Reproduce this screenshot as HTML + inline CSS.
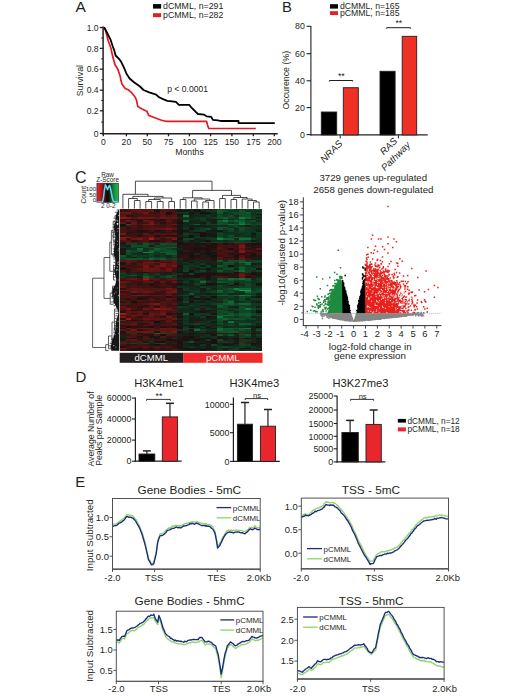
<!DOCTYPE html>
<html><head><meta charset="utf-8"><style>
html,body{margin:0;padding:0;background:#fff;width:520px;height:696px;overflow:hidden}
svg{display:block}
text{font-family:"Liberation Sans",sans-serif}
</style></head><body>
<svg width="520" height="696" viewBox="0 0 520 696">
<rect width="520" height="696" fill="#fff"/>
<text x="75.4" y="12.0" font-size="15.5" text-anchor="start" fill="#231f20">A</text>
<rect x="153.0" y="4.1" width="8.1" height="4.5" fill="#000"/>
<text x="163.0" y="8.9" font-size="8.8" text-anchor="start" fill="#231f20">dCMML, n=291</text>
<rect x="153.0" y="13.2" width="8.1" height="4.0" fill="#e21f26"/>
<text x="163.0" y="17.7" font-size="8.8" text-anchor="start" fill="#231f20">pCMML, n=282</text>
<line x1="103.1" y1="26.6" x2="103.1" y2="134.5" stroke="#231f20" stroke-width="1.5"/>
<line x1="102.3" y1="133.8" x2="277.7" y2="133.8" stroke="#231f20" stroke-width="1.5"/>
<line x1="99.8" y1="27.5" x2="103.1" y2="27.5" stroke="#231f20" stroke-width="1.3"/>
<text x="98.6" y="30.6" font-size="8.6" text-anchor="end" fill="#231f20">1.0</text>
<line x1="101.3" y1="37.95" x2="103.1" y2="37.95" stroke="#231f20" stroke-width="1.1"/>
<line x1="99.8" y1="48.4" x2="103.1" y2="48.4" stroke="#231f20" stroke-width="1.3"/>
<text x="98.6" y="51.5" font-size="8.6" text-anchor="end" fill="#231f20">0.8</text>
<line x1="101.3" y1="58.8" x2="103.1" y2="58.8" stroke="#231f20" stroke-width="1.1"/>
<line x1="99.8" y1="69.2" x2="103.1" y2="69.2" stroke="#231f20" stroke-width="1.3"/>
<text x="98.6" y="72.3" font-size="8.6" text-anchor="end" fill="#231f20">0.6</text>
<line x1="101.3" y1="79.7" x2="103.1" y2="79.7" stroke="#231f20" stroke-width="1.1"/>
<line x1="99.8" y1="90.2" x2="103.1" y2="90.2" stroke="#231f20" stroke-width="1.3"/>
<text x="98.6" y="93.3" font-size="8.6" text-anchor="end" fill="#231f20">0.4</text>
<line x1="101.3" y1="100.5" x2="103.1" y2="100.5" stroke="#231f20" stroke-width="1.1"/>
<line x1="99.8" y1="110.8" x2="103.1" y2="110.8" stroke="#231f20" stroke-width="1.3"/>
<text x="98.6" y="113.89999999999999" font-size="8.6" text-anchor="end" fill="#231f20">0.2</text>
<line x1="101.3" y1="122.15" x2="103.1" y2="122.15" stroke="#231f20" stroke-width="1.1"/>
<line x1="99.8" y1="133.5" x2="103.1" y2="133.5" stroke="#231f20" stroke-width="1.3"/>
<text x="98.6" y="136.6" font-size="8.6" text-anchor="end" fill="#231f20">0</text>
<line x1="103.3" y1="133.8" x2="103.3" y2="136.3" stroke="#231f20" stroke-width="1.3"/>
<text x="103.3" y="144.6" font-size="8.6" text-anchor="middle" fill="#231f20">0</text>
<line x1="126.4" y1="133.8" x2="126.4" y2="136.3" stroke="#231f20" stroke-width="1.3"/>
<text x="126.4" y="144.6" font-size="8.6" text-anchor="middle" fill="#231f20">20</text>
<line x1="147.3" y1="133.8" x2="147.3" y2="136.3" stroke="#231f20" stroke-width="1.3"/>
<text x="147.3" y="144.6" font-size="8.6" text-anchor="middle" fill="#231f20">50</text>
<line x1="168.5" y1="133.8" x2="168.5" y2="136.3" stroke="#231f20" stroke-width="1.3"/>
<text x="168.5" y="144.6" font-size="8.6" text-anchor="middle" fill="#231f20">75</text>
<line x1="189.4" y1="133.8" x2="189.4" y2="136.3" stroke="#231f20" stroke-width="1.3"/>
<text x="189.4" y="144.6" font-size="8.6" text-anchor="middle" fill="#231f20">100</text>
<line x1="210.6" y1="133.8" x2="210.6" y2="136.3" stroke="#231f20" stroke-width="1.3"/>
<text x="210.6" y="144.6" font-size="8.6" text-anchor="middle" fill="#231f20">125</text>
<line x1="231.9" y1="133.8" x2="231.9" y2="136.3" stroke="#231f20" stroke-width="1.3"/>
<text x="231.9" y="144.6" font-size="8.6" text-anchor="middle" fill="#231f20">150</text>
<line x1="253.3" y1="133.8" x2="253.3" y2="136.3" stroke="#231f20" stroke-width="1.3"/>
<text x="253.3" y="144.6" font-size="8.6" text-anchor="middle" fill="#231f20">175</text>
<line x1="274.3" y1="133.8" x2="274.3" y2="136.3" stroke="#231f20" stroke-width="1.3"/>
<text x="274.3" y="144.6" font-size="8.6" text-anchor="middle" fill="#231f20">200</text>
<text x="189.5" y="154.6" font-size="8.7" text-anchor="middle" fill="#231f20">Months</text>
<text x="83.0" y="80.6" font-size="8.8" text-anchor="middle" fill="#231f20" transform="rotate(-90 83.0 80.6)">Survival</text>
<text x="167.2" y="92.2" font-size="8.6" text-anchor="start" fill="#231f20">p &lt; 0.0001</text>
<polyline points="104.0,27.3 105.2,28.9 108.1,40.5 111.0,48.5 112.7,56.6 115.0,64.7 117.9,69.3 120.2,76.2 121.0,80.8 122.1,84.2 125.0,88.3 128.5,90.0 131.3,92.3 135.4,97.5 136.5,100.4 137.7,106.2 140.0,107.9 144.6,110.2 146.9,111.3 148.7,115.4 151.5,116.5 156.2,118.3 160.8,120.0 165.4,121.2 167.0,121.3 206.5,121.3 207.7,125.6 208.8,128.5 255.8,128.5" fill="none" stroke="#e01b22" stroke-width="1.7" stroke-linejoin="round"/>
<polyline points="104.0,27.3 106.9,32.4 110.4,39.3 112.7,46.2 114.4,50.8 115.6,55.5 119.0,58.9 120.8,61.2 124.2,68.2 126.6,74.0 129.6,78.5 134.0,82.3 140.0,86.5 143.5,90.0 149.2,92.3 156.2,94.6 158.5,96.9 163.1,99.2 167.3,100.8 171.9,101.3 176.0,101.9 178.8,104.8 189.2,104.8 191.5,107.7 195.0,111.2 197.9,114.0 204.2,114.6 206.5,116.3 211.2,116.9 212.9,119.8 218.0,120.4 220.4,121.0 238.5,121.0 238.5,123.1 274.8,123.1" fill="none" stroke="#000" stroke-width="1.8" stroke-linejoin="round"/>
<text x="281.9" y="11.9" font-size="14.8" text-anchor="start" fill="#231f20">B</text>
<rect x="330.0" y="4.2" width="8.0" height="4.4" fill="#000"/>
<text x="339.9" y="8.9" font-size="8.7" text-anchor="start" fill="#231f20">dCMML, n=165</text>
<rect x="330.0" y="11.2" width="8.0" height="3.8" fill="#e8201f"/>
<text x="339.9" y="15.7" font-size="8.7" text-anchor="start" fill="#231f20">pCMML, n=185</text>
<line x1="310.9" y1="26.0" x2="310.9" y2="135.4" stroke="#231f20" stroke-width="1.1"/>
<line x1="310.4" y1="134.9" x2="427.7" y2="134.9" stroke="#231f20" stroke-width="1.1"/>
<line x1="306.6" y1="26.3" x2="310.9" y2="26.3" stroke="#231f20" stroke-width="1.1"/>
<text x="304.9" y="29.400000000000002" font-size="8.8" text-anchor="end" fill="#231f20">80</text>
<line x1="306.6" y1="53.7" x2="310.9" y2="53.7" stroke="#231f20" stroke-width="1.1"/>
<text x="304.9" y="56.800000000000004" font-size="8.8" text-anchor="end" fill="#231f20">60</text>
<line x1="306.6" y1="80.8" x2="310.9" y2="80.8" stroke="#231f20" stroke-width="1.1"/>
<text x="304.9" y="83.89999999999999" font-size="8.8" text-anchor="end" fill="#231f20">40</text>
<line x1="306.6" y1="107.6" x2="310.9" y2="107.6" stroke="#231f20" stroke-width="1.1"/>
<text x="304.9" y="110.69999999999999" font-size="8.8" text-anchor="end" fill="#231f20">20</text>
<line x1="306.6" y1="134.6" x2="310.9" y2="134.6" stroke="#231f20" stroke-width="1.1"/>
<text x="304.9" y="137.7" font-size="8.8" text-anchor="end" fill="#231f20">0</text>
<text x="289.4" y="80.2" font-size="8.8" text-anchor="middle" fill="#231f20" transform="rotate(-90 289.4 80.2)">Occurence (%)</text>
<rect x="321.3" y="112.0" width="15.399999999999977" height="22.900000000000006" fill="#000" stroke="#231f20" stroke-width="0.9"/>
<rect x="343.3" y="87.7" width="15.0" height="47.2" fill="#ee3124" stroke="#231f20" stroke-width="0.9"/>
<rect x="380.0" y="71.3" width="15.100000000000023" height="63.60000000000001" fill="#000" stroke="#231f20" stroke-width="0.9"/>
<rect x="402.2" y="36.3" width="14.5" height="98.60000000000001" fill="#ee3124" stroke="#231f20" stroke-width="0.9"/>
<line x1="340.2" y1="134.9" x2="340.2" y2="138.4" stroke="#231f20" stroke-width="1.0"/>
<line x1="398.4" y1="134.9" x2="398.4" y2="138.4" stroke="#231f20" stroke-width="1.0"/>
<path d="M329.4,81.5 L329.4,80.5 L352.7,80.5 L352.7,81.5" fill="none" stroke="#231f20" stroke-width="1.0"/>
<text x="341.34999999999997" y="78.6" font-size="8.8" text-anchor="middle" fill="#231f20">**</text>
<path d="M386.7,28.7 L386.7,27.7 L410.4,27.7 L410.4,28.7" fill="none" stroke="#231f20" stroke-width="1.0"/>
<text x="398.84999999999997" y="25.8" font-size="8.8" text-anchor="middle" fill="#231f20">**</text>
<text x="343.0" y="144.3" font-size="9.6" text-anchor="end" fill="#231f20" transform="rotate(-45 343.0 144.3)" font-style="italic">NRAS</text>
<text x="397.8" y="141.6" font-size="9.6" text-anchor="end" fill="#231f20" transform="rotate(-45 397.8 141.6)" font-style="italic">RAS</text>
<text x="411.0" y="145.6" font-size="9.6" text-anchor="end" fill="#231f20" transform="rotate(-45 411.0 145.6)" font-style="italic">Pathway</text>
<text x="74.9" y="182.6" font-size="16" text-anchor="start" fill="#231f20">C</text>
<defs><linearGradient id="kg" x1="0" x2="1" y1="0" y2="0"><stop offset="0" stop-color="#e8222a"/><stop offset="0.18" stop-color="#b01c1f"/><stop offset="0.5" stop-color="#080808"/><stop offset="0.8" stop-color="#149040"/><stop offset="1" stop-color="#28b64c"/></linearGradient></defs>
<rect x="96.9" y="183.2" width="21.599999999999994" height="19.100000000000023" fill="url(#kg)" stroke="#231f20" stroke-width="0.6"/>
<polyline points="97.3,201.9 102.5,201.8 103.4,198.5 104.4,190.0 105.4,184.8 106.4,186.8 107.5,189.8 108.5,187.2 109.5,185.5 110.5,188.5 111.5,193.5 112.4,198.5 113.5,201.6 118.2,201.9" fill="none" stroke="#66d4ee" stroke-width="1.5" stroke-linejoin="round"/>
<text x="107.6" y="177.0" font-size="6.4" text-anchor="middle" fill="#231f20">Raw</text>
<text x="107.7" y="181.6" font-size="6.4" text-anchor="middle" fill="#231f20">Z-Score</text>
<text x="86.3" y="194.6" font-size="6.6" text-anchor="middle" fill="#231f20" transform="rotate(-90 86.3 194.6)">Count</text>
<text x="96.2" y="190.8" font-size="6.2" text-anchor="end" fill="#231f20">100</text>
<text x="96.2" y="196.6" font-size="6.2" text-anchor="end" fill="#231f20">50</text>
<text x="96.2" y="202.4" font-size="6.2" text-anchor="end" fill="#231f20">0</text>
<text x="108.2" y="207.8" font-size="6.4" text-anchor="middle" fill="#231f20">2 0-2</text>
<g shape-rendering="crispEdges"><rect x="120.00" y="208.60" width="6.04" height="1.96" fill="#511313"/><rect x="125.74" y="208.60" width="6.04" height="1.96" fill="#501313"/><rect x="131.48" y="208.60" width="6.04" height="1.96" fill="#571413"/><rect x="137.22" y="208.60" width="6.04" height="1.96" fill="#3b1212"/><rect x="142.96" y="208.60" width="6.04" height="1.96" fill="#5e1413"/><rect x="148.70" y="208.60" width="6.04" height="1.96" fill="#461312"/><rect x="154.44" y="208.60" width="6.04" height="1.96" fill="#3a1211"/><rect x="160.18" y="208.60" width="6.04" height="1.96" fill="#631514"/><rect x="165.92" y="208.60" width="6.04" height="1.96" fill="#661514"/><rect x="171.66" y="208.60" width="6.04" height="1.96" fill="#471312"/><rect x="177.40" y="208.60" width="5.94" height="1.96" fill="#131e16"/><rect x="183.04" y="208.60" width="5.94" height="1.96" fill="#12351f"/><rect x="188.68" y="208.60" width="5.94" height="1.96" fill="#132117"/><rect x="194.32" y="208.60" width="5.94" height="1.96" fill="#131e16"/><rect x="199.96" y="208.60" width="5.94" height="1.96" fill="#12331e"/><rect x="205.60" y="208.60" width="5.94" height="1.96" fill="#131c15"/><rect x="211.24" y="208.60" width="5.94" height="1.96" fill="#122a1b"/><rect x="216.88" y="208.60" width="5.94" height="1.96" fill="#104a28"/><rect x="222.52" y="208.60" width="5.94" height="1.96" fill="#113f23"/><rect x="228.16" y="208.60" width="5.94" height="1.96" fill="#10522b"/><rect x="233.80" y="208.60" width="5.94" height="1.96" fill="#113820"/><rect x="239.44" y="208.60" width="5.94" height="1.96" fill="#123720"/><rect x="245.08" y="208.60" width="5.94" height="1.96" fill="#104b28"/><rect x="250.72" y="208.60" width="5.94" height="1.96" fill="#113d22"/><rect x="256.36" y="208.60" width="5.94" height="1.96" fill="#0f6031"/><rect x="120.00" y="210.26" width="6.04" height="1.96" fill="#351211"/><rect x="125.74" y="210.26" width="6.04" height="1.96" fill="#3c1212"/><rect x="131.48" y="210.26" width="6.04" height="1.96" fill="#571413"/><rect x="137.22" y="210.26" width="6.04" height="1.96" fill="#5d1413"/><rect x="142.96" y="210.26" width="6.04" height="1.96" fill="#4f1313"/><rect x="148.70" y="210.26" width="6.04" height="1.96" fill="#631514"/><rect x="154.44" y="210.26" width="6.04" height="1.96" fill="#231010"/><rect x="160.18" y="210.26" width="6.04" height="1.96" fill="#4b1312"/><rect x="165.92" y="210.26" width="6.04" height="1.96" fill="#4a1312"/><rect x="171.66" y="210.26" width="6.04" height="1.96" fill="#451312"/><rect x="177.40" y="210.26" width="5.94" height="1.96" fill="#131914"/><rect x="183.04" y="210.26" width="5.94" height="1.96" fill="#131b15"/><rect x="188.68" y="210.26" width="5.94" height="1.96" fill="#132519"/><rect x="194.32" y="210.26" width="5.94" height="1.96" fill="#181010"/><rect x="199.96" y="210.26" width="5.94" height="1.96" fill="#132419"/><rect x="205.60" y="210.26" width="5.94" height="1.96" fill="#113921"/><rect x="211.24" y="210.26" width="5.94" height="1.96" fill="#12351f"/><rect x="216.88" y="210.26" width="5.94" height="1.96" fill="#0f5c2f"/><rect x="222.52" y="210.26" width="5.94" height="1.96" fill="#104d29"/><rect x="228.16" y="210.26" width="5.94" height="1.96" fill="#113820"/><rect x="233.80" y="210.26" width="5.94" height="1.96" fill="#12341f"/><rect x="239.44" y="210.26" width="5.94" height="1.96" fill="#10532b"/><rect x="245.08" y="210.26" width="5.94" height="1.96" fill="#12331f"/><rect x="250.72" y="210.26" width="5.94" height="1.96" fill="#113820"/><rect x="256.36" y="210.26" width="5.94" height="1.96" fill="#12341f"/><rect x="120.00" y="211.91" width="6.04" height="1.96" fill="#661514"/><rect x="125.74" y="211.91" width="6.04" height="1.96" fill="#711514"/><rect x="131.48" y="211.91" width="6.04" height="1.96" fill="#451312"/><rect x="137.22" y="211.91" width="6.04" height="1.96" fill="#511313"/><rect x="142.96" y="211.91" width="6.04" height="1.96" fill="#6c1514"/><rect x="148.70" y="211.91" width="6.04" height="1.96" fill="#351211"/><rect x="154.44" y="211.91" width="6.04" height="1.96" fill="#3c1212"/><rect x="160.18" y="211.91" width="6.04" height="1.96" fill="#5a1413"/><rect x="165.92" y="211.91" width="6.04" height="1.96" fill="#1b1010"/><rect x="171.66" y="211.91" width="6.04" height="1.96" fill="#471312"/><rect x="177.40" y="211.91" width="5.94" height="1.96" fill="#122e1d"/><rect x="183.04" y="211.91" width="5.94" height="1.96" fill="#12331e"/><rect x="188.68" y="211.91" width="5.94" height="1.96" fill="#131a14"/><rect x="194.32" y="211.91" width="5.94" height="1.96" fill="#132419"/><rect x="199.96" y="211.91" width="5.94" height="1.96" fill="#171010"/><rect x="205.60" y="211.91" width="5.94" height="1.96" fill="#1c1010"/><rect x="211.24" y="211.91" width="5.94" height="1.96" fill="#12291a"/><rect x="216.88" y="211.91" width="5.94" height="1.96" fill="#0f592e"/><rect x="222.52" y="211.91" width="5.94" height="1.96" fill="#12301d"/><rect x="228.16" y="211.91" width="5.94" height="1.96" fill="#113e23"/><rect x="233.80" y="211.91" width="5.94" height="1.96" fill="#104c28"/><rect x="239.44" y="211.91" width="5.94" height="1.96" fill="#104e29"/><rect x="245.08" y="211.91" width="5.94" height="1.96" fill="#0f5b2f"/><rect x="250.72" y="211.91" width="5.94" height="1.96" fill="#12301d"/><rect x="256.36" y="211.91" width="5.94" height="1.96" fill="#113f23"/><rect x="120.00" y="213.57" width="6.04" height="1.96" fill="#461312"/><rect x="125.74" y="213.57" width="6.04" height="1.96" fill="#431212"/><rect x="131.48" y="213.57" width="6.04" height="1.96" fill="#341211"/><rect x="137.22" y="213.57" width="6.04" height="1.96" fill="#341111"/><rect x="142.96" y="213.57" width="6.04" height="1.96" fill="#551413"/><rect x="148.70" y="213.57" width="6.04" height="1.96" fill="#4f1313"/><rect x="154.44" y="213.57" width="6.04" height="1.96" fill="#451312"/><rect x="160.18" y="213.57" width="6.04" height="1.96" fill="#461312"/><rect x="165.92" y="213.57" width="6.04" height="1.96" fill="#231010"/><rect x="171.66" y="213.57" width="6.04" height="1.96" fill="#441312"/><rect x="177.40" y="213.57" width="5.94" height="1.96" fill="#171010"/><rect x="183.04" y="213.57" width="5.94" height="1.96" fill="#13271a"/><rect x="188.68" y="213.57" width="5.94" height="1.96" fill="#131b15"/><rect x="194.32" y="213.57" width="5.94" height="1.96" fill="#122d1c"/><rect x="199.96" y="213.57" width="5.94" height="1.96" fill="#13271a"/><rect x="205.60" y="213.57" width="5.94" height="1.96" fill="#132519"/><rect x="211.24" y="213.57" width="5.94" height="1.96" fill="#132418"/><rect x="216.88" y="213.57" width="5.94" height="1.96" fill="#113e23"/><rect x="222.52" y="213.57" width="5.94" height="1.96" fill="#113921"/><rect x="228.16" y="213.57" width="5.94" height="1.96" fill="#12331e"/><rect x="233.80" y="213.57" width="5.94" height="1.96" fill="#113c22"/><rect x="239.44" y="213.57" width="5.94" height="1.96" fill="#104d29"/><rect x="245.08" y="213.57" width="5.94" height="1.96" fill="#114626"/><rect x="250.72" y="213.57" width="5.94" height="1.96" fill="#12301d"/><rect x="256.36" y="213.57" width="5.94" height="1.96" fill="#131914"/><rect x="120.00" y="215.22" width="6.04" height="1.96" fill="#5f1414"/><rect x="125.74" y="215.22" width="6.04" height="1.96" fill="#2b1111"/><rect x="131.48" y="215.22" width="6.04" height="1.96" fill="#361211"/><rect x="137.22" y="215.22" width="6.04" height="1.96" fill="#491312"/><rect x="142.96" y="215.22" width="6.04" height="1.96" fill="#461312"/><rect x="148.70" y="215.22" width="6.04" height="1.96" fill="#4a1312"/><rect x="154.44" y="215.22" width="6.04" height="1.96" fill="#421212"/><rect x="160.18" y="215.22" width="6.04" height="1.96" fill="#5a1413"/><rect x="165.92" y="215.22" width="6.04" height="1.96" fill="#4b1312"/><rect x="171.66" y="215.22" width="6.04" height="1.96" fill="#601414"/><rect x="177.40" y="215.22" width="5.94" height="1.96" fill="#131f16"/><rect x="183.04" y="215.22" width="5.94" height="1.96" fill="#0d793a"/><rect x="188.68" y="215.22" width="5.94" height="1.96" fill="#132218"/><rect x="194.32" y="215.22" width="5.94" height="1.96" fill="#132519"/><rect x="199.96" y="215.22" width="5.94" height="1.96" fill="#132419"/><rect x="205.60" y="215.22" width="5.94" height="1.96" fill="#113821"/><rect x="211.24" y="215.22" width="5.94" height="1.96" fill="#132519"/><rect x="216.88" y="215.22" width="5.94" height="1.96" fill="#104d29"/><rect x="222.52" y="215.22" width="5.94" height="1.96" fill="#12351f"/><rect x="228.16" y="215.22" width="5.94" height="1.96" fill="#104c29"/><rect x="233.80" y="215.22" width="5.94" height="1.96" fill="#122c1c"/><rect x="239.44" y="215.22" width="5.94" height="1.96" fill="#104a28"/><rect x="245.08" y="215.22" width="5.94" height="1.96" fill="#104d29"/><rect x="250.72" y="215.22" width="5.94" height="1.96" fill="#123620"/><rect x="256.36" y="215.22" width="5.94" height="1.96" fill="#12331e"/><rect x="120.00" y="216.88" width="6.04" height="1.96" fill="#8a1716"/><rect x="125.74" y="216.88" width="6.04" height="1.96" fill="#7a1615"/><rect x="131.48" y="216.88" width="6.04" height="1.96" fill="#581413"/><rect x="137.22" y="216.88" width="6.04" height="1.96" fill="#721615"/><rect x="142.96" y="216.88" width="6.04" height="1.96" fill="#6b1514"/><rect x="148.70" y="216.88" width="6.04" height="1.96" fill="#751615"/><rect x="154.44" y="216.88" width="6.04" height="1.96" fill="#561413"/><rect x="160.18" y="216.88" width="6.04" height="1.96" fill="#6d1514"/><rect x="165.92" y="216.88" width="6.04" height="1.96" fill="#621414"/><rect x="171.66" y="216.88" width="6.04" height="1.96" fill="#6a1514"/><rect x="177.40" y="216.88" width="5.94" height="1.96" fill="#12281a"/><rect x="183.04" y="216.88" width="5.94" height="1.96" fill="#123720"/><rect x="188.68" y="216.88" width="5.94" height="1.96" fill="#132419"/><rect x="194.32" y="216.88" width="5.94" height="1.96" fill="#12321e"/><rect x="199.96" y="216.88" width="5.94" height="1.96" fill="#113c22"/><rect x="205.60" y="216.88" width="5.94" height="1.96" fill="#122d1c"/><rect x="211.24" y="216.88" width="5.94" height="1.96" fill="#113821"/><rect x="216.88" y="216.88" width="5.94" height="1.96" fill="#104f2a"/><rect x="222.52" y="216.88" width="5.94" height="1.96" fill="#0f6231"/><rect x="228.16" y="216.88" width="5.94" height="1.96" fill="#114425"/><rect x="233.80" y="216.88" width="5.94" height="1.96" fill="#113f23"/><rect x="239.44" y="216.88" width="5.94" height="1.96" fill="#0d7c3c"/><rect x="245.08" y="216.88" width="5.94" height="1.96" fill="#0f5e30"/><rect x="250.72" y="216.88" width="5.94" height="1.96" fill="#113f23"/><rect x="256.36" y="216.88" width="5.94" height="1.96" fill="#132619"/><rect x="120.00" y="218.53" width="6.04" height="1.96" fill="#361211"/><rect x="125.74" y="218.53" width="6.04" height="1.96" fill="#281110"/><rect x="131.48" y="218.53" width="6.04" height="1.96" fill="#131b15"/><rect x="137.22" y="218.53" width="6.04" height="1.96" fill="#351211"/><rect x="142.96" y="218.53" width="6.04" height="1.96" fill="#391211"/><rect x="148.70" y="218.53" width="6.04" height="1.96" fill="#1c1010"/><rect x="154.44" y="218.53" width="6.04" height="1.96" fill="#431212"/><rect x="160.18" y="218.53" width="6.04" height="1.96" fill="#1d1010"/><rect x="165.92" y="218.53" width="6.04" height="1.96" fill="#4c1312"/><rect x="171.66" y="218.53" width="6.04" height="1.96" fill="#431212"/><rect x="177.40" y="218.53" width="5.94" height="1.96" fill="#2b1111"/><rect x="183.04" y="218.53" width="5.94" height="1.96" fill="#122d1c"/><rect x="188.68" y="218.53" width="5.94" height="1.96" fill="#12311e"/><rect x="194.32" y="218.53" width="5.94" height="1.96" fill="#122b1b"/><rect x="199.96" y="218.53" width="5.94" height="1.96" fill="#113d23"/><rect x="205.60" y="218.53" width="5.94" height="1.96" fill="#132318"/><rect x="211.24" y="218.53" width="5.94" height="1.96" fill="#131d16"/><rect x="216.88" y="218.53" width="5.94" height="1.96" fill="#122a1b"/><rect x="222.52" y="218.53" width="5.94" height="1.96" fill="#113820"/><rect x="228.16" y="218.53" width="5.94" height="1.96" fill="#132619"/><rect x="233.80" y="218.53" width="5.94" height="1.96" fill="#113d23"/><rect x="239.44" y="218.53" width="5.94" height="1.96" fill="#104a28"/><rect x="245.08" y="218.53" width="5.94" height="1.96" fill="#122c1c"/><rect x="250.72" y="218.53" width="5.94" height="1.96" fill="#13271a"/><rect x="256.36" y="218.53" width="5.94" height="1.96" fill="#113d23"/><rect x="120.00" y="220.19" width="6.04" height="1.96" fill="#3c1212"/><rect x="125.74" y="220.19" width="6.04" height="1.96" fill="#6d1514"/><rect x="131.48" y="220.19" width="6.04" height="1.96" fill="#4f1313"/><rect x="137.22" y="220.19" width="6.04" height="1.96" fill="#261110"/><rect x="142.96" y="220.19" width="6.04" height="1.96" fill="#671514"/><rect x="148.70" y="220.19" width="6.04" height="1.96" fill="#5f1414"/><rect x="154.44" y="220.19" width="6.04" height="1.96" fill="#2c1111"/><rect x="160.18" y="220.19" width="6.04" height="1.96" fill="#321111"/><rect x="165.92" y="220.19" width="6.04" height="1.96" fill="#571413"/><rect x="171.66" y="220.19" width="6.04" height="1.96" fill="#3b1212"/><rect x="177.40" y="220.19" width="5.94" height="1.96" fill="#231010"/><rect x="183.04" y="220.19" width="5.94" height="1.96" fill="#0e6934"/><rect x="188.68" y="220.19" width="5.94" height="1.96" fill="#132117"/><rect x="194.32" y="220.19" width="5.94" height="1.96" fill="#13271a"/><rect x="199.96" y="220.19" width="5.94" height="1.96" fill="#12331f"/><rect x="205.60" y="220.19" width="5.94" height="1.96" fill="#12291b"/><rect x="211.24" y="220.19" width="5.94" height="1.96" fill="#131f17"/><rect x="216.88" y="220.19" width="5.94" height="1.96" fill="#0f582d"/><rect x="222.52" y="220.19" width="5.94" height="1.96" fill="#0e7639"/><rect x="228.16" y="220.19" width="5.94" height="1.96" fill="#104f2a"/><rect x="233.80" y="220.19" width="5.94" height="1.96" fill="#0f592e"/><rect x="239.44" y="220.19" width="5.94" height="1.96" fill="#0f592e"/><rect x="245.08" y="220.19" width="5.94" height="1.96" fill="#113f23"/><rect x="250.72" y="220.19" width="5.94" height="1.96" fill="#104a28"/><rect x="256.36" y="220.19" width="5.94" height="1.96" fill="#122d1c"/><rect x="120.00" y="221.85" width="6.04" height="1.96" fill="#621514"/><rect x="125.74" y="221.85" width="6.04" height="1.96" fill="#1e1010"/><rect x="131.48" y="221.85" width="6.04" height="1.96" fill="#671514"/><rect x="137.22" y="221.85" width="6.04" height="1.96" fill="#351211"/><rect x="142.96" y="221.85" width="6.04" height="1.96" fill="#401212"/><rect x="148.70" y="221.85" width="6.04" height="1.96" fill="#751615"/><rect x="154.44" y="221.85" width="6.04" height="1.96" fill="#421212"/><rect x="160.18" y="221.85" width="6.04" height="1.96" fill="#261110"/><rect x="165.92" y="221.85" width="6.04" height="1.96" fill="#471312"/><rect x="171.66" y="221.85" width="6.04" height="1.96" fill="#3b1212"/><rect x="177.40" y="221.85" width="5.94" height="1.96" fill="#171010"/><rect x="183.04" y="221.85" width="5.94" height="1.96" fill="#132619"/><rect x="188.68" y="221.85" width="5.94" height="1.96" fill="#132619"/><rect x="194.32" y="221.85" width="5.94" height="1.96" fill="#132519"/><rect x="199.96" y="221.85" width="5.94" height="1.96" fill="#131b15"/><rect x="205.60" y="221.85" width="5.94" height="1.96" fill="#12351f"/><rect x="211.24" y="221.85" width="5.94" height="1.96" fill="#132017"/><rect x="216.88" y="221.85" width="5.94" height="1.96" fill="#104e29"/><rect x="222.52" y="221.85" width="5.94" height="1.96" fill="#104c28"/><rect x="228.16" y="221.85" width="5.94" height="1.96" fill="#12311e"/><rect x="233.80" y="221.85" width="5.94" height="1.96" fill="#114224"/><rect x="239.44" y="221.85" width="5.94" height="1.96" fill="#0e6f37"/><rect x="245.08" y="221.85" width="5.94" height="1.96" fill="#114425"/><rect x="250.72" y="221.85" width="5.94" height="1.96" fill="#113921"/><rect x="256.36" y="221.85" width="5.94" height="1.96" fill="#113f23"/><rect x="120.00" y="223.50" width="6.04" height="1.96" fill="#1b1010"/><rect x="125.74" y="223.50" width="6.04" height="1.96" fill="#941816"/><rect x="131.48" y="223.50" width="6.04" height="1.96" fill="#611414"/><rect x="137.22" y="223.50" width="6.04" height="1.96" fill="#4d1313"/><rect x="142.96" y="223.50" width="6.04" height="1.96" fill="#781615"/><rect x="148.70" y="223.50" width="6.04" height="1.96" fill="#831715"/><rect x="154.44" y="223.50" width="6.04" height="1.96" fill="#581413"/><rect x="160.18" y="223.50" width="6.04" height="1.96" fill="#421212"/><rect x="165.92" y="223.50" width="6.04" height="1.96" fill="#4b1312"/><rect x="171.66" y="223.50" width="6.04" height="1.96" fill="#721615"/><rect x="177.40" y="223.50" width="5.94" height="1.96" fill="#131c15"/><rect x="183.04" y="223.50" width="5.94" height="1.96" fill="#132619"/><rect x="188.68" y="223.50" width="5.94" height="1.96" fill="#12351f"/><rect x="194.32" y="223.50" width="5.94" height="1.96" fill="#0f5b2f"/><rect x="199.96" y="223.50" width="5.94" height="1.96" fill="#122f1d"/><rect x="205.60" y="223.50" width="5.94" height="1.96" fill="#113f23"/><rect x="211.24" y="223.50" width="5.94" height="1.96" fill="#113f23"/><rect x="216.88" y="223.50" width="5.94" height="1.96" fill="#0f582d"/><rect x="222.52" y="223.50" width="5.94" height="1.96" fill="#104a28"/><rect x="228.16" y="223.50" width="5.94" height="1.96" fill="#0e6a35"/><rect x="233.80" y="223.50" width="5.94" height="1.96" fill="#0f592e"/><rect x="239.44" y="223.50" width="5.94" height="1.96" fill="#0d7b3b"/><rect x="245.08" y="223.50" width="5.94" height="1.96" fill="#0f582d"/><rect x="250.72" y="223.50" width="5.94" height="1.96" fill="#114526"/><rect x="256.36" y="223.50" width="5.94" height="1.96" fill="#104a28"/><rect x="120.00" y="225.16" width="6.04" height="1.96" fill="#1f1010"/><rect x="125.74" y="225.16" width="6.04" height="1.96" fill="#122d1c"/><rect x="131.48" y="225.16" width="6.04" height="1.96" fill="#4c1312"/><rect x="137.22" y="225.16" width="6.04" height="1.96" fill="#321111"/><rect x="142.96" y="225.16" width="6.04" height="1.96" fill="#481312"/><rect x="148.70" y="225.16" width="6.04" height="1.96" fill="#491312"/><rect x="154.44" y="225.16" width="6.04" height="1.96" fill="#3c1212"/><rect x="160.18" y="225.16" width="6.04" height="1.96" fill="#3d1212"/><rect x="165.92" y="225.16" width="6.04" height="1.96" fill="#4d1313"/><rect x="171.66" y="225.16" width="6.04" height="1.96" fill="#351211"/><rect x="177.40" y="225.16" width="5.94" height="1.96" fill="#131814"/><rect x="183.04" y="225.16" width="5.94" height="1.96" fill="#12291a"/><rect x="188.68" y="225.16" width="5.94" height="1.96" fill="#131f16"/><rect x="194.32" y="225.16" width="5.94" height="1.96" fill="#131d16"/><rect x="199.96" y="225.16" width="5.94" height="1.96" fill="#131f16"/><rect x="205.60" y="225.16" width="5.94" height="1.96" fill="#132318"/><rect x="211.24" y="225.16" width="5.94" height="1.96" fill="#122a1b"/><rect x="216.88" y="225.16" width="5.94" height="1.96" fill="#122f1d"/><rect x="222.52" y="225.16" width="5.94" height="1.96" fill="#122d1c"/><rect x="228.16" y="225.16" width="5.94" height="1.96" fill="#113e23"/><rect x="233.80" y="225.16" width="5.94" height="1.96" fill="#114425"/><rect x="239.44" y="225.16" width="5.94" height="1.96" fill="#122e1d"/><rect x="245.08" y="225.16" width="5.94" height="1.96" fill="#131e16"/><rect x="250.72" y="225.16" width="5.94" height="1.96" fill="#12351f"/><rect x="256.36" y="225.16" width="5.94" height="1.96" fill="#12281a"/><rect x="120.00" y="226.81" width="6.04" height="1.96" fill="#123620"/><rect x="125.74" y="226.81" width="6.04" height="1.96" fill="#281110"/><rect x="131.48" y="226.81" width="6.04" height="1.96" fill="#481312"/><rect x="137.22" y="226.81" width="6.04" height="1.96" fill="#371211"/><rect x="142.96" y="226.81" width="6.04" height="1.96" fill="#441312"/><rect x="148.70" y="226.81" width="6.04" height="1.96" fill="#4e1313"/><rect x="154.44" y="226.81" width="6.04" height="1.96" fill="#451312"/><rect x="160.18" y="226.81" width="6.04" height="1.96" fill="#4d1313"/><rect x="165.92" y="226.81" width="6.04" height="1.96" fill="#4e1313"/><rect x="171.66" y="226.81" width="6.04" height="1.96" fill="#4a1312"/><rect x="177.40" y="226.81" width="5.94" height="1.96" fill="#131914"/><rect x="183.04" y="226.81" width="5.94" height="1.96" fill="#12311e"/><rect x="188.68" y="226.81" width="5.94" height="1.96" fill="#132218"/><rect x="194.32" y="226.81" width="5.94" height="1.96" fill="#122a1b"/><rect x="199.96" y="226.81" width="5.94" height="1.96" fill="#122d1c"/><rect x="205.60" y="226.81" width="5.94" height="1.96" fill="#132117"/><rect x="211.24" y="226.81" width="5.94" height="1.96" fill="#122f1d"/><rect x="216.88" y="226.81" width="5.94" height="1.96" fill="#10522b"/><rect x="222.52" y="226.81" width="5.94" height="1.96" fill="#10512b"/><rect x="228.16" y="226.81" width="5.94" height="1.96" fill="#122e1d"/><rect x="233.80" y="226.81" width="5.94" height="1.96" fill="#113f23"/><rect x="239.44" y="226.81" width="5.94" height="1.96" fill="#104b28"/><rect x="245.08" y="226.81" width="5.94" height="1.96" fill="#114224"/><rect x="250.72" y="226.81" width="5.94" height="1.96" fill="#13271a"/><rect x="256.36" y="226.81" width="5.94" height="1.96" fill="#12331f"/><rect x="120.00" y="228.47" width="6.04" height="1.96" fill="#4a1312"/><rect x="125.74" y="228.47" width="6.04" height="1.96" fill="#301111"/><rect x="131.48" y="228.47" width="6.04" height="1.96" fill="#441312"/><rect x="137.22" y="228.47" width="6.04" height="1.96" fill="#3d1212"/><rect x="142.96" y="228.47" width="6.04" height="1.96" fill="#501313"/><rect x="148.70" y="228.47" width="6.04" height="1.96" fill="#4f1313"/><rect x="154.44" y="228.47" width="6.04" height="1.96" fill="#591413"/><rect x="160.18" y="228.47" width="6.04" height="1.96" fill="#641514"/><rect x="165.92" y="228.47" width="6.04" height="1.96" fill="#741615"/><rect x="171.66" y="228.47" width="6.04" height="1.96" fill="#5d1413"/><rect x="177.40" y="228.47" width="5.94" height="1.96" fill="#131814"/><rect x="183.04" y="228.47" width="5.94" height="1.96" fill="#12321e"/><rect x="188.68" y="228.47" width="5.94" height="1.96" fill="#191010"/><rect x="194.32" y="228.47" width="5.94" height="1.96" fill="#122f1d"/><rect x="199.96" y="228.47" width="5.94" height="1.96" fill="#113b22"/><rect x="205.60" y="228.47" width="5.94" height="1.96" fill="#104c29"/><rect x="211.24" y="228.47" width="5.94" height="1.96" fill="#132218"/><rect x="216.88" y="228.47" width="5.94" height="1.96" fill="#10552c"/><rect x="222.52" y="228.47" width="5.94" height="1.96" fill="#113d22"/><rect x="228.16" y="228.47" width="5.94" height="1.96" fill="#104b28"/><rect x="233.80" y="228.47" width="5.94" height="1.96" fill="#122c1c"/><rect x="239.44" y="228.47" width="5.94" height="1.96" fill="#104a28"/><rect x="245.08" y="228.47" width="5.94" height="1.96" fill="#123620"/><rect x="250.72" y="228.47" width="5.94" height="1.96" fill="#12331e"/><rect x="256.36" y="228.47" width="5.94" height="1.96" fill="#13271a"/><rect x="120.00" y="230.13" width="6.04" height="1.96" fill="#4d1312"/><rect x="125.74" y="230.13" width="6.04" height="1.96" fill="#3d1212"/><rect x="131.48" y="230.13" width="6.04" height="1.96" fill="#351211"/><rect x="137.22" y="230.13" width="6.04" height="1.96" fill="#221010"/><rect x="142.96" y="230.13" width="6.04" height="1.96" fill="#241010"/><rect x="148.70" y="230.13" width="6.04" height="1.96" fill="#3d1212"/><rect x="154.44" y="230.13" width="6.04" height="1.96" fill="#1d1010"/><rect x="160.18" y="230.13" width="6.04" height="1.96" fill="#131f16"/><rect x="165.92" y="230.13" width="6.04" height="1.96" fill="#431212"/><rect x="171.66" y="230.13" width="6.04" height="1.96" fill="#261110"/><rect x="177.40" y="230.13" width="5.94" height="1.96" fill="#1d1010"/><rect x="183.04" y="230.13" width="5.94" height="1.96" fill="#131814"/><rect x="188.68" y="230.13" width="5.94" height="1.96" fill="#122b1b"/><rect x="194.32" y="230.13" width="5.94" height="1.96" fill="#123720"/><rect x="199.96" y="230.13" width="5.94" height="1.96" fill="#113820"/><rect x="205.60" y="230.13" width="5.94" height="1.96" fill="#131f16"/><rect x="211.24" y="230.13" width="5.94" height="1.96" fill="#131b15"/><rect x="216.88" y="230.13" width="5.94" height="1.96" fill="#131814"/><rect x="222.52" y="230.13" width="5.94" height="1.96" fill="#122b1b"/><rect x="228.16" y="230.13" width="5.94" height="1.96" fill="#114124"/><rect x="233.80" y="230.13" width="5.94" height="1.96" fill="#122f1d"/><rect x="239.44" y="230.13" width="5.94" height="1.96" fill="#114124"/><rect x="245.08" y="230.13" width="5.94" height="1.96" fill="#113921"/><rect x="250.72" y="230.13" width="5.94" height="1.96" fill="#12331e"/><rect x="256.36" y="230.13" width="5.94" height="1.96" fill="#131f17"/><rect x="120.00" y="231.78" width="6.04" height="1.96" fill="#3d1212"/><rect x="125.74" y="231.78" width="6.04" height="1.96" fill="#291111"/><rect x="131.48" y="231.78" width="6.04" height="1.96" fill="#2e1111"/><rect x="137.22" y="231.78" width="6.04" height="1.96" fill="#2b1111"/><rect x="142.96" y="231.78" width="6.04" height="1.96" fill="#2e1111"/><rect x="148.70" y="231.78" width="6.04" height="1.96" fill="#241010"/><rect x="154.44" y="231.78" width="6.04" height="1.96" fill="#371211"/><rect x="160.18" y="231.78" width="6.04" height="1.96" fill="#291111"/><rect x="165.92" y="231.78" width="6.04" height="1.96" fill="#311111"/><rect x="171.66" y="231.78" width="6.04" height="1.96" fill="#3e1212"/><rect x="177.40" y="231.78" width="5.94" height="1.96" fill="#1f1010"/><rect x="183.04" y="231.78" width="5.94" height="1.96" fill="#132419"/><rect x="188.68" y="231.78" width="5.94" height="1.96" fill="#131f17"/><rect x="194.32" y="231.78" width="5.94" height="1.96" fill="#161010"/><rect x="199.96" y="231.78" width="5.94" height="1.96" fill="#131914"/><rect x="205.60" y="231.78" width="5.94" height="1.96" fill="#12291a"/><rect x="211.24" y="231.78" width="5.94" height="1.96" fill="#132017"/><rect x="216.88" y="231.78" width="5.94" height="1.96" fill="#12351f"/><rect x="222.52" y="231.78" width="5.94" height="1.96" fill="#132519"/><rect x="228.16" y="231.78" width="5.94" height="1.96" fill="#122d1c"/><rect x="233.80" y="231.78" width="5.94" height="1.96" fill="#12331e"/><rect x="239.44" y="231.78" width="5.94" height="1.96" fill="#113c22"/><rect x="245.08" y="231.78" width="5.94" height="1.96" fill="#12321e"/><rect x="250.72" y="231.78" width="5.94" height="1.96" fill="#122d1c"/><rect x="256.36" y="231.78" width="5.94" height="1.96" fill="#113c22"/><rect x="120.00" y="233.44" width="6.04" height="1.96" fill="#791615"/><rect x="125.74" y="233.44" width="6.04" height="1.96" fill="#311111"/><rect x="131.48" y="233.44" width="6.04" height="1.96" fill="#3d1212"/><rect x="137.22" y="233.44" width="6.04" height="1.96" fill="#311111"/><rect x="142.96" y="233.44" width="6.04" height="1.96" fill="#5a1413"/><rect x="148.70" y="233.44" width="6.04" height="1.96" fill="#3d1212"/><rect x="154.44" y="233.44" width="6.04" height="1.96" fill="#4f1313"/><rect x="160.18" y="233.44" width="6.04" height="1.96" fill="#4f1313"/><rect x="165.92" y="233.44" width="6.04" height="1.96" fill="#4b1312"/><rect x="171.66" y="233.44" width="6.04" height="1.96" fill="#581413"/><rect x="177.40" y="233.44" width="5.94" height="1.96" fill="#131814"/><rect x="183.04" y="233.44" width="5.94" height="1.96" fill="#113e23"/><rect x="188.68" y="233.44" width="5.94" height="1.96" fill="#122e1c"/><rect x="194.32" y="233.44" width="5.94" height="1.96" fill="#122d1c"/><rect x="199.96" y="233.44" width="5.94" height="1.96" fill="#1a1010"/><rect x="205.60" y="233.44" width="5.94" height="1.96" fill="#201010"/><rect x="211.24" y="233.44" width="5.94" height="1.96" fill="#131b15"/><rect x="216.88" y="233.44" width="5.94" height="1.96" fill="#114225"/><rect x="222.52" y="233.44" width="5.94" height="1.96" fill="#12321e"/><rect x="228.16" y="233.44" width="5.94" height="1.96" fill="#122f1d"/><rect x="233.80" y="233.44" width="5.94" height="1.96" fill="#122c1c"/><rect x="239.44" y="233.44" width="5.94" height="1.96" fill="#122b1b"/><rect x="245.08" y="233.44" width="5.94" height="1.96" fill="#113921"/><rect x="250.72" y="233.44" width="5.94" height="1.96" fill="#131814"/><rect x="256.36" y="233.44" width="5.94" height="1.96" fill="#113a21"/><rect x="120.00" y="235.09" width="6.04" height="1.96" fill="#132218"/><rect x="125.74" y="235.09" width="6.04" height="1.96" fill="#401212"/><rect x="131.48" y="235.09" width="6.04" height="1.96" fill="#3d1212"/><rect x="137.22" y="235.09" width="6.04" height="1.96" fill="#281110"/><rect x="142.96" y="235.09" width="6.04" height="1.96" fill="#411212"/><rect x="148.70" y="235.09" width="6.04" height="1.96" fill="#571413"/><rect x="154.44" y="235.09" width="6.04" height="1.96" fill="#231010"/><rect x="160.18" y="235.09" width="6.04" height="1.96" fill="#381211"/><rect x="165.92" y="235.09" width="6.04" height="1.96" fill="#271110"/><rect x="171.66" y="235.09" width="6.04" height="1.96" fill="#2c1111"/><rect x="177.40" y="235.09" width="5.94" height="1.96" fill="#132218"/><rect x="183.04" y="235.09" width="5.94" height="1.96" fill="#12301d"/><rect x="188.68" y="235.09" width="5.94" height="1.96" fill="#161010"/><rect x="194.32" y="235.09" width="5.94" height="1.96" fill="#122a1b"/><rect x="199.96" y="235.09" width="5.94" height="1.96" fill="#161010"/><rect x="205.60" y="235.09" width="5.94" height="1.96" fill="#131c15"/><rect x="211.24" y="235.09" width="5.94" height="1.96" fill="#131914"/><rect x="216.88" y="235.09" width="5.94" height="1.96" fill="#114024"/><rect x="222.52" y="235.09" width="5.94" height="1.96" fill="#123720"/><rect x="228.16" y="235.09" width="5.94" height="1.96" fill="#104d29"/><rect x="233.80" y="235.09" width="5.94" height="1.96" fill="#122b1b"/><rect x="239.44" y="235.09" width="5.94" height="1.96" fill="#12331f"/><rect x="245.08" y="235.09" width="5.94" height="1.96" fill="#122f1d"/><rect x="250.72" y="235.09" width="5.94" height="1.96" fill="#132117"/><rect x="256.36" y="235.09" width="5.94" height="1.96" fill="#12341f"/><rect x="120.00" y="236.75" width="6.04" height="1.96" fill="#891716"/><rect x="125.74" y="236.75" width="6.04" height="1.96" fill="#841715"/><rect x="131.48" y="236.75" width="6.04" height="1.96" fill="#471312"/><rect x="137.22" y="236.75" width="6.04" height="1.96" fill="#5d1413"/><rect x="142.96" y="236.75" width="6.04" height="1.96" fill="#581413"/><rect x="148.70" y="236.75" width="6.04" height="1.96" fill="#781615"/><rect x="154.44" y="236.75" width="6.04" height="1.96" fill="#481312"/><rect x="160.18" y="236.75" width="6.04" height="1.96" fill="#4e1313"/><rect x="165.92" y="236.75" width="6.04" height="1.96" fill="#7e1615"/><rect x="171.66" y="236.75" width="6.04" height="1.96" fill="#6d1514"/><rect x="177.40" y="236.75" width="5.94" height="1.96" fill="#241010"/><rect x="183.04" y="236.75" width="5.94" height="1.96" fill="#291111"/><rect x="188.68" y="236.75" width="5.94" height="1.96" fill="#1b1010"/><rect x="194.32" y="236.75" width="5.94" height="1.96" fill="#114626"/><rect x="199.96" y="236.75" width="5.94" height="1.96" fill="#12301d"/><rect x="205.60" y="236.75" width="5.94" height="1.96" fill="#12351f"/><rect x="211.24" y="236.75" width="5.94" height="1.96" fill="#122c1c"/><rect x="216.88" y="236.75" width="5.94" height="1.96" fill="#0f5b2e"/><rect x="222.52" y="236.75" width="5.94" height="1.96" fill="#113921"/><rect x="228.16" y="236.75" width="5.94" height="1.96" fill="#113f23"/><rect x="233.80" y="236.75" width="5.94" height="1.96" fill="#10532b"/><rect x="239.44" y="236.75" width="5.94" height="1.96" fill="#104f2a"/><rect x="245.08" y="236.75" width="5.94" height="1.96" fill="#104e29"/><rect x="250.72" y="236.75" width="5.94" height="1.96" fill="#12281a"/><rect x="256.36" y="236.75" width="5.94" height="1.96" fill="#123620"/><rect x="120.00" y="238.40" width="6.04" height="1.96" fill="#781615"/><rect x="125.74" y="238.40" width="6.04" height="1.96" fill="#331111"/><rect x="131.48" y="238.40" width="6.04" height="1.96" fill="#681514"/><rect x="137.22" y="238.40" width="6.04" height="1.96" fill="#761615"/><rect x="142.96" y="238.40" width="6.04" height="1.96" fill="#511313"/><rect x="148.70" y="238.40" width="6.04" height="1.96" fill="#a61917"/><rect x="154.44" y="238.40" width="6.04" height="1.96" fill="#511313"/><rect x="160.18" y="238.40" width="6.04" height="1.96" fill="#361211"/><rect x="165.92" y="238.40" width="6.04" height="1.96" fill="#461312"/><rect x="171.66" y="238.40" width="6.04" height="1.96" fill="#7e1615"/><rect x="177.40" y="238.40" width="5.94" height="1.96" fill="#1d1010"/><rect x="183.04" y="238.40" width="5.94" height="1.96" fill="#104827"/><rect x="188.68" y="238.40" width="5.94" height="1.96" fill="#114425"/><rect x="194.32" y="238.40" width="5.94" height="1.96" fill="#131f17"/><rect x="199.96" y="238.40" width="5.94" height="1.96" fill="#12281a"/><rect x="205.60" y="238.40" width="5.94" height="1.96" fill="#12351f"/><rect x="211.24" y="238.40" width="5.94" height="1.96" fill="#113a21"/><rect x="216.88" y="238.40" width="5.94" height="1.96" fill="#0d8640"/><rect x="222.52" y="238.40" width="5.94" height="1.96" fill="#0f5e30"/><rect x="228.16" y="238.40" width="5.94" height="1.96" fill="#0f5c2f"/><rect x="233.80" y="238.40" width="5.94" height="1.96" fill="#122b1b"/><rect x="239.44" y="238.40" width="5.94" height="1.96" fill="#0e7037"/><rect x="245.08" y="238.40" width="5.94" height="1.96" fill="#0e6d36"/><rect x="250.72" y="238.40" width="5.94" height="1.96" fill="#113b22"/><rect x="256.36" y="238.40" width="5.94" height="1.96" fill="#122f1d"/><rect x="120.00" y="240.06" width="6.04" height="1.96" fill="#531413"/><rect x="125.74" y="240.06" width="6.04" height="1.96" fill="#491312"/><rect x="131.48" y="240.06" width="6.04" height="1.96" fill="#2c1111"/><rect x="137.22" y="240.06" width="6.04" height="1.96" fill="#391211"/><rect x="142.96" y="240.06" width="6.04" height="1.96" fill="#491312"/><rect x="148.70" y="240.06" width="6.04" height="1.96" fill="#251110"/><rect x="154.44" y="240.06" width="6.04" height="1.96" fill="#271110"/><rect x="160.18" y="240.06" width="6.04" height="1.96" fill="#351211"/><rect x="165.92" y="240.06" width="6.04" height="1.96" fill="#491312"/><rect x="171.66" y="240.06" width="6.04" height="1.96" fill="#2b1111"/><rect x="177.40" y="240.06" width="5.94" height="1.96" fill="#131f16"/><rect x="183.04" y="240.06" width="5.94" height="1.96" fill="#12341f"/><rect x="188.68" y="240.06" width="5.94" height="1.96" fill="#131f16"/><rect x="194.32" y="240.06" width="5.94" height="1.96" fill="#132419"/><rect x="199.96" y="240.06" width="5.94" height="1.96" fill="#132117"/><rect x="205.60" y="240.06" width="5.94" height="1.96" fill="#221010"/><rect x="211.24" y="240.06" width="5.94" height="1.96" fill="#122a1b"/><rect x="216.88" y="240.06" width="5.94" height="1.96" fill="#12341f"/><rect x="222.52" y="240.06" width="5.94" height="1.96" fill="#122a1b"/><rect x="228.16" y="240.06" width="5.94" height="1.96" fill="#123720"/><rect x="233.80" y="240.06" width="5.94" height="1.96" fill="#123620"/><rect x="239.44" y="240.06" width="5.94" height="1.96" fill="#114425"/><rect x="245.08" y="240.06" width="5.94" height="1.96" fill="#123620"/><rect x="250.72" y="240.06" width="5.94" height="1.96" fill="#131b15"/><rect x="256.36" y="240.06" width="5.94" height="1.96" fill="#122c1c"/><rect x="120.00" y="241.72" width="6.04" height="1.96" fill="#131d16"/><rect x="125.74" y="241.72" width="6.04" height="1.96" fill="#671514"/><rect x="131.48" y="241.72" width="6.04" height="1.96" fill="#4c1312"/><rect x="137.22" y="241.72" width="6.04" height="1.96" fill="#471312"/><rect x="142.96" y="241.72" width="6.04" height="1.96" fill="#581413"/><rect x="148.70" y="241.72" width="6.04" height="1.96" fill="#461312"/><rect x="154.44" y="241.72" width="6.04" height="1.96" fill="#461312"/><rect x="160.18" y="241.72" width="6.04" height="1.96" fill="#461312"/><rect x="165.92" y="241.72" width="6.04" height="1.96" fill="#601414"/><rect x="171.66" y="241.72" width="6.04" height="1.96" fill="#4b1312"/><rect x="177.40" y="241.72" width="5.94" height="1.96" fill="#1f1010"/><rect x="183.04" y="241.72" width="5.94" height="1.96" fill="#132418"/><rect x="188.68" y="241.72" width="5.94" height="1.96" fill="#132117"/><rect x="194.32" y="241.72" width="5.94" height="1.96" fill="#132017"/><rect x="199.96" y="241.72" width="5.94" height="1.96" fill="#113921"/><rect x="205.60" y="241.72" width="5.94" height="1.96" fill="#13271a"/><rect x="211.24" y="241.72" width="5.94" height="1.96" fill="#114124"/><rect x="216.88" y="241.72" width="5.94" height="1.96" fill="#114024"/><rect x="222.52" y="241.72" width="5.94" height="1.96" fill="#12341f"/><rect x="228.16" y="241.72" width="5.94" height="1.96" fill="#12301d"/><rect x="233.80" y="241.72" width="5.94" height="1.96" fill="#10512a"/><rect x="239.44" y="241.72" width="5.94" height="1.96" fill="#113b22"/><rect x="245.08" y="241.72" width="5.94" height="1.96" fill="#114024"/><rect x="250.72" y="241.72" width="5.94" height="1.96" fill="#114325"/><rect x="256.36" y="241.72" width="5.94" height="1.96" fill="#12281a"/><rect x="120.00" y="243.37" width="6.04" height="1.96" fill="#2e1111"/><rect x="125.74" y="243.37" width="6.04" height="1.96" fill="#113c22"/><rect x="131.48" y="243.37" width="6.04" height="1.96" fill="#114225"/><rect x="137.22" y="243.37" width="6.04" height="1.96" fill="#12291a"/><rect x="142.96" y="243.37" width="6.04" height="1.96" fill="#10532b"/><rect x="148.70" y="243.37" width="6.04" height="1.96" fill="#114225"/><rect x="154.44" y="243.37" width="6.04" height="1.96" fill="#122a1b"/><rect x="160.18" y="243.37" width="6.04" height="1.96" fill="#104d29"/><rect x="165.92" y="243.37" width="6.04" height="1.96" fill="#104927"/><rect x="171.66" y="243.37" width="6.04" height="1.96" fill="#104c28"/><rect x="177.40" y="243.37" width="5.94" height="1.96" fill="#191010"/><rect x="183.04" y="243.37" width="5.94" height="1.96" fill="#261110"/><rect x="188.68" y="243.37" width="5.94" height="1.96" fill="#2f1111"/><rect x="194.32" y="243.37" width="5.94" height="1.96" fill="#131814"/><rect x="199.96" y="243.37" width="5.94" height="1.96" fill="#131814"/><rect x="205.60" y="243.37" width="5.94" height="1.96" fill="#351211"/><rect x="211.24" y="243.37" width="5.94" height="1.96" fill="#1d1010"/><rect x="216.88" y="243.37" width="5.94" height="1.96" fill="#401212"/><rect x="222.52" y="243.37" width="5.94" height="1.96" fill="#1d1010"/><rect x="228.16" y="243.37" width="5.94" height="1.96" fill="#351211"/><rect x="233.80" y="243.37" width="5.94" height="1.96" fill="#401212"/><rect x="239.44" y="243.37" width="5.94" height="1.96" fill="#561413"/><rect x="245.08" y="243.37" width="5.94" height="1.96" fill="#2c1111"/><rect x="250.72" y="243.37" width="5.94" height="1.96" fill="#191010"/><rect x="256.36" y="243.37" width="5.94" height="1.96" fill="#1c1010"/><rect x="120.00" y="245.03" width="6.04" height="1.96" fill="#122a1b"/><rect x="125.74" y="245.03" width="6.04" height="1.96" fill="#132017"/><rect x="131.48" y="245.03" width="6.04" height="1.96" fill="#104c28"/><rect x="137.22" y="245.03" width="6.04" height="1.96" fill="#104d29"/><rect x="142.96" y="245.03" width="6.04" height="1.96" fill="#104d29"/><rect x="148.70" y="245.03" width="6.04" height="1.96" fill="#132017"/><rect x="154.44" y="245.03" width="6.04" height="1.96" fill="#114224"/><rect x="160.18" y="245.03" width="6.04" height="1.96" fill="#114225"/><rect x="165.92" y="245.03" width="6.04" height="1.96" fill="#113c22"/><rect x="171.66" y="245.03" width="6.04" height="1.96" fill="#113c22"/><rect x="177.40" y="245.03" width="5.94" height="1.96" fill="#131c15"/><rect x="183.04" y="245.03" width="5.94" height="1.96" fill="#271110"/><rect x="188.68" y="245.03" width="5.94" height="1.96" fill="#281111"/><rect x="194.32" y="245.03" width="5.94" height="1.96" fill="#271110"/><rect x="199.96" y="245.03" width="5.94" height="1.96" fill="#341211"/><rect x="205.60" y="245.03" width="5.94" height="1.96" fill="#181010"/><rect x="211.24" y="245.03" width="5.94" height="1.96" fill="#211010"/><rect x="216.88" y="245.03" width="5.94" height="1.96" fill="#3f1212"/><rect x="222.52" y="245.03" width="5.94" height="1.96" fill="#421212"/><rect x="228.16" y="245.03" width="5.94" height="1.96" fill="#391211"/><rect x="233.80" y="245.03" width="5.94" height="1.96" fill="#3e1212"/><rect x="239.44" y="245.03" width="5.94" height="1.96" fill="#7a1615"/><rect x="245.08" y="245.03" width="5.94" height="1.96" fill="#301111"/><rect x="250.72" y="245.03" width="5.94" height="1.96" fill="#2b1111"/><rect x="256.36" y="245.03" width="5.94" height="1.96" fill="#2f1111"/><rect x="120.00" y="246.68" width="6.04" height="1.96" fill="#113921"/><rect x="125.74" y="246.68" width="6.04" height="1.96" fill="#122a1b"/><rect x="131.48" y="246.68" width="6.04" height="1.96" fill="#113f23"/><rect x="137.22" y="246.68" width="6.04" height="1.96" fill="#12291b"/><rect x="142.96" y="246.68" width="6.04" height="1.96" fill="#114526"/><rect x="148.70" y="246.68" width="6.04" height="1.96" fill="#104c29"/><rect x="154.44" y="246.68" width="6.04" height="1.96" fill="#113e23"/><rect x="160.18" y="246.68" width="6.04" height="1.96" fill="#114425"/><rect x="165.92" y="246.68" width="6.04" height="1.96" fill="#10522b"/><rect x="171.66" y="246.68" width="6.04" height="1.96" fill="#0f5d2f"/><rect x="177.40" y="246.68" width="5.94" height="1.96" fill="#261110"/><rect x="183.04" y="246.68" width="5.94" height="1.96" fill="#281110"/><rect x="188.68" y="246.68" width="5.94" height="1.96" fill="#261110"/><rect x="194.32" y="246.68" width="5.94" height="1.96" fill="#211010"/><rect x="199.96" y="246.68" width="5.94" height="1.96" fill="#131814"/><rect x="205.60" y="246.68" width="5.94" height="1.96" fill="#281110"/><rect x="211.24" y="246.68" width="5.94" height="1.96" fill="#1a1010"/><rect x="216.88" y="246.68" width="5.94" height="1.96" fill="#501313"/><rect x="222.52" y="246.68" width="5.94" height="1.96" fill="#301111"/><rect x="228.16" y="246.68" width="5.94" height="1.96" fill="#451312"/><rect x="233.80" y="246.68" width="5.94" height="1.96" fill="#3b1212"/><rect x="239.44" y="246.68" width="5.94" height="1.96" fill="#7e1615"/><rect x="245.08" y="246.68" width="5.94" height="1.96" fill="#441312"/><rect x="250.72" y="246.68" width="5.94" height="1.96" fill="#251010"/><rect x="256.36" y="246.68" width="5.94" height="1.96" fill="#271110"/><rect x="120.00" y="248.34" width="6.04" height="1.96" fill="#251010"/><rect x="125.74" y="248.34" width="6.04" height="1.96" fill="#122c1c"/><rect x="131.48" y="248.34" width="6.04" height="1.96" fill="#12311e"/><rect x="137.22" y="248.34" width="6.04" height="1.96" fill="#0e6c35"/><rect x="142.96" y="248.34" width="6.04" height="1.96" fill="#12301d"/><rect x="148.70" y="248.34" width="6.04" height="1.96" fill="#113921"/><rect x="154.44" y="248.34" width="6.04" height="1.96" fill="#0f5f30"/><rect x="160.18" y="248.34" width="6.04" height="1.96" fill="#104e29"/><rect x="165.92" y="248.34" width="6.04" height="1.96" fill="#114024"/><rect x="171.66" y="248.34" width="6.04" height="1.96" fill="#12311e"/><rect x="177.40" y="248.34" width="5.94" height="1.96" fill="#132519"/><rect x="183.04" y="248.34" width="5.94" height="1.96" fill="#241010"/><rect x="188.68" y="248.34" width="5.94" height="1.96" fill="#261110"/><rect x="194.32" y="248.34" width="5.94" height="1.96" fill="#171010"/><rect x="199.96" y="248.34" width="5.94" height="1.96" fill="#1d1010"/><rect x="205.60" y="248.34" width="5.94" height="1.96" fill="#1f1010"/><rect x="211.24" y="248.34" width="5.94" height="1.96" fill="#251110"/><rect x="216.88" y="248.34" width="5.94" height="1.96" fill="#4f1313"/><rect x="222.52" y="248.34" width="5.94" height="1.96" fill="#391211"/><rect x="228.16" y="248.34" width="5.94" height="1.96" fill="#171010"/><rect x="233.80" y="248.34" width="5.94" height="1.96" fill="#3f1212"/><rect x="239.44" y="248.34" width="5.94" height="1.96" fill="#611414"/><rect x="245.08" y="248.34" width="5.94" height="1.96" fill="#2e1111"/><rect x="250.72" y="248.34" width="5.94" height="1.96" fill="#351211"/><rect x="256.36" y="248.34" width="5.94" height="1.96" fill="#5d1413"/><rect x="120.00" y="250.00" width="6.04" height="1.96" fill="#131d16"/><rect x="125.74" y="250.00" width="6.04" height="1.96" fill="#10562c"/><rect x="131.48" y="250.00" width="6.04" height="1.96" fill="#114224"/><rect x="137.22" y="250.00" width="6.04" height="1.96" fill="#10512b"/><rect x="142.96" y="250.00" width="6.04" height="1.96" fill="#12321e"/><rect x="148.70" y="250.00" width="6.04" height="1.96" fill="#0f5e30"/><rect x="154.44" y="250.00" width="6.04" height="1.96" fill="#104d29"/><rect x="160.18" y="250.00" width="6.04" height="1.96" fill="#114726"/><rect x="165.92" y="250.00" width="6.04" height="1.96" fill="#10512b"/><rect x="171.66" y="250.00" width="6.04" height="1.96" fill="#104a28"/><rect x="177.40" y="250.00" width="5.94" height="1.96" fill="#131914"/><rect x="183.04" y="250.00" width="5.94" height="1.96" fill="#391211"/><rect x="188.68" y="250.00" width="5.94" height="1.96" fill="#231010"/><rect x="194.32" y="250.00" width="5.94" height="1.96" fill="#221010"/><rect x="199.96" y="250.00" width="5.94" height="1.96" fill="#311111"/><rect x="205.60" y="250.00" width="5.94" height="1.96" fill="#1f1010"/><rect x="211.24" y="250.00" width="5.94" height="1.96" fill="#381211"/><rect x="216.88" y="250.00" width="5.94" height="1.96" fill="#381211"/><rect x="222.52" y="250.00" width="5.94" height="1.96" fill="#491312"/><rect x="228.16" y="250.00" width="5.94" height="1.96" fill="#441312"/><rect x="233.80" y="250.00" width="5.94" height="1.96" fill="#281110"/><rect x="239.44" y="250.00" width="5.94" height="1.96" fill="#7d1615"/><rect x="245.08" y="250.00" width="5.94" height="1.96" fill="#4f1313"/><rect x="250.72" y="250.00" width="5.94" height="1.96" fill="#3f1212"/><rect x="256.36" y="250.00" width="5.94" height="1.96" fill="#281111"/><rect x="120.00" y="251.65" width="6.04" height="1.96" fill="#131a14"/><rect x="125.74" y="251.65" width="6.04" height="1.96" fill="#114727"/><rect x="131.48" y="251.65" width="6.04" height="1.96" fill="#114124"/><rect x="137.22" y="251.65" width="6.04" height="1.96" fill="#132318"/><rect x="142.96" y="251.65" width="6.04" height="1.96" fill="#0d843f"/><rect x="148.70" y="251.65" width="6.04" height="1.96" fill="#0e7238"/><rect x="154.44" y="251.65" width="6.04" height="1.96" fill="#12351f"/><rect x="160.18" y="251.65" width="6.04" height="1.96" fill="#10572d"/><rect x="165.92" y="251.65" width="6.04" height="1.96" fill="#10562d"/><rect x="171.66" y="251.65" width="6.04" height="1.96" fill="#104f2a"/><rect x="177.40" y="251.65" width="5.94" height="1.96" fill="#131d16"/><rect x="183.04" y="251.65" width="5.94" height="1.96" fill="#211010"/><rect x="188.68" y="251.65" width="5.94" height="1.96" fill="#201010"/><rect x="194.32" y="251.65" width="5.94" height="1.96" fill="#241010"/><rect x="199.96" y="251.65" width="5.94" height="1.96" fill="#2a1111"/><rect x="205.60" y="251.65" width="5.94" height="1.96" fill="#131a15"/><rect x="211.24" y="251.65" width="5.94" height="1.96" fill="#1a1010"/><rect x="216.88" y="251.65" width="5.94" height="1.96" fill="#4c1312"/><rect x="222.52" y="251.65" width="5.94" height="1.96" fill="#391211"/><rect x="228.16" y="251.65" width="5.94" height="1.96" fill="#3e1212"/><rect x="233.80" y="251.65" width="5.94" height="1.96" fill="#2f1111"/><rect x="239.44" y="251.65" width="5.94" height="1.96" fill="#871716"/><rect x="245.08" y="251.65" width="5.94" height="1.96" fill="#2a1111"/><rect x="250.72" y="251.65" width="5.94" height="1.96" fill="#431212"/><rect x="256.36" y="251.65" width="5.94" height="1.96" fill="#501313"/><rect x="120.00" y="253.31" width="6.04" height="1.96" fill="#261110"/><rect x="125.74" y="253.31" width="6.04" height="1.96" fill="#104827"/><rect x="131.48" y="253.31" width="6.04" height="1.96" fill="#122f1d"/><rect x="137.22" y="253.31" width="6.04" height="1.96" fill="#122b1b"/><rect x="142.96" y="253.31" width="6.04" height="1.96" fill="#122c1c"/><rect x="148.70" y="253.31" width="6.04" height="1.96" fill="#113e23"/><rect x="154.44" y="253.31" width="6.04" height="1.96" fill="#12351f"/><rect x="160.18" y="253.31" width="6.04" height="1.96" fill="#12351f"/><rect x="165.92" y="253.31" width="6.04" height="1.96" fill="#10552c"/><rect x="171.66" y="253.31" width="6.04" height="1.96" fill="#0f582d"/><rect x="177.40" y="253.31" width="5.94" height="1.96" fill="#131a14"/><rect x="183.04" y="253.31" width="5.94" height="1.96" fill="#261110"/><rect x="188.68" y="253.31" width="5.94" height="1.96" fill="#211010"/><rect x="194.32" y="253.31" width="5.94" height="1.96" fill="#12291b"/><rect x="199.96" y="253.31" width="5.94" height="1.96" fill="#261110"/><rect x="205.60" y="253.31" width="5.94" height="1.96" fill="#171010"/><rect x="211.24" y="253.31" width="5.94" height="1.96" fill="#131914"/><rect x="216.88" y="253.31" width="5.94" height="1.96" fill="#411212"/><rect x="222.52" y="253.31" width="5.94" height="1.96" fill="#461312"/><rect x="228.16" y="253.31" width="5.94" height="1.96" fill="#291111"/><rect x="233.80" y="253.31" width="5.94" height="1.96" fill="#2e1111"/><rect x="239.44" y="253.31" width="5.94" height="1.96" fill="#281111"/><rect x="245.08" y="253.31" width="5.94" height="1.96" fill="#3d1212"/><rect x="250.72" y="253.31" width="5.94" height="1.96" fill="#1c1010"/><rect x="256.36" y="253.31" width="5.94" height="1.96" fill="#3b1212"/><rect x="120.00" y="254.96" width="6.04" height="1.96" fill="#10532b"/><rect x="125.74" y="254.96" width="6.04" height="1.96" fill="#122d1c"/><rect x="131.48" y="254.96" width="6.04" height="1.96" fill="#114224"/><rect x="137.22" y="254.96" width="6.04" height="1.96" fill="#123720"/><rect x="142.96" y="254.96" width="6.04" height="1.96" fill="#113921"/><rect x="148.70" y="254.96" width="6.04" height="1.96" fill="#114024"/><rect x="154.44" y="254.96" width="6.04" height="1.96" fill="#132619"/><rect x="160.18" y="254.96" width="6.04" height="1.96" fill="#123620"/><rect x="165.92" y="254.96" width="6.04" height="1.96" fill="#12281a"/><rect x="171.66" y="254.96" width="6.04" height="1.96" fill="#114024"/><rect x="177.40" y="254.96" width="5.94" height="1.96" fill="#2e1111"/><rect x="183.04" y="254.96" width="5.94" height="1.96" fill="#311111"/><rect x="188.68" y="254.96" width="5.94" height="1.96" fill="#1a1010"/><rect x="194.32" y="254.96" width="5.94" height="1.96" fill="#251010"/><rect x="199.96" y="254.96" width="5.94" height="1.96" fill="#132017"/><rect x="205.60" y="254.96" width="5.94" height="1.96" fill="#131b15"/><rect x="211.24" y="254.96" width="5.94" height="1.96" fill="#161010"/><rect x="216.88" y="254.96" width="5.94" height="1.96" fill="#381211"/><rect x="222.52" y="254.96" width="5.94" height="1.96" fill="#431212"/><rect x="228.16" y="254.96" width="5.94" height="1.96" fill="#3d1212"/><rect x="233.80" y="254.96" width="5.94" height="1.96" fill="#201010"/><rect x="239.44" y="254.96" width="5.94" height="1.96" fill="#4d1313"/><rect x="245.08" y="254.96" width="5.94" height="1.96" fill="#2d1111"/><rect x="250.72" y="254.96" width="5.94" height="1.96" fill="#1c1010"/><rect x="256.36" y="254.96" width="5.94" height="1.96" fill="#131c15"/><rect x="120.00" y="256.62" width="6.04" height="1.96" fill="#104927"/><rect x="125.74" y="256.62" width="6.04" height="1.96" fill="#122f1d"/><rect x="131.48" y="256.62" width="6.04" height="1.96" fill="#131a14"/><rect x="137.22" y="256.62" width="6.04" height="1.96" fill="#113c22"/><rect x="142.96" y="256.62" width="6.04" height="1.96" fill="#12291a"/><rect x="148.70" y="256.62" width="6.04" height="1.96" fill="#114325"/><rect x="154.44" y="256.62" width="6.04" height="1.96" fill="#113e23"/><rect x="160.18" y="256.62" width="6.04" height="1.96" fill="#113f23"/><rect x="165.92" y="256.62" width="6.04" height="1.96" fill="#12281a"/><rect x="171.66" y="256.62" width="6.04" height="1.96" fill="#12311e"/><rect x="177.40" y="256.62" width="5.94" height="1.96" fill="#261110"/><rect x="183.04" y="256.62" width="5.94" height="1.96" fill="#351211"/><rect x="188.68" y="256.62" width="5.94" height="1.96" fill="#191010"/><rect x="194.32" y="256.62" width="5.94" height="1.96" fill="#221010"/><rect x="199.96" y="256.62" width="5.94" height="1.96" fill="#301111"/><rect x="205.60" y="256.62" width="5.94" height="1.96" fill="#2c1111"/><rect x="211.24" y="256.62" width="5.94" height="1.96" fill="#131a15"/><rect x="216.88" y="256.62" width="5.94" height="1.96" fill="#561413"/><rect x="222.52" y="256.62" width="5.94" height="1.96" fill="#2a1111"/><rect x="228.16" y="256.62" width="5.94" height="1.96" fill="#2f1111"/><rect x="233.80" y="256.62" width="5.94" height="1.96" fill="#191010"/><rect x="239.44" y="256.62" width="5.94" height="1.96" fill="#5c1413"/><rect x="245.08" y="256.62" width="5.94" height="1.96" fill="#251010"/><rect x="250.72" y="256.62" width="5.94" height="1.96" fill="#291111"/><rect x="256.36" y="256.62" width="5.94" height="1.96" fill="#351211"/><rect x="120.00" y="258.27" width="6.04" height="1.96" fill="#114626"/><rect x="125.74" y="258.27" width="6.04" height="1.96" fill="#104f2a"/><rect x="131.48" y="258.27" width="6.04" height="1.96" fill="#10522b"/><rect x="137.22" y="258.27" width="6.04" height="1.96" fill="#10532b"/><rect x="142.96" y="258.27" width="6.04" height="1.96" fill="#114526"/><rect x="148.70" y="258.27" width="6.04" height="1.96" fill="#0f6432"/><rect x="154.44" y="258.27" width="6.04" height="1.96" fill="#104f2a"/><rect x="160.18" y="258.27" width="6.04" height="1.96" fill="#0f592e"/><rect x="165.92" y="258.27" width="6.04" height="1.96" fill="#113e23"/><rect x="171.66" y="258.27" width="6.04" height="1.96" fill="#114726"/><rect x="177.40" y="258.27" width="5.94" height="1.96" fill="#122d1c"/><rect x="183.04" y="258.27" width="5.94" height="1.96" fill="#311111"/><rect x="188.68" y="258.27" width="5.94" height="1.96" fill="#231010"/><rect x="194.32" y="258.27" width="5.94" height="1.96" fill="#351211"/><rect x="199.96" y="258.27" width="5.94" height="1.96" fill="#351211"/><rect x="205.60" y="258.27" width="5.94" height="1.96" fill="#391211"/><rect x="211.24" y="258.27" width="5.94" height="1.96" fill="#241010"/><rect x="216.88" y="258.27" width="5.94" height="1.96" fill="#541413"/><rect x="222.52" y="258.27" width="5.94" height="1.96" fill="#3c1212"/><rect x="228.16" y="258.27" width="5.94" height="1.96" fill="#481312"/><rect x="233.80" y="258.27" width="5.94" height="1.96" fill="#2e1111"/><rect x="239.44" y="258.27" width="5.94" height="1.96" fill="#651514"/><rect x="245.08" y="258.27" width="5.94" height="1.96" fill="#481312"/><rect x="250.72" y="258.27" width="5.94" height="1.96" fill="#321111"/><rect x="256.36" y="258.27" width="5.94" height="1.96" fill="#131d16"/><rect x="120.00" y="259.93" width="6.04" height="1.96" fill="#5e1413"/><rect x="125.74" y="259.93" width="6.04" height="1.96" fill="#651514"/><rect x="131.48" y="259.93" width="6.04" height="1.96" fill="#571413"/><rect x="137.22" y="259.93" width="6.04" height="1.96" fill="#3c1212"/><rect x="142.96" y="259.93" width="6.04" height="1.96" fill="#4d1313"/><rect x="148.70" y="259.93" width="6.04" height="1.96" fill="#531313"/><rect x="154.44" y="259.93" width="6.04" height="1.96" fill="#341111"/><rect x="160.18" y="259.93" width="6.04" height="1.96" fill="#5a1413"/><rect x="165.92" y="259.93" width="6.04" height="1.96" fill="#581413"/><rect x="171.66" y="259.93" width="6.04" height="1.96" fill="#651514"/><rect x="177.40" y="259.93" width="5.94" height="1.96" fill="#132218"/><rect x="183.04" y="259.93" width="5.94" height="1.96" fill="#131d16"/><rect x="188.68" y="259.93" width="5.94" height="1.96" fill="#12281a"/><rect x="194.32" y="259.93" width="5.94" height="1.96" fill="#132619"/><rect x="199.96" y="259.93" width="5.94" height="1.96" fill="#122b1b"/><rect x="205.60" y="259.93" width="5.94" height="1.96" fill="#132619"/><rect x="211.24" y="259.93" width="5.94" height="1.96" fill="#132117"/><rect x="216.88" y="259.93" width="5.94" height="1.96" fill="#10542c"/><rect x="222.52" y="259.93" width="5.94" height="1.96" fill="#122c1c"/><rect x="228.16" y="259.93" width="5.94" height="1.96" fill="#104a28"/><rect x="233.80" y="259.93" width="5.94" height="1.96" fill="#104a28"/><rect x="239.44" y="259.93" width="5.94" height="1.96" fill="#0f592e"/><rect x="245.08" y="259.93" width="5.94" height="1.96" fill="#113921"/><rect x="250.72" y="259.93" width="5.94" height="1.96" fill="#113d22"/><rect x="256.36" y="259.93" width="5.94" height="1.96" fill="#114024"/><rect x="120.00" y="261.59" width="6.04" height="1.96" fill="#131b15"/><rect x="125.74" y="261.59" width="6.04" height="1.96" fill="#661514"/><rect x="131.48" y="261.59" width="6.04" height="1.96" fill="#3e1212"/><rect x="137.22" y="261.59" width="6.04" height="1.96" fill="#3b1212"/><rect x="142.96" y="261.59" width="6.04" height="1.96" fill="#651514"/><rect x="148.70" y="261.59" width="6.04" height="1.96" fill="#701514"/><rect x="154.44" y="261.59" width="6.04" height="1.96" fill="#5f1414"/><rect x="160.18" y="261.59" width="6.04" height="1.96" fill="#3a1211"/><rect x="165.92" y="261.59" width="6.04" height="1.96" fill="#2f1111"/><rect x="171.66" y="261.59" width="6.04" height="1.96" fill="#601414"/><rect x="177.40" y="261.59" width="5.94" height="1.96" fill="#132117"/><rect x="183.04" y="261.59" width="5.94" height="1.96" fill="#123720"/><rect x="188.68" y="261.59" width="5.94" height="1.96" fill="#171010"/><rect x="194.32" y="261.59" width="5.94" height="1.96" fill="#12341f"/><rect x="199.96" y="261.59" width="5.94" height="1.96" fill="#132117"/><rect x="205.60" y="261.59" width="5.94" height="1.96" fill="#122a1b"/><rect x="211.24" y="261.59" width="5.94" height="1.96" fill="#12281a"/><rect x="216.88" y="261.59" width="5.94" height="1.96" fill="#122d1c"/><rect x="222.52" y="261.59" width="5.94" height="1.96" fill="#0f582d"/><rect x="228.16" y="261.59" width="5.94" height="1.96" fill="#10552c"/><rect x="233.80" y="261.59" width="5.94" height="1.96" fill="#12311e"/><rect x="239.44" y="261.59" width="5.94" height="1.96" fill="#0e6a35"/><rect x="245.08" y="261.59" width="5.94" height="1.96" fill="#0e7438"/><rect x="250.72" y="261.59" width="5.94" height="1.96" fill="#114124"/><rect x="256.36" y="261.59" width="5.94" height="1.96" fill="#113f23"/><rect x="120.00" y="263.24" width="6.04" height="1.96" fill="#131914"/><rect x="125.74" y="263.24" width="6.04" height="1.96" fill="#4f1313"/><rect x="131.48" y="263.24" width="6.04" height="1.96" fill="#351211"/><rect x="137.22" y="263.24" width="6.04" height="1.96" fill="#541413"/><rect x="142.96" y="263.24" width="6.04" height="1.96" fill="#5f1414"/><rect x="148.70" y="263.24" width="6.04" height="1.96" fill="#561413"/><rect x="154.44" y="263.24" width="6.04" height="1.96" fill="#3e1212"/><rect x="160.18" y="263.24" width="6.04" height="1.96" fill="#781615"/><rect x="165.92" y="263.24" width="6.04" height="1.96" fill="#551413"/><rect x="171.66" y="263.24" width="6.04" height="1.96" fill="#581413"/><rect x="177.40" y="263.24" width="5.94" height="1.96" fill="#132318"/><rect x="183.04" y="263.24" width="5.94" height="1.96" fill="#12281a"/><rect x="188.68" y="263.24" width="5.94" height="1.96" fill="#12301d"/><rect x="194.32" y="263.24" width="5.94" height="1.96" fill="#132519"/><rect x="199.96" y="263.24" width="5.94" height="1.96" fill="#113921"/><rect x="205.60" y="263.24" width="5.94" height="1.96" fill="#131f16"/><rect x="211.24" y="263.24" width="5.94" height="1.96" fill="#132519"/><rect x="216.88" y="263.24" width="5.94" height="1.96" fill="#12321e"/><rect x="222.52" y="263.24" width="5.94" height="1.96" fill="#104927"/><rect x="228.16" y="263.24" width="5.94" height="1.96" fill="#104827"/><rect x="233.80" y="263.24" width="5.94" height="1.96" fill="#12301d"/><rect x="239.44" y="263.24" width="5.94" height="1.96" fill="#113b22"/><rect x="245.08" y="263.24" width="5.94" height="1.96" fill="#0f6633"/><rect x="250.72" y="263.24" width="5.94" height="1.96" fill="#131f16"/><rect x="256.36" y="263.24" width="5.94" height="1.96" fill="#132318"/><rect x="120.00" y="264.90" width="6.04" height="1.96" fill="#4a1312"/><rect x="125.74" y="264.90" width="6.04" height="1.96" fill="#351211"/><rect x="131.48" y="264.90" width="6.04" height="1.96" fill="#3d1212"/><rect x="137.22" y="264.90" width="6.04" height="1.96" fill="#471312"/><rect x="142.96" y="264.90" width="6.04" height="1.96" fill="#731615"/><rect x="148.70" y="264.90" width="6.04" height="1.96" fill="#3b1212"/><rect x="154.44" y="264.90" width="6.04" height="1.96" fill="#5f1414"/><rect x="160.18" y="264.90" width="6.04" height="1.96" fill="#7c1615"/><rect x="165.92" y="264.90" width="6.04" height="1.96" fill="#511313"/><rect x="171.66" y="264.90" width="6.04" height="1.96" fill="#761615"/><rect x="177.40" y="264.90" width="5.94" height="1.96" fill="#241010"/><rect x="183.04" y="264.90" width="5.94" height="1.96" fill="#123720"/><rect x="188.68" y="264.90" width="5.94" height="1.96" fill="#12341f"/><rect x="194.32" y="264.90" width="5.94" height="1.96" fill="#12321e"/><rect x="199.96" y="264.90" width="5.94" height="1.96" fill="#131c15"/><rect x="205.60" y="264.90" width="5.94" height="1.96" fill="#113a21"/><rect x="211.24" y="264.90" width="5.94" height="1.96" fill="#131914"/><rect x="216.88" y="264.90" width="5.94" height="1.96" fill="#10552c"/><rect x="222.52" y="264.90" width="5.94" height="1.96" fill="#114425"/><rect x="228.16" y="264.90" width="5.94" height="1.96" fill="#161010"/><rect x="233.80" y="264.90" width="5.94" height="1.96" fill="#122d1c"/><rect x="239.44" y="264.90" width="5.94" height="1.96" fill="#114024"/><rect x="245.08" y="264.90" width="5.94" height="1.96" fill="#123620"/><rect x="250.72" y="264.90" width="5.94" height="1.96" fill="#122e1d"/><rect x="256.36" y="264.90" width="5.94" height="1.96" fill="#12331f"/><rect x="120.00" y="266.55" width="6.04" height="1.96" fill="#2c1111"/><rect x="125.74" y="266.55" width="6.04" height="1.96" fill="#4b1312"/><rect x="131.48" y="266.55" width="6.04" height="1.96" fill="#3d1212"/><rect x="137.22" y="266.55" width="6.04" height="1.96" fill="#311111"/><rect x="142.96" y="266.55" width="6.04" height="1.96" fill="#771615"/><rect x="148.70" y="266.55" width="6.04" height="1.96" fill="#4a1312"/><rect x="154.44" y="266.55" width="6.04" height="1.96" fill="#5c1413"/><rect x="160.18" y="266.55" width="6.04" height="1.96" fill="#481312"/><rect x="165.92" y="266.55" width="6.04" height="1.96" fill="#531413"/><rect x="171.66" y="266.55" width="6.04" height="1.96" fill="#421212"/><rect x="177.40" y="266.55" width="5.94" height="1.96" fill="#271110"/><rect x="183.04" y="266.55" width="5.94" height="1.96" fill="#113c22"/><rect x="188.68" y="266.55" width="5.94" height="1.96" fill="#132318"/><rect x="194.32" y="266.55" width="5.94" height="1.96" fill="#122d1c"/><rect x="199.96" y="266.55" width="5.94" height="1.96" fill="#113b22"/><rect x="205.60" y="266.55" width="5.94" height="1.96" fill="#12331f"/><rect x="211.24" y="266.55" width="5.94" height="1.96" fill="#132117"/><rect x="216.88" y="266.55" width="5.94" height="1.96" fill="#113921"/><rect x="222.52" y="266.55" width="5.94" height="1.96" fill="#114425"/><rect x="228.16" y="266.55" width="5.94" height="1.96" fill="#123720"/><rect x="233.80" y="266.55" width="5.94" height="1.96" fill="#113e23"/><rect x="239.44" y="266.55" width="5.94" height="1.96" fill="#0f6432"/><rect x="245.08" y="266.55" width="5.94" height="1.96" fill="#113f23"/><rect x="250.72" y="266.55" width="5.94" height="1.96" fill="#12321e"/><rect x="256.36" y="266.55" width="5.94" height="1.96" fill="#123620"/><rect x="120.00" y="268.21" width="6.04" height="1.96" fill="#1b1010"/><rect x="125.74" y="268.21" width="6.04" height="1.96" fill="#311111"/><rect x="131.48" y="268.21" width="6.04" height="1.96" fill="#441312"/><rect x="137.22" y="268.21" width="6.04" height="1.96" fill="#5b1413"/><rect x="142.96" y="268.21" width="6.04" height="1.96" fill="#641514"/><rect x="148.70" y="268.21" width="6.04" height="1.96" fill="#6e1514"/><rect x="154.44" y="268.21" width="6.04" height="1.96" fill="#621514"/><rect x="160.18" y="268.21" width="6.04" height="1.96" fill="#461312"/><rect x="165.92" y="268.21" width="6.04" height="1.96" fill="#6c1514"/><rect x="171.66" y="268.21" width="6.04" height="1.96" fill="#471312"/><rect x="177.40" y="268.21" width="5.94" height="1.96" fill="#131f16"/><rect x="183.04" y="268.21" width="5.94" height="1.96" fill="#113820"/><rect x="188.68" y="268.21" width="5.94" height="1.96" fill="#122b1b"/><rect x="194.32" y="268.21" width="5.94" height="1.96" fill="#131d16"/><rect x="199.96" y="268.21" width="5.94" height="1.96" fill="#12281a"/><rect x="205.60" y="268.21" width="5.94" height="1.96" fill="#191010"/><rect x="211.24" y="268.21" width="5.94" height="1.96" fill="#122a1b"/><rect x="216.88" y="268.21" width="5.94" height="1.96" fill="#12311e"/><rect x="222.52" y="268.21" width="5.94" height="1.96" fill="#114626"/><rect x="228.16" y="268.21" width="5.94" height="1.96" fill="#104c29"/><rect x="233.80" y="268.21" width="5.94" height="1.96" fill="#132017"/><rect x="239.44" y="268.21" width="5.94" height="1.96" fill="#0f5a2e"/><rect x="245.08" y="268.21" width="5.94" height="1.96" fill="#113820"/><rect x="250.72" y="268.21" width="5.94" height="1.96" fill="#114526"/><rect x="256.36" y="268.21" width="5.94" height="1.96" fill="#1b1010"/><rect x="120.00" y="269.87" width="6.04" height="1.96" fill="#4a1312"/><rect x="125.74" y="269.87" width="6.04" height="1.96" fill="#301111"/><rect x="131.48" y="269.87" width="6.04" height="1.96" fill="#491312"/><rect x="137.22" y="269.87" width="6.04" height="1.96" fill="#441312"/><rect x="142.96" y="269.87" width="6.04" height="1.96" fill="#6c1514"/><rect x="148.70" y="269.87" width="6.04" height="1.96" fill="#611414"/><rect x="154.44" y="269.87" width="6.04" height="1.96" fill="#5e1413"/><rect x="160.18" y="269.87" width="6.04" height="1.96" fill="#501313"/><rect x="165.92" y="269.87" width="6.04" height="1.96" fill="#671514"/><rect x="171.66" y="269.87" width="6.04" height="1.96" fill="#371211"/><rect x="177.40" y="269.87" width="5.94" height="1.96" fill="#131d16"/><rect x="183.04" y="269.87" width="5.94" height="1.96" fill="#114024"/><rect x="188.68" y="269.87" width="5.94" height="1.96" fill="#191010"/><rect x="194.32" y="269.87" width="5.94" height="1.96" fill="#122d1c"/><rect x="199.96" y="269.87" width="5.94" height="1.96" fill="#114425"/><rect x="205.60" y="269.87" width="5.94" height="1.96" fill="#132419"/><rect x="211.24" y="269.87" width="5.94" height="1.96" fill="#13271a"/><rect x="216.88" y="269.87" width="5.94" height="1.96" fill="#0f582d"/><rect x="222.52" y="269.87" width="5.94" height="1.96" fill="#113820"/><rect x="228.16" y="269.87" width="5.94" height="1.96" fill="#123620"/><rect x="233.80" y="269.87" width="5.94" height="1.96" fill="#114425"/><rect x="239.44" y="269.87" width="5.94" height="1.96" fill="#0e6934"/><rect x="245.08" y="269.87" width="5.94" height="1.96" fill="#114224"/><rect x="250.72" y="269.87" width="5.94" height="1.96" fill="#12311e"/><rect x="256.36" y="269.87" width="5.94" height="1.96" fill="#114124"/><rect x="120.00" y="271.52" width="6.04" height="1.96" fill="#12311e"/><rect x="125.74" y="271.52" width="6.04" height="1.96" fill="#321111"/><rect x="131.48" y="271.52" width="6.04" height="1.96" fill="#3b1212"/><rect x="137.22" y="271.52" width="6.04" height="1.96" fill="#2d1111"/><rect x="142.96" y="271.52" width="6.04" height="1.96" fill="#211010"/><rect x="148.70" y="271.52" width="6.04" height="1.96" fill="#471312"/><rect x="154.44" y="271.52" width="6.04" height="1.96" fill="#391211"/><rect x="160.18" y="271.52" width="6.04" height="1.96" fill="#3a1211"/><rect x="165.92" y="271.52" width="6.04" height="1.96" fill="#301111"/><rect x="171.66" y="271.52" width="6.04" height="1.96" fill="#381211"/><rect x="177.40" y="271.52" width="5.94" height="1.96" fill="#1f1010"/><rect x="183.04" y="271.52" width="5.94" height="1.96" fill="#131b15"/><rect x="188.68" y="271.52" width="5.94" height="1.96" fill="#131a14"/><rect x="194.32" y="271.52" width="5.94" height="1.96" fill="#12331f"/><rect x="199.96" y="271.52" width="5.94" height="1.96" fill="#13271a"/><rect x="205.60" y="271.52" width="5.94" height="1.96" fill="#131b15"/><rect x="211.24" y="271.52" width="5.94" height="1.96" fill="#132017"/><rect x="216.88" y="271.52" width="5.94" height="1.96" fill="#12321e"/><rect x="222.52" y="271.52" width="5.94" height="1.96" fill="#122e1d"/><rect x="228.16" y="271.52" width="5.94" height="1.96" fill="#12321e"/><rect x="233.80" y="271.52" width="5.94" height="1.96" fill="#161010"/><rect x="239.44" y="271.52" width="5.94" height="1.96" fill="#122f1d"/><rect x="245.08" y="271.52" width="5.94" height="1.96" fill="#113f23"/><rect x="250.72" y="271.52" width="5.94" height="1.96" fill="#131a15"/><rect x="256.36" y="271.52" width="5.94" height="1.96" fill="#132218"/><rect x="120.00" y="273.18" width="6.04" height="1.96" fill="#113b22"/><rect x="125.74" y="273.18" width="6.04" height="1.96" fill="#132519"/><rect x="131.48" y="273.18" width="6.04" height="1.96" fill="#12311e"/><rect x="137.22" y="273.18" width="6.04" height="1.96" fill="#132318"/><rect x="142.96" y="273.18" width="6.04" height="1.96" fill="#113c22"/><rect x="148.70" y="273.18" width="6.04" height="1.96" fill="#132619"/><rect x="154.44" y="273.18" width="6.04" height="1.96" fill="#123720"/><rect x="160.18" y="273.18" width="6.04" height="1.96" fill="#132218"/><rect x="165.92" y="273.18" width="6.04" height="1.96" fill="#132318"/><rect x="171.66" y="273.18" width="6.04" height="1.96" fill="#12311e"/><rect x="177.40" y="273.18" width="5.94" height="1.96" fill="#12301d"/><rect x="183.04" y="273.18" width="5.94" height="1.96" fill="#131e16"/><rect x="188.68" y="273.18" width="5.94" height="1.96" fill="#114124"/><rect x="194.32" y="273.18" width="5.94" height="1.96" fill="#1d1010"/><rect x="199.96" y="273.18" width="5.94" height="1.96" fill="#201010"/><rect x="205.60" y="273.18" width="5.94" height="1.96" fill="#221010"/><rect x="211.24" y="273.18" width="5.94" height="1.96" fill="#201010"/><rect x="216.88" y="273.18" width="5.94" height="1.96" fill="#2b1111"/><rect x="222.52" y="273.18" width="5.94" height="1.96" fill="#221010"/><rect x="228.16" y="273.18" width="5.94" height="1.96" fill="#311111"/><rect x="233.80" y="273.18" width="5.94" height="1.96" fill="#281111"/><rect x="239.44" y="273.18" width="5.94" height="1.96" fill="#671514"/><rect x="245.08" y="273.18" width="5.94" height="1.96" fill="#361211"/><rect x="250.72" y="273.18" width="5.94" height="1.96" fill="#181010"/><rect x="256.36" y="273.18" width="5.94" height="1.96" fill="#131c15"/><rect x="120.00" y="274.83" width="6.04" height="1.96" fill="#122c1c"/><rect x="125.74" y="274.83" width="6.04" height="1.96" fill="#114626"/><rect x="131.48" y="274.83" width="6.04" height="1.96" fill="#10512b"/><rect x="137.22" y="274.83" width="6.04" height="1.96" fill="#122e1d"/><rect x="142.96" y="274.83" width="6.04" height="1.96" fill="#114526"/><rect x="148.70" y="274.83" width="6.04" height="1.96" fill="#113b22"/><rect x="154.44" y="274.83" width="6.04" height="1.96" fill="#12331e"/><rect x="160.18" y="274.83" width="6.04" height="1.96" fill="#122d1c"/><rect x="165.92" y="274.83" width="6.04" height="1.96" fill="#104827"/><rect x="171.66" y="274.83" width="6.04" height="1.96" fill="#104927"/><rect x="177.40" y="274.83" width="5.94" height="1.96" fill="#261110"/><rect x="183.04" y="274.83" width="5.94" height="1.96" fill="#1c1010"/><rect x="188.68" y="274.83" width="5.94" height="1.96" fill="#161010"/><rect x="194.32" y="274.83" width="5.94" height="1.96" fill="#171010"/><rect x="199.96" y="274.83" width="5.94" height="1.96" fill="#271110"/><rect x="205.60" y="274.83" width="5.94" height="1.96" fill="#1b1010"/><rect x="211.24" y="274.83" width="5.94" height="1.96" fill="#351211"/><rect x="216.88" y="274.83" width="5.94" height="1.96" fill="#321111"/><rect x="222.52" y="274.83" width="5.94" height="1.96" fill="#271110"/><rect x="228.16" y="274.83" width="5.94" height="1.96" fill="#301111"/><rect x="233.80" y="274.83" width="5.94" height="1.96" fill="#351211"/><rect x="239.44" y="274.83" width="5.94" height="1.96" fill="#7d1615"/><rect x="245.08" y="274.83" width="5.94" height="1.96" fill="#341111"/><rect x="250.72" y="274.83" width="5.94" height="1.96" fill="#3c1212"/><rect x="256.36" y="274.83" width="5.94" height="1.96" fill="#221010"/><rect x="120.00" y="276.49" width="6.04" height="1.96" fill="#113a21"/><rect x="125.74" y="276.49" width="6.04" height="1.96" fill="#12291a"/><rect x="131.48" y="276.49" width="6.04" height="1.96" fill="#122b1b"/><rect x="137.22" y="276.49" width="6.04" height="1.96" fill="#132017"/><rect x="142.96" y="276.49" width="6.04" height="1.96" fill="#0f5b2e"/><rect x="148.70" y="276.49" width="6.04" height="1.96" fill="#114124"/><rect x="154.44" y="276.49" width="6.04" height="1.96" fill="#12281a"/><rect x="160.18" y="276.49" width="6.04" height="1.96" fill="#113f23"/><rect x="165.92" y="276.49" width="6.04" height="1.96" fill="#104c29"/><rect x="171.66" y="276.49" width="6.04" height="1.96" fill="#12341f"/><rect x="177.40" y="276.49" width="5.94" height="1.96" fill="#131c15"/><rect x="183.04" y="276.49" width="5.94" height="1.96" fill="#241010"/><rect x="188.68" y="276.49" width="5.94" height="1.96" fill="#231010"/><rect x="194.32" y="276.49" width="5.94" height="1.96" fill="#191010"/><rect x="199.96" y="276.49" width="5.94" height="1.96" fill="#361211"/><rect x="205.60" y="276.49" width="5.94" height="1.96" fill="#1b1010"/><rect x="211.24" y="276.49" width="5.94" height="1.96" fill="#13271a"/><rect x="216.88" y="276.49" width="5.94" height="1.96" fill="#4e1313"/><rect x="222.52" y="276.49" width="5.94" height="1.96" fill="#441312"/><rect x="228.16" y="276.49" width="5.94" height="1.96" fill="#2f1111"/><rect x="233.80" y="276.49" width="5.94" height="1.96" fill="#2d1111"/><rect x="239.44" y="276.49" width="5.94" height="1.96" fill="#671514"/><rect x="245.08" y="276.49" width="5.94" height="1.96" fill="#251110"/><rect x="250.72" y="276.49" width="5.94" height="1.96" fill="#3a1211"/><rect x="256.36" y="276.49" width="5.94" height="1.96" fill="#132619"/><rect x="120.00" y="278.14" width="6.04" height="1.96" fill="#471312"/><rect x="125.74" y="278.14" width="6.04" height="1.96" fill="#5e1413"/><rect x="131.48" y="278.14" width="6.04" height="1.96" fill="#6e1514"/><rect x="137.22" y="278.14" width="6.04" height="1.96" fill="#471312"/><rect x="142.96" y="278.14" width="6.04" height="1.96" fill="#9b1817"/><rect x="148.70" y="278.14" width="6.04" height="1.96" fill="#5d1413"/><rect x="154.44" y="278.14" width="6.04" height="1.96" fill="#5b1413"/><rect x="160.18" y="278.14" width="6.04" height="1.96" fill="#3b1212"/><rect x="165.92" y="278.14" width="6.04" height="1.96" fill="#571413"/><rect x="171.66" y="278.14" width="6.04" height="1.96" fill="#671514"/><rect x="177.40" y="278.14" width="5.94" height="1.96" fill="#122a1b"/><rect x="183.04" y="278.14" width="5.94" height="1.96" fill="#13271a"/><rect x="188.68" y="278.14" width="5.94" height="1.96" fill="#12351f"/><rect x="194.32" y="278.14" width="5.94" height="1.96" fill="#113a21"/><rect x="199.96" y="278.14" width="5.94" height="1.96" fill="#122d1c"/><rect x="205.60" y="278.14" width="5.94" height="1.96" fill="#131814"/><rect x="211.24" y="278.14" width="5.94" height="1.96" fill="#132318"/><rect x="216.88" y="278.14" width="5.94" height="1.96" fill="#10562c"/><rect x="222.52" y="278.14" width="5.94" height="1.96" fill="#104827"/><rect x="228.16" y="278.14" width="5.94" height="1.96" fill="#0e6e36"/><rect x="233.80" y="278.14" width="5.94" height="1.96" fill="#0f6031"/><rect x="239.44" y="278.14" width="5.94" height="1.96" fill="#0e7338"/><rect x="245.08" y="278.14" width="5.94" height="1.96" fill="#0f5d2f"/><rect x="250.72" y="278.14" width="5.94" height="1.96" fill="#122a1b"/><rect x="256.36" y="278.14" width="5.94" height="1.96" fill="#113e23"/><rect x="120.00" y="279.80" width="6.04" height="1.96" fill="#311111"/><rect x="125.74" y="279.80" width="6.04" height="1.96" fill="#3c1212"/><rect x="131.48" y="279.80" width="6.04" height="1.96" fill="#491312"/><rect x="137.22" y="279.80" width="6.04" height="1.96" fill="#501313"/><rect x="142.96" y="279.80" width="6.04" height="1.96" fill="#631514"/><rect x="148.70" y="279.80" width="6.04" height="1.96" fill="#331111"/><rect x="154.44" y="279.80" width="6.04" height="1.96" fill="#4e1313"/><rect x="160.18" y="279.80" width="6.04" height="1.96" fill="#451312"/><rect x="165.92" y="279.80" width="6.04" height="1.96" fill="#4e1313"/><rect x="171.66" y="279.80" width="6.04" height="1.96" fill="#451312"/><rect x="177.40" y="279.80" width="5.94" height="1.96" fill="#131d16"/><rect x="183.04" y="279.80" width="5.94" height="1.96" fill="#122c1c"/><rect x="188.68" y="279.80" width="5.94" height="1.96" fill="#132218"/><rect x="194.32" y="279.80" width="5.94" height="1.96" fill="#12311e"/><rect x="199.96" y="279.80" width="5.94" height="1.96" fill="#114225"/><rect x="205.60" y="279.80" width="5.94" height="1.96" fill="#12291a"/><rect x="211.24" y="279.80" width="5.94" height="1.96" fill="#13271a"/><rect x="216.88" y="279.80" width="5.94" height="1.96" fill="#113e23"/><rect x="222.52" y="279.80" width="5.94" height="1.96" fill="#113f23"/><rect x="228.16" y="279.80" width="5.94" height="1.96" fill="#10562c"/><rect x="233.80" y="279.80" width="5.94" height="1.96" fill="#114124"/><rect x="239.44" y="279.80" width="5.94" height="1.96" fill="#113f23"/><rect x="245.08" y="279.80" width="5.94" height="1.96" fill="#0f592e"/><rect x="250.72" y="279.80" width="5.94" height="1.96" fill="#12331e"/><rect x="256.36" y="279.80" width="5.94" height="1.96" fill="#113921"/><rect x="120.00" y="281.46" width="6.04" height="1.96" fill="#6f1514"/><rect x="125.74" y="281.46" width="6.04" height="1.96" fill="#571413"/><rect x="131.48" y="281.46" width="6.04" height="1.96" fill="#411212"/><rect x="137.22" y="281.46" width="6.04" height="1.96" fill="#381211"/><rect x="142.96" y="281.46" width="6.04" height="1.96" fill="#561413"/><rect x="148.70" y="281.46" width="6.04" height="1.96" fill="#5e1413"/><rect x="154.44" y="281.46" width="6.04" height="1.96" fill="#2c1111"/><rect x="160.18" y="281.46" width="6.04" height="1.96" fill="#5e1413"/><rect x="165.92" y="281.46" width="6.04" height="1.96" fill="#361211"/><rect x="171.66" y="281.46" width="6.04" height="1.96" fill="#641514"/><rect x="177.40" y="281.46" width="5.94" height="1.96" fill="#132318"/><rect x="183.04" y="281.46" width="5.94" height="1.96" fill="#113820"/><rect x="188.68" y="281.46" width="5.94" height="1.96" fill="#131f16"/><rect x="194.32" y="281.46" width="5.94" height="1.96" fill="#12321e"/><rect x="199.96" y="281.46" width="5.94" height="1.96" fill="#0f6733"/><rect x="205.60" y="281.46" width="5.94" height="1.96" fill="#12341f"/><rect x="211.24" y="281.46" width="5.94" height="1.96" fill="#12291a"/><rect x="216.88" y="281.46" width="5.94" height="1.96" fill="#0f592e"/><rect x="222.52" y="281.46" width="5.94" height="1.96" fill="#104b28"/><rect x="228.16" y="281.46" width="5.94" height="1.96" fill="#114425"/><rect x="233.80" y="281.46" width="5.94" height="1.96" fill="#12301d"/><rect x="239.44" y="281.46" width="5.94" height="1.96" fill="#113c22"/><rect x="245.08" y="281.46" width="5.94" height="1.96" fill="#113e23"/><rect x="250.72" y="281.46" width="5.94" height="1.96" fill="#12341f"/><rect x="256.36" y="281.46" width="5.94" height="1.96" fill="#12351f"/><rect x="120.00" y="283.11" width="6.04" height="1.96" fill="#511313"/><rect x="125.74" y="283.11" width="6.04" height="1.96" fill="#13271a"/><rect x="131.48" y="283.11" width="6.04" height="1.96" fill="#431212"/><rect x="137.22" y="283.11" width="6.04" height="1.96" fill="#291111"/><rect x="142.96" y="283.11" width="6.04" height="1.96" fill="#3a1211"/><rect x="148.70" y="283.11" width="6.04" height="1.96" fill="#271110"/><rect x="154.44" y="283.11" width="6.04" height="1.96" fill="#301111"/><rect x="160.18" y="283.11" width="6.04" height="1.96" fill="#3d1212"/><rect x="165.92" y="283.11" width="6.04" height="1.96" fill="#311111"/><rect x="171.66" y="283.11" width="6.04" height="1.96" fill="#311111"/><rect x="177.40" y="283.11" width="5.94" height="1.96" fill="#1a1010"/><rect x="183.04" y="283.11" width="5.94" height="1.96" fill="#132519"/><rect x="188.68" y="283.11" width="5.94" height="1.96" fill="#132619"/><rect x="194.32" y="283.11" width="5.94" height="1.96" fill="#113f23"/><rect x="199.96" y="283.11" width="5.94" height="1.96" fill="#12301d"/><rect x="205.60" y="283.11" width="5.94" height="1.96" fill="#171010"/><rect x="211.24" y="283.11" width="5.94" height="1.96" fill="#1c1010"/><rect x="216.88" y="283.11" width="5.94" height="1.96" fill="#122a1b"/><rect x="222.52" y="283.11" width="5.94" height="1.96" fill="#132619"/><rect x="228.16" y="283.11" width="5.94" height="1.96" fill="#114124"/><rect x="233.80" y="283.11" width="5.94" height="1.96" fill="#171010"/><rect x="239.44" y="283.11" width="5.94" height="1.96" fill="#12341f"/><rect x="245.08" y="283.11" width="5.94" height="1.96" fill="#104827"/><rect x="250.72" y="283.11" width="5.94" height="1.96" fill="#12301d"/><rect x="256.36" y="283.11" width="5.94" height="1.96" fill="#1b1010"/><rect x="120.00" y="284.77" width="6.04" height="1.96" fill="#521313"/><rect x="125.74" y="284.77" width="6.04" height="1.96" fill="#3e1212"/><rect x="131.48" y="284.77" width="6.04" height="1.96" fill="#4a1312"/><rect x="137.22" y="284.77" width="6.04" height="1.96" fill="#3e1212"/><rect x="142.96" y="284.77" width="6.04" height="1.96" fill="#431212"/><rect x="148.70" y="284.77" width="6.04" height="1.96" fill="#251010"/><rect x="154.44" y="284.77" width="6.04" height="1.96" fill="#3f1212"/><rect x="160.18" y="284.77" width="6.04" height="1.96" fill="#4c1312"/><rect x="165.92" y="284.77" width="6.04" height="1.96" fill="#431212"/><rect x="171.66" y="284.77" width="6.04" height="1.96" fill="#2d1111"/><rect x="177.40" y="284.77" width="5.94" height="1.96" fill="#132218"/><rect x="183.04" y="284.77" width="5.94" height="1.96" fill="#132017"/><rect x="188.68" y="284.77" width="5.94" height="1.96" fill="#131b15"/><rect x="194.32" y="284.77" width="5.94" height="1.96" fill="#12331f"/><rect x="199.96" y="284.77" width="5.94" height="1.96" fill="#231010"/><rect x="205.60" y="284.77" width="5.94" height="1.96" fill="#132218"/><rect x="211.24" y="284.77" width="5.94" height="1.96" fill="#132218"/><rect x="216.88" y="284.77" width="5.94" height="1.96" fill="#104927"/><rect x="222.52" y="284.77" width="5.94" height="1.96" fill="#113921"/><rect x="228.16" y="284.77" width="5.94" height="1.96" fill="#261110"/><rect x="233.80" y="284.77" width="5.94" height="1.96" fill="#12301d"/><rect x="239.44" y="284.77" width="5.94" height="1.96" fill="#12291a"/><rect x="245.08" y="284.77" width="5.94" height="1.96" fill="#114425"/><rect x="250.72" y="284.77" width="5.94" height="1.96" fill="#123720"/><rect x="256.36" y="284.77" width="5.94" height="1.96" fill="#132117"/><rect x="120.00" y="286.42" width="6.04" height="1.96" fill="#661514"/><rect x="125.74" y="286.42" width="6.04" height="1.96" fill="#421212"/><rect x="131.48" y="286.42" width="6.04" height="1.96" fill="#491312"/><rect x="137.22" y="286.42" width="6.04" height="1.96" fill="#411212"/><rect x="142.96" y="286.42" width="6.04" height="1.96" fill="#401212"/><rect x="148.70" y="286.42" width="6.04" height="1.96" fill="#3c1212"/><rect x="154.44" y="286.42" width="6.04" height="1.96" fill="#2a1111"/><rect x="160.18" y="286.42" width="6.04" height="1.96" fill="#361211"/><rect x="165.92" y="286.42" width="6.04" height="1.96" fill="#401212"/><rect x="171.66" y="286.42" width="6.04" height="1.96" fill="#2c1111"/><rect x="177.40" y="286.42" width="5.94" height="1.96" fill="#122e1d"/><rect x="183.04" y="286.42" width="5.94" height="1.96" fill="#122e1c"/><rect x="188.68" y="286.42" width="5.94" height="1.96" fill="#13271a"/><rect x="194.32" y="286.42" width="5.94" height="1.96" fill="#132519"/><rect x="199.96" y="286.42" width="5.94" height="1.96" fill="#113c22"/><rect x="205.60" y="286.42" width="5.94" height="1.96" fill="#12301d"/><rect x="211.24" y="286.42" width="5.94" height="1.96" fill="#122d1c"/><rect x="216.88" y="286.42" width="5.94" height="1.96" fill="#113f23"/><rect x="222.52" y="286.42" width="5.94" height="1.96" fill="#12311e"/><rect x="228.16" y="286.42" width="5.94" height="1.96" fill="#123720"/><rect x="233.80" y="286.42" width="5.94" height="1.96" fill="#122d1c"/><rect x="239.44" y="286.42" width="5.94" height="1.96" fill="#114024"/><rect x="245.08" y="286.42" width="5.94" height="1.96" fill="#114526"/><rect x="250.72" y="286.42" width="5.94" height="1.96" fill="#12331e"/><rect x="256.36" y="286.42" width="5.94" height="1.96" fill="#12341f"/><rect x="120.00" y="288.08" width="6.04" height="1.96" fill="#301111"/><rect x="125.74" y="288.08" width="6.04" height="1.96" fill="#4f1313"/><rect x="131.48" y="288.08" width="6.04" height="1.96" fill="#631514"/><rect x="137.22" y="288.08" width="6.04" height="1.96" fill="#581413"/><rect x="142.96" y="288.08" width="6.04" height="1.96" fill="#521313"/><rect x="148.70" y="288.08" width="6.04" height="1.96" fill="#521313"/><rect x="154.44" y="288.08" width="6.04" height="1.96" fill="#481312"/><rect x="160.18" y="288.08" width="6.04" height="1.96" fill="#521313"/><rect x="165.92" y="288.08" width="6.04" height="1.96" fill="#741615"/><rect x="171.66" y="288.08" width="6.04" height="1.96" fill="#511313"/><rect x="177.40" y="288.08" width="5.94" height="1.96" fill="#231010"/><rect x="183.04" y="288.08" width="5.94" height="1.96" fill="#113820"/><rect x="188.68" y="288.08" width="5.94" height="1.96" fill="#12281a"/><rect x="194.32" y="288.08" width="5.94" height="1.96" fill="#122b1b"/><rect x="199.96" y="288.08" width="5.94" height="1.96" fill="#131b15"/><rect x="205.60" y="288.08" width="5.94" height="1.96" fill="#113c22"/><rect x="211.24" y="288.08" width="5.94" height="1.96" fill="#12291a"/><rect x="216.88" y="288.08" width="5.94" height="1.96" fill="#113b22"/><rect x="222.52" y="288.08" width="5.94" height="1.96" fill="#114425"/><rect x="228.16" y="288.08" width="5.94" height="1.96" fill="#10512b"/><rect x="233.80" y="288.08" width="5.94" height="1.96" fill="#0d803d"/><rect x="239.44" y="288.08" width="5.94" height="1.96" fill="#0f6532"/><rect x="245.08" y="288.08" width="5.94" height="1.96" fill="#0f6532"/><rect x="250.72" y="288.08" width="5.94" height="1.96" fill="#113921"/><rect x="256.36" y="288.08" width="5.94" height="1.96" fill="#114225"/><rect x="120.00" y="289.73" width="6.04" height="1.96" fill="#701514"/><rect x="125.74" y="289.73" width="6.04" height="1.96" fill="#691514"/><rect x="131.48" y="289.73" width="6.04" height="1.96" fill="#501313"/><rect x="137.22" y="289.73" width="6.04" height="1.96" fill="#651514"/><rect x="142.96" y="289.73" width="6.04" height="1.96" fill="#5e1413"/><rect x="148.70" y="289.73" width="6.04" height="1.96" fill="#4f1313"/><rect x="154.44" y="289.73" width="6.04" height="1.96" fill="#661514"/><rect x="160.18" y="289.73" width="6.04" height="1.96" fill="#511313"/><rect x="165.92" y="289.73" width="6.04" height="1.96" fill="#461312"/><rect x="171.66" y="289.73" width="6.04" height="1.96" fill="#7c1615"/><rect x="177.40" y="289.73" width="5.94" height="1.96" fill="#131c15"/><rect x="183.04" y="289.73" width="5.94" height="1.96" fill="#113921"/><rect x="188.68" y="289.73" width="5.94" height="1.96" fill="#113821"/><rect x="194.32" y="289.73" width="5.94" height="1.96" fill="#123620"/><rect x="199.96" y="289.73" width="5.94" height="1.96" fill="#131f16"/><rect x="205.60" y="289.73" width="5.94" height="1.96" fill="#12291a"/><rect x="211.24" y="289.73" width="5.94" height="1.96" fill="#12341f"/><rect x="216.88" y="289.73" width="5.94" height="1.96" fill="#0e6934"/><rect x="222.52" y="289.73" width="5.94" height="1.96" fill="#113f23"/><rect x="228.16" y="289.73" width="5.94" height="1.96" fill="#114325"/><rect x="233.80" y="289.73" width="5.94" height="1.96" fill="#10512a"/><rect x="239.44" y="289.73" width="5.94" height="1.96" fill="#0ca14a"/><rect x="245.08" y="289.73" width="5.94" height="1.96" fill="#0c9847"/><rect x="250.72" y="289.73" width="5.94" height="1.96" fill="#113821"/><rect x="256.36" y="289.73" width="5.94" height="1.96" fill="#104e29"/><rect x="120.00" y="291.39" width="6.04" height="1.96" fill="#361211"/><rect x="125.74" y="291.39" width="6.04" height="1.96" fill="#401212"/><rect x="131.48" y="291.39" width="6.04" height="1.96" fill="#741615"/><rect x="137.22" y="291.39" width="6.04" height="1.96" fill="#541413"/><rect x="142.96" y="291.39" width="6.04" height="1.96" fill="#651514"/><rect x="148.70" y="291.39" width="6.04" height="1.96" fill="#601414"/><rect x="154.44" y="291.39" width="6.04" height="1.96" fill="#3c1212"/><rect x="160.18" y="291.39" width="6.04" height="1.96" fill="#361211"/><rect x="165.92" y="291.39" width="6.04" height="1.96" fill="#711514"/><rect x="171.66" y="291.39" width="6.04" height="1.96" fill="#761615"/><rect x="177.40" y="291.39" width="5.94" height="1.96" fill="#132017"/><rect x="183.04" y="291.39" width="5.94" height="1.96" fill="#132218"/><rect x="188.68" y="291.39" width="5.94" height="1.96" fill="#12301d"/><rect x="194.32" y="291.39" width="5.94" height="1.96" fill="#113921"/><rect x="199.96" y="291.39" width="5.94" height="1.96" fill="#12281a"/><rect x="205.60" y="291.39" width="5.94" height="1.96" fill="#113820"/><rect x="211.24" y="291.39" width="5.94" height="1.96" fill="#113e23"/><rect x="216.88" y="291.39" width="5.94" height="1.96" fill="#10572d"/><rect x="222.52" y="291.39" width="5.94" height="1.96" fill="#113d23"/><rect x="228.16" y="291.39" width="5.94" height="1.96" fill="#10512a"/><rect x="233.80" y="291.39" width="5.94" height="1.96" fill="#12321e"/><rect x="239.44" y="291.39" width="5.94" height="1.96" fill="#122d1c"/><rect x="245.08" y="291.39" width="5.94" height="1.96" fill="#0e7037"/><rect x="250.72" y="291.39" width="5.94" height="1.96" fill="#104827"/><rect x="256.36" y="291.39" width="5.94" height="1.96" fill="#104927"/><rect x="120.00" y="293.05" width="6.04" height="1.96" fill="#581413"/><rect x="125.74" y="293.05" width="6.04" height="1.96" fill="#461312"/><rect x="131.48" y="293.05" width="6.04" height="1.96" fill="#131c15"/><rect x="137.22" y="293.05" width="6.04" height="1.96" fill="#361211"/><rect x="142.96" y="293.05" width="6.04" height="1.96" fill="#461312"/><rect x="148.70" y="293.05" width="6.04" height="1.96" fill="#311111"/><rect x="154.44" y="293.05" width="6.04" height="1.96" fill="#311111"/><rect x="160.18" y="293.05" width="6.04" height="1.96" fill="#3e1212"/><rect x="165.92" y="293.05" width="6.04" height="1.96" fill="#531313"/><rect x="171.66" y="293.05" width="6.04" height="1.96" fill="#391211"/><rect x="177.40" y="293.05" width="5.94" height="1.96" fill="#132117"/><rect x="183.04" y="293.05" width="5.94" height="1.96" fill="#13271a"/><rect x="188.68" y="293.05" width="5.94" height="1.96" fill="#10552c"/><rect x="194.32" y="293.05" width="5.94" height="1.96" fill="#13271a"/><rect x="199.96" y="293.05" width="5.94" height="1.96" fill="#132519"/><rect x="205.60" y="293.05" width="5.94" height="1.96" fill="#131f16"/><rect x="211.24" y="293.05" width="5.94" height="1.96" fill="#132619"/><rect x="216.88" y="293.05" width="5.94" height="1.96" fill="#12351f"/><rect x="222.52" y="293.05" width="5.94" height="1.96" fill="#113e23"/><rect x="228.16" y="293.05" width="5.94" height="1.96" fill="#13271a"/><rect x="233.80" y="293.05" width="5.94" height="1.96" fill="#13271a"/><rect x="239.44" y="293.05" width="5.94" height="1.96" fill="#13271a"/><rect x="245.08" y="293.05" width="5.94" height="1.96" fill="#113f23"/><rect x="250.72" y="293.05" width="5.94" height="1.96" fill="#12341f"/><rect x="256.36" y="293.05" width="5.94" height="1.96" fill="#132117"/><rect x="120.00" y="294.70" width="6.04" height="1.96" fill="#471312"/><rect x="125.74" y="294.70" width="6.04" height="1.96" fill="#451312"/><rect x="131.48" y="294.70" width="6.04" height="1.96" fill="#681514"/><rect x="137.22" y="294.70" width="6.04" height="1.96" fill="#741615"/><rect x="142.96" y="294.70" width="6.04" height="1.96" fill="#671514"/><rect x="148.70" y="294.70" width="6.04" height="1.96" fill="#591413"/><rect x="154.44" y="294.70" width="6.04" height="1.96" fill="#611414"/><rect x="160.18" y="294.70" width="6.04" height="1.96" fill="#501313"/><rect x="165.92" y="294.70" width="6.04" height="1.96" fill="#651514"/><rect x="171.66" y="294.70" width="6.04" height="1.96" fill="#421212"/><rect x="177.40" y="294.70" width="5.94" height="1.96" fill="#12311e"/><rect x="183.04" y="294.70" width="5.94" height="1.96" fill="#114225"/><rect x="188.68" y="294.70" width="5.94" height="1.96" fill="#132117"/><rect x="194.32" y="294.70" width="5.94" height="1.96" fill="#122e1c"/><rect x="199.96" y="294.70" width="5.94" height="1.96" fill="#113921"/><rect x="205.60" y="294.70" width="5.94" height="1.96" fill="#123720"/><rect x="211.24" y="294.70" width="5.94" height="1.96" fill="#12341f"/><rect x="216.88" y="294.70" width="5.94" height="1.96" fill="#0f5b2e"/><rect x="222.52" y="294.70" width="5.94" height="1.96" fill="#0f5f30"/><rect x="228.16" y="294.70" width="5.94" height="1.96" fill="#104d29"/><rect x="233.80" y="294.70" width="5.94" height="1.96" fill="#0f592e"/><rect x="239.44" y="294.70" width="5.94" height="1.96" fill="#0d853f"/><rect x="245.08" y="294.70" width="5.94" height="1.96" fill="#0e7137"/><rect x="250.72" y="294.70" width="5.94" height="1.96" fill="#104827"/><rect x="256.36" y="294.70" width="5.94" height="1.96" fill="#12291b"/><rect x="120.00" y="296.36" width="6.04" height="1.96" fill="#441312"/><rect x="125.74" y="296.36" width="6.04" height="1.96" fill="#4f1313"/><rect x="131.48" y="296.36" width="6.04" height="1.96" fill="#461312"/><rect x="137.22" y="296.36" width="6.04" height="1.96" fill="#331111"/><rect x="142.96" y="296.36" width="6.04" height="1.96" fill="#2d1111"/><rect x="148.70" y="296.36" width="6.04" height="1.96" fill="#331111"/><rect x="154.44" y="296.36" width="6.04" height="1.96" fill="#401212"/><rect x="160.18" y="296.36" width="6.04" height="1.96" fill="#421212"/><rect x="165.92" y="296.36" width="6.04" height="1.96" fill="#201010"/><rect x="171.66" y="296.36" width="6.04" height="1.96" fill="#3d1212"/><rect x="177.40" y="296.36" width="5.94" height="1.96" fill="#131f16"/><rect x="183.04" y="296.36" width="5.94" height="1.96" fill="#122d1c"/><rect x="188.68" y="296.36" width="5.94" height="1.96" fill="#191010"/><rect x="194.32" y="296.36" width="5.94" height="1.96" fill="#113b22"/><rect x="199.96" y="296.36" width="5.94" height="1.96" fill="#132318"/><rect x="205.60" y="296.36" width="5.94" height="1.96" fill="#122c1c"/><rect x="211.24" y="296.36" width="5.94" height="1.96" fill="#161010"/><rect x="216.88" y="296.36" width="5.94" height="1.96" fill="#12341f"/><rect x="222.52" y="296.36" width="5.94" height="1.96" fill="#12321e"/><rect x="228.16" y="296.36" width="5.94" height="1.96" fill="#114024"/><rect x="233.80" y="296.36" width="5.94" height="1.96" fill="#122a1b"/><rect x="239.44" y="296.36" width="5.94" height="1.96" fill="#104a28"/><rect x="245.08" y="296.36" width="5.94" height="1.96" fill="#113d22"/><rect x="250.72" y="296.36" width="5.94" height="1.96" fill="#132117"/><rect x="256.36" y="296.36" width="5.94" height="1.96" fill="#1c1010"/><rect x="120.00" y="298.01" width="6.04" height="1.96" fill="#3f1212"/><rect x="125.74" y="298.01" width="6.04" height="1.96" fill="#2d1111"/><rect x="131.48" y="298.01" width="6.04" height="1.96" fill="#401212"/><rect x="137.22" y="298.01" width="6.04" height="1.96" fill="#191010"/><rect x="142.96" y="298.01" width="6.04" height="1.96" fill="#2d1111"/><rect x="148.70" y="298.01" width="6.04" height="1.96" fill="#4f1313"/><rect x="154.44" y="298.01" width="6.04" height="1.96" fill="#351211"/><rect x="160.18" y="298.01" width="6.04" height="1.96" fill="#3e1212"/><rect x="165.92" y="298.01" width="6.04" height="1.96" fill="#561413"/><rect x="171.66" y="298.01" width="6.04" height="1.96" fill="#481312"/><rect x="177.40" y="298.01" width="5.94" height="1.96" fill="#1e1010"/><rect x="183.04" y="298.01" width="5.94" height="1.96" fill="#12351f"/><rect x="188.68" y="298.01" width="5.94" height="1.96" fill="#131d16"/><rect x="194.32" y="298.01" width="5.94" height="1.96" fill="#191010"/><rect x="199.96" y="298.01" width="5.94" height="1.96" fill="#131c15"/><rect x="205.60" y="298.01" width="5.94" height="1.96" fill="#171010"/><rect x="211.24" y="298.01" width="5.94" height="1.96" fill="#122c1c"/><rect x="216.88" y="298.01" width="5.94" height="1.96" fill="#122f1d"/><rect x="222.52" y="298.01" width="5.94" height="1.96" fill="#114224"/><rect x="228.16" y="298.01" width="5.94" height="1.96" fill="#12311e"/><rect x="233.80" y="298.01" width="5.94" height="1.96" fill="#12321e"/><rect x="239.44" y="298.01" width="5.94" height="1.96" fill="#114425"/><rect x="245.08" y="298.01" width="5.94" height="1.96" fill="#12291a"/><rect x="250.72" y="298.01" width="5.94" height="1.96" fill="#114225"/><rect x="256.36" y="298.01" width="5.94" height="1.96" fill="#113921"/><rect x="120.00" y="299.67" width="6.04" height="1.96" fill="#12311e"/><rect x="125.74" y="299.67" width="6.04" height="1.96" fill="#421212"/><rect x="131.48" y="299.67" width="6.04" height="1.96" fill="#341111"/><rect x="137.22" y="299.67" width="6.04" height="1.96" fill="#561413"/><rect x="142.96" y="299.67" width="6.04" height="1.96" fill="#491312"/><rect x="148.70" y="299.67" width="6.04" height="1.96" fill="#4e1313"/><rect x="154.44" y="299.67" width="6.04" height="1.96" fill="#4e1313"/><rect x="160.18" y="299.67" width="6.04" height="1.96" fill="#381211"/><rect x="165.92" y="299.67" width="6.04" height="1.96" fill="#4b1312"/><rect x="171.66" y="299.67" width="6.04" height="1.96" fill="#281111"/><rect x="177.40" y="299.67" width="5.94" height="1.96" fill="#281111"/><rect x="183.04" y="299.67" width="5.94" height="1.96" fill="#122e1c"/><rect x="188.68" y="299.67" width="5.94" height="1.96" fill="#131d16"/><rect x="194.32" y="299.67" width="5.94" height="1.96" fill="#113921"/><rect x="199.96" y="299.67" width="5.94" height="1.96" fill="#132318"/><rect x="205.60" y="299.67" width="5.94" height="1.96" fill="#132519"/><rect x="211.24" y="299.67" width="5.94" height="1.96" fill="#132519"/><rect x="216.88" y="299.67" width="5.94" height="1.96" fill="#113a21"/><rect x="222.52" y="299.67" width="5.94" height="1.96" fill="#104d29"/><rect x="228.16" y="299.67" width="5.94" height="1.96" fill="#104e29"/><rect x="233.80" y="299.67" width="5.94" height="1.96" fill="#12311e"/><rect x="239.44" y="299.67" width="5.94" height="1.96" fill="#104827"/><rect x="245.08" y="299.67" width="5.94" height="1.96" fill="#123720"/><rect x="250.72" y="299.67" width="5.94" height="1.96" fill="#132619"/><rect x="256.36" y="299.67" width="5.94" height="1.96" fill="#12301d"/><rect x="120.00" y="301.33" width="6.04" height="1.96" fill="#321111"/><rect x="125.74" y="301.33" width="6.04" height="1.96" fill="#441312"/><rect x="131.48" y="301.33" width="6.04" height="1.96" fill="#1e1010"/><rect x="137.22" y="301.33" width="6.04" height="1.96" fill="#3f1212"/><rect x="142.96" y="301.33" width="6.04" height="1.96" fill="#361211"/><rect x="148.70" y="301.33" width="6.04" height="1.96" fill="#401212"/><rect x="154.44" y="301.33" width="6.04" height="1.96" fill="#351211"/><rect x="160.18" y="301.33" width="6.04" height="1.96" fill="#4e1313"/><rect x="165.92" y="301.33" width="6.04" height="1.96" fill="#491312"/><rect x="171.66" y="301.33" width="6.04" height="1.96" fill="#401212"/><rect x="177.40" y="301.33" width="5.94" height="1.96" fill="#132218"/><rect x="183.04" y="301.33" width="5.94" height="1.96" fill="#114526"/><rect x="188.68" y="301.33" width="5.94" height="1.96" fill="#171010"/><rect x="194.32" y="301.33" width="5.94" height="1.96" fill="#132418"/><rect x="199.96" y="301.33" width="5.94" height="1.96" fill="#132017"/><rect x="205.60" y="301.33" width="5.94" height="1.96" fill="#122e1d"/><rect x="211.24" y="301.33" width="5.94" height="1.96" fill="#122a1b"/><rect x="216.88" y="301.33" width="5.94" height="1.96" fill="#122b1b"/><rect x="222.52" y="301.33" width="5.94" height="1.96" fill="#114526"/><rect x="228.16" y="301.33" width="5.94" height="1.96" fill="#0f6733"/><rect x="233.80" y="301.33" width="5.94" height="1.96" fill="#122b1b"/><rect x="239.44" y="301.33" width="5.94" height="1.96" fill="#122f1d"/><rect x="245.08" y="301.33" width="5.94" height="1.96" fill="#113c22"/><rect x="250.72" y="301.33" width="5.94" height="1.96" fill="#13271a"/><rect x="256.36" y="301.33" width="5.94" height="1.96" fill="#131e16"/><rect x="120.00" y="302.98" width="6.04" height="1.96" fill="#501313"/><rect x="125.74" y="302.98" width="6.04" height="1.96" fill="#531413"/><rect x="131.48" y="302.98" width="6.04" height="1.96" fill="#381211"/><rect x="137.22" y="302.98" width="6.04" height="1.96" fill="#431212"/><rect x="142.96" y="302.98" width="6.04" height="1.96" fill="#561413"/><rect x="148.70" y="302.98" width="6.04" height="1.96" fill="#6c1514"/><rect x="154.44" y="302.98" width="6.04" height="1.96" fill="#7d1615"/><rect x="160.18" y="302.98" width="6.04" height="1.96" fill="#4f1313"/><rect x="165.92" y="302.98" width="6.04" height="1.96" fill="#411212"/><rect x="171.66" y="302.98" width="6.04" height="1.96" fill="#5d1413"/><rect x="177.40" y="302.98" width="5.94" height="1.96" fill="#132218"/><rect x="183.04" y="302.98" width="5.94" height="1.96" fill="#132519"/><rect x="188.68" y="302.98" width="5.94" height="1.96" fill="#122b1b"/><rect x="194.32" y="302.98" width="5.94" height="1.96" fill="#122e1c"/><rect x="199.96" y="302.98" width="5.94" height="1.96" fill="#12351f"/><rect x="205.60" y="302.98" width="5.94" height="1.96" fill="#122c1c"/><rect x="211.24" y="302.98" width="5.94" height="1.96" fill="#113c22"/><rect x="216.88" y="302.98" width="5.94" height="1.96" fill="#104827"/><rect x="222.52" y="302.98" width="5.94" height="1.96" fill="#0f5c2f"/><rect x="228.16" y="302.98" width="5.94" height="1.96" fill="#0f5d2f"/><rect x="233.80" y="302.98" width="5.94" height="1.96" fill="#114626"/><rect x="239.44" y="302.98" width="5.94" height="1.96" fill="#0f6633"/><rect x="245.08" y="302.98" width="5.94" height="1.96" fill="#0f6131"/><rect x="250.72" y="302.98" width="5.94" height="1.96" fill="#113820"/><rect x="256.36" y="302.98" width="5.94" height="1.96" fill="#123720"/><rect x="120.00" y="304.64" width="6.04" height="1.96" fill="#3f1212"/><rect x="125.74" y="304.64" width="6.04" height="1.96" fill="#2b1111"/><rect x="131.48" y="304.64" width="6.04" height="1.96" fill="#441312"/><rect x="137.22" y="304.64" width="6.04" height="1.96" fill="#461312"/><rect x="142.96" y="304.64" width="6.04" height="1.96" fill="#261110"/><rect x="148.70" y="304.64" width="6.04" height="1.96" fill="#441312"/><rect x="154.44" y="304.64" width="6.04" height="1.96" fill="#4a1312"/><rect x="160.18" y="304.64" width="6.04" height="1.96" fill="#4c1312"/><rect x="165.92" y="304.64" width="6.04" height="1.96" fill="#371211"/><rect x="171.66" y="304.64" width="6.04" height="1.96" fill="#371211"/><rect x="177.40" y="304.64" width="5.94" height="1.96" fill="#131814"/><rect x="183.04" y="304.64" width="5.94" height="1.96" fill="#131e16"/><rect x="188.68" y="304.64" width="5.94" height="1.96" fill="#114124"/><rect x="194.32" y="304.64" width="5.94" height="1.96" fill="#122f1d"/><rect x="199.96" y="304.64" width="5.94" height="1.96" fill="#131c15"/><rect x="205.60" y="304.64" width="5.94" height="1.96" fill="#131d16"/><rect x="211.24" y="304.64" width="5.94" height="1.96" fill="#132519"/><rect x="216.88" y="304.64" width="5.94" height="1.96" fill="#0f5e30"/><rect x="222.52" y="304.64" width="5.94" height="1.96" fill="#114626"/><rect x="228.16" y="304.64" width="5.94" height="1.96" fill="#114526"/><rect x="233.80" y="304.64" width="5.94" height="1.96" fill="#114526"/><rect x="239.44" y="304.64" width="5.94" height="1.96" fill="#12341f"/><rect x="245.08" y="304.64" width="5.94" height="1.96" fill="#104827"/><rect x="250.72" y="304.64" width="5.94" height="1.96" fill="#12301d"/><rect x="256.36" y="304.64" width="5.94" height="1.96" fill="#12311e"/><rect x="120.00" y="306.29" width="6.04" height="1.96" fill="#601414"/><rect x="125.74" y="306.29" width="6.04" height="1.96" fill="#3c1212"/><rect x="131.48" y="306.29" width="6.04" height="1.96" fill="#421212"/><rect x="137.22" y="306.29" width="6.04" height="1.96" fill="#2f1111"/><rect x="142.96" y="306.29" width="6.04" height="1.96" fill="#351211"/><rect x="148.70" y="306.29" width="6.04" height="1.96" fill="#591413"/><rect x="154.44" y="306.29" width="6.04" height="1.96" fill="#291111"/><rect x="160.18" y="306.29" width="6.04" height="1.96" fill="#5f1413"/><rect x="165.92" y="306.29" width="6.04" height="1.96" fill="#441312"/><rect x="171.66" y="306.29" width="6.04" height="1.96" fill="#461312"/><rect x="177.40" y="306.29" width="5.94" height="1.96" fill="#113b22"/><rect x="183.04" y="306.29" width="5.94" height="1.96" fill="#12311e"/><rect x="188.68" y="306.29" width="5.94" height="1.96" fill="#12291b"/><rect x="194.32" y="306.29" width="5.94" height="1.96" fill="#122b1b"/><rect x="199.96" y="306.29" width="5.94" height="1.96" fill="#12301d"/><rect x="205.60" y="306.29" width="5.94" height="1.96" fill="#132619"/><rect x="211.24" y="306.29" width="5.94" height="1.96" fill="#132017"/><rect x="216.88" y="306.29" width="5.94" height="1.96" fill="#10572d"/><rect x="222.52" y="306.29" width="5.94" height="1.96" fill="#104b28"/><rect x="228.16" y="306.29" width="5.94" height="1.96" fill="#12291b"/><rect x="233.80" y="306.29" width="5.94" height="1.96" fill="#131c15"/><rect x="239.44" y="306.29" width="5.94" height="1.96" fill="#104e29"/><rect x="245.08" y="306.29" width="5.94" height="1.96" fill="#113c22"/><rect x="250.72" y="306.29" width="5.94" height="1.96" fill="#113a21"/><rect x="256.36" y="306.29" width="5.94" height="1.96" fill="#132318"/><rect x="120.00" y="307.95" width="6.04" height="1.96" fill="#4c1312"/><rect x="125.74" y="307.95" width="6.04" height="1.96" fill="#731615"/><rect x="131.48" y="307.95" width="6.04" height="1.96" fill="#4a1312"/><rect x="137.22" y="307.95" width="6.04" height="1.96" fill="#351211"/><rect x="142.96" y="307.95" width="6.04" height="1.96" fill="#721615"/><rect x="148.70" y="307.95" width="6.04" height="1.96" fill="#531313"/><rect x="154.44" y="307.95" width="6.04" height="1.96" fill="#901816"/><rect x="160.18" y="307.95" width="6.04" height="1.96" fill="#761615"/><rect x="165.92" y="307.95" width="6.04" height="1.96" fill="#721615"/><rect x="171.66" y="307.95" width="6.04" height="1.96" fill="#461312"/><rect x="177.40" y="307.95" width="5.94" height="1.96" fill="#13271a"/><rect x="183.04" y="307.95" width="5.94" height="1.96" fill="#122c1c"/><rect x="188.68" y="307.95" width="5.94" height="1.96" fill="#132318"/><rect x="194.32" y="307.95" width="5.94" height="1.96" fill="#123720"/><rect x="199.96" y="307.95" width="5.94" height="1.96" fill="#341111"/><rect x="205.60" y="307.95" width="5.94" height="1.96" fill="#123620"/><rect x="211.24" y="307.95" width="5.94" height="1.96" fill="#122e1d"/><rect x="216.88" y="307.95" width="5.94" height="1.96" fill="#12351f"/><rect x="222.52" y="307.95" width="5.94" height="1.96" fill="#114325"/><rect x="228.16" y="307.95" width="5.94" height="1.96" fill="#113a21"/><rect x="233.80" y="307.95" width="5.94" height="1.96" fill="#113b22"/><rect x="239.44" y="307.95" width="5.94" height="1.96" fill="#114626"/><rect x="245.08" y="307.95" width="5.94" height="1.96" fill="#0d783a"/><rect x="250.72" y="307.95" width="5.94" height="1.96" fill="#104a28"/><rect x="256.36" y="307.95" width="5.94" height="1.96" fill="#113a21"/><rect x="120.00" y="309.60" width="6.04" height="1.96" fill="#391211"/><rect x="125.74" y="309.60" width="6.04" height="1.96" fill="#4a1312"/><rect x="131.48" y="309.60" width="6.04" height="1.96" fill="#211010"/><rect x="137.22" y="309.60" width="6.04" height="1.96" fill="#321111"/><rect x="142.96" y="309.60" width="6.04" height="1.96" fill="#431212"/><rect x="148.70" y="309.60" width="6.04" height="1.96" fill="#361211"/><rect x="154.44" y="309.60" width="6.04" height="1.96" fill="#3f1212"/><rect x="160.18" y="309.60" width="6.04" height="1.96" fill="#551413"/><rect x="165.92" y="309.60" width="6.04" height="1.96" fill="#4e1313"/><rect x="171.66" y="309.60" width="6.04" height="1.96" fill="#5e1413"/><rect x="177.40" y="309.60" width="5.94" height="1.96" fill="#13271a"/><rect x="183.04" y="309.60" width="5.94" height="1.96" fill="#132419"/><rect x="188.68" y="309.60" width="5.94" height="1.96" fill="#132619"/><rect x="194.32" y="309.60" width="5.94" height="1.96" fill="#122f1d"/><rect x="199.96" y="309.60" width="5.94" height="1.96" fill="#132218"/><rect x="205.60" y="309.60" width="5.94" height="1.96" fill="#131914"/><rect x="211.24" y="309.60" width="5.94" height="1.96" fill="#2e1111"/><rect x="216.88" y="309.60" width="5.94" height="1.96" fill="#104c29"/><rect x="222.52" y="309.60" width="5.94" height="1.96" fill="#113e23"/><rect x="228.16" y="309.60" width="5.94" height="1.96" fill="#122c1c"/><rect x="233.80" y="309.60" width="5.94" height="1.96" fill="#113d23"/><rect x="239.44" y="309.60" width="5.94" height="1.96" fill="#114726"/><rect x="245.08" y="309.60" width="5.94" height="1.96" fill="#113921"/><rect x="250.72" y="309.60" width="5.94" height="1.96" fill="#113821"/><rect x="256.36" y="309.60" width="5.94" height="1.96" fill="#131814"/><rect x="120.00" y="311.26" width="6.04" height="1.96" fill="#2d1111"/><rect x="125.74" y="311.26" width="6.04" height="1.96" fill="#5c1413"/><rect x="131.48" y="311.26" width="6.04" height="1.96" fill="#531413"/><rect x="137.22" y="311.26" width="6.04" height="1.96" fill="#5f1413"/><rect x="142.96" y="311.26" width="6.04" height="1.96" fill="#3e1212"/><rect x="148.70" y="311.26" width="6.04" height="1.96" fill="#511313"/><rect x="154.44" y="311.26" width="6.04" height="1.96" fill="#471312"/><rect x="160.18" y="311.26" width="6.04" height="1.96" fill="#621414"/><rect x="165.92" y="311.26" width="6.04" height="1.96" fill="#421212"/><rect x="171.66" y="311.26" width="6.04" height="1.96" fill="#451312"/><rect x="177.40" y="311.26" width="5.94" height="1.96" fill="#132519"/><rect x="183.04" y="311.26" width="5.94" height="1.96" fill="#12301d"/><rect x="188.68" y="311.26" width="5.94" height="1.96" fill="#12291b"/><rect x="194.32" y="311.26" width="5.94" height="1.96" fill="#131f16"/><rect x="199.96" y="311.26" width="5.94" height="1.96" fill="#1c1010"/><rect x="205.60" y="311.26" width="5.94" height="1.96" fill="#131f17"/><rect x="211.24" y="311.26" width="5.94" height="1.96" fill="#12281a"/><rect x="216.88" y="311.26" width="5.94" height="1.96" fill="#114626"/><rect x="222.52" y="311.26" width="5.94" height="1.96" fill="#104c29"/><rect x="228.16" y="311.26" width="5.94" height="1.96" fill="#114124"/><rect x="233.80" y="311.26" width="5.94" height="1.96" fill="#12281a"/><rect x="239.44" y="311.26" width="5.94" height="1.96" fill="#114325"/><rect x="245.08" y="311.26" width="5.94" height="1.96" fill="#104927"/><rect x="250.72" y="311.26" width="5.94" height="1.96" fill="#12331e"/><rect x="256.36" y="311.26" width="5.94" height="1.96" fill="#161010"/><rect x="120.00" y="312.92" width="6.04" height="1.96" fill="#a11917"/><rect x="125.74" y="312.92" width="6.04" height="1.96" fill="#5b1413"/><rect x="131.48" y="312.92" width="6.04" height="1.96" fill="#421212"/><rect x="137.22" y="312.92" width="6.04" height="1.96" fill="#5e1413"/><rect x="142.96" y="312.92" width="6.04" height="1.96" fill="#291111"/><rect x="148.70" y="312.92" width="6.04" height="1.96" fill="#641514"/><rect x="154.44" y="312.92" width="6.04" height="1.96" fill="#5a1413"/><rect x="160.18" y="312.92" width="6.04" height="1.96" fill="#721615"/><rect x="165.92" y="312.92" width="6.04" height="1.96" fill="#251110"/><rect x="171.66" y="312.92" width="6.04" height="1.96" fill="#132318"/><rect x="177.40" y="312.92" width="5.94" height="1.96" fill="#211010"/><rect x="183.04" y="312.92" width="5.94" height="1.96" fill="#10572d"/><rect x="188.68" y="312.92" width="5.94" height="1.96" fill="#171010"/><rect x="194.32" y="312.92" width="5.94" height="1.96" fill="#113921"/><rect x="199.96" y="312.92" width="5.94" height="1.96" fill="#12351f"/><rect x="205.60" y="312.92" width="5.94" height="1.96" fill="#12331e"/><rect x="211.24" y="312.92" width="5.94" height="1.96" fill="#241010"/><rect x="216.88" y="312.92" width="5.94" height="1.96" fill="#104b28"/><rect x="222.52" y="312.92" width="5.94" height="1.96" fill="#113e23"/><rect x="228.16" y="312.92" width="5.94" height="1.96" fill="#10542c"/><rect x="233.80" y="312.92" width="5.94" height="1.96" fill="#114526"/><rect x="239.44" y="312.92" width="5.94" height="1.96" fill="#0f582d"/><rect x="245.08" y="312.92" width="5.94" height="1.96" fill="#0f5a2e"/><rect x="250.72" y="312.92" width="5.94" height="1.96" fill="#104927"/><rect x="256.36" y="312.92" width="5.94" height="1.96" fill="#12351f"/><rect x="120.00" y="314.57" width="6.04" height="1.96" fill="#471312"/><rect x="125.74" y="314.57" width="6.04" height="1.96" fill="#4b1312"/><rect x="131.48" y="314.57" width="6.04" height="1.96" fill="#701514"/><rect x="137.22" y="314.57" width="6.04" height="1.96" fill="#611414"/><rect x="142.96" y="314.57" width="6.04" height="1.96" fill="#5d1413"/><rect x="148.70" y="314.57" width="6.04" height="1.96" fill="#651514"/><rect x="154.44" y="314.57" width="6.04" height="1.96" fill="#481312"/><rect x="160.18" y="314.57" width="6.04" height="1.96" fill="#491312"/><rect x="165.92" y="314.57" width="6.04" height="1.96" fill="#4a1312"/><rect x="171.66" y="314.57" width="6.04" height="1.96" fill="#541413"/><rect x="177.40" y="314.57" width="5.94" height="1.96" fill="#132117"/><rect x="183.04" y="314.57" width="5.94" height="1.96" fill="#113b22"/><rect x="188.68" y="314.57" width="5.94" height="1.96" fill="#132117"/><rect x="194.32" y="314.57" width="5.94" height="1.96" fill="#113d23"/><rect x="199.96" y="314.57" width="5.94" height="1.96" fill="#12281a"/><rect x="205.60" y="314.57" width="5.94" height="1.96" fill="#113b22"/><rect x="211.24" y="314.57" width="5.94" height="1.96" fill="#113820"/><rect x="216.88" y="314.57" width="5.94" height="1.96" fill="#10552c"/><rect x="222.52" y="314.57" width="5.94" height="1.96" fill="#0f6332"/><rect x="228.16" y="314.57" width="5.94" height="1.96" fill="#0f5f30"/><rect x="233.80" y="314.57" width="5.94" height="1.96" fill="#104a28"/><rect x="239.44" y="314.57" width="5.94" height="1.96" fill="#0f5a2e"/><rect x="245.08" y="314.57" width="5.94" height="1.96" fill="#0f5d2f"/><rect x="250.72" y="314.57" width="5.94" height="1.96" fill="#114124"/><rect x="256.36" y="314.57" width="5.94" height="1.96" fill="#104c29"/><rect x="120.00" y="316.23" width="6.04" height="1.96" fill="#7d1615"/><rect x="125.74" y="316.23" width="6.04" height="1.96" fill="#3e1212"/><rect x="131.48" y="316.23" width="6.04" height="1.96" fill="#541413"/><rect x="137.22" y="316.23" width="6.04" height="1.96" fill="#311111"/><rect x="142.96" y="316.23" width="6.04" height="1.96" fill="#471312"/><rect x="148.70" y="316.23" width="6.04" height="1.96" fill="#591413"/><rect x="154.44" y="316.23" width="6.04" height="1.96" fill="#461312"/><rect x="160.18" y="316.23" width="6.04" height="1.96" fill="#2d1111"/><rect x="165.92" y="316.23" width="6.04" height="1.96" fill="#691514"/><rect x="171.66" y="316.23" width="6.04" height="1.96" fill="#441312"/><rect x="177.40" y="316.23" width="5.94" height="1.96" fill="#1b1010"/><rect x="183.04" y="316.23" width="5.94" height="1.96" fill="#122f1d"/><rect x="188.68" y="316.23" width="5.94" height="1.96" fill="#132619"/><rect x="194.32" y="316.23" width="5.94" height="1.96" fill="#12281a"/><rect x="199.96" y="316.23" width="5.94" height="1.96" fill="#113820"/><rect x="205.60" y="316.23" width="5.94" height="1.96" fill="#1b1010"/><rect x="211.24" y="316.23" width="5.94" height="1.96" fill="#131e16"/><rect x="216.88" y="316.23" width="5.94" height="1.96" fill="#0e773a"/><rect x="222.52" y="316.23" width="5.94" height="1.96" fill="#114124"/><rect x="228.16" y="316.23" width="5.94" height="1.96" fill="#114024"/><rect x="233.80" y="316.23" width="5.94" height="1.96" fill="#12351f"/><rect x="239.44" y="316.23" width="5.94" height="1.96" fill="#114325"/><rect x="245.08" y="316.23" width="5.94" height="1.96" fill="#104c28"/><rect x="250.72" y="316.23" width="5.94" height="1.96" fill="#13271a"/><rect x="256.36" y="316.23" width="5.94" height="1.96" fill="#12291b"/><rect x="120.00" y="317.88" width="6.04" height="1.96" fill="#291111"/><rect x="125.74" y="317.88" width="6.04" height="1.96" fill="#981817"/><rect x="131.48" y="317.88" width="6.04" height="1.96" fill="#3e1212"/><rect x="137.22" y="317.88" width="6.04" height="1.96" fill="#491312"/><rect x="142.96" y="317.88" width="6.04" height="1.96" fill="#641514"/><rect x="148.70" y="317.88" width="6.04" height="1.96" fill="#5b1413"/><rect x="154.44" y="317.88" width="6.04" height="1.96" fill="#591413"/><rect x="160.18" y="317.88" width="6.04" height="1.96" fill="#5a1413"/><rect x="165.92" y="317.88" width="6.04" height="1.96" fill="#511313"/><rect x="171.66" y="317.88" width="6.04" height="1.96" fill="#6e1514"/><rect x="177.40" y="317.88" width="5.94" height="1.96" fill="#132419"/><rect x="183.04" y="317.88" width="5.94" height="1.96" fill="#12351f"/><rect x="188.68" y="317.88" width="5.94" height="1.96" fill="#131d16"/><rect x="194.32" y="317.88" width="5.94" height="1.96" fill="#131f17"/><rect x="199.96" y="317.88" width="5.94" height="1.96" fill="#132318"/><rect x="205.60" y="317.88" width="5.94" height="1.96" fill="#132017"/><rect x="211.24" y="317.88" width="5.94" height="1.96" fill="#132318"/><rect x="216.88" y="317.88" width="5.94" height="1.96" fill="#10532b"/><rect x="222.52" y="317.88" width="5.94" height="1.96" fill="#0f6332"/><rect x="228.16" y="317.88" width="5.94" height="1.96" fill="#104e29"/><rect x="233.80" y="317.88" width="5.94" height="1.96" fill="#10542c"/><rect x="239.44" y="317.88" width="5.94" height="1.96" fill="#104f2a"/><rect x="245.08" y="317.88" width="5.94" height="1.96" fill="#114124"/><rect x="250.72" y="317.88" width="5.94" height="1.96" fill="#114325"/><rect x="256.36" y="317.88" width="5.94" height="1.96" fill="#122b1b"/><rect x="120.00" y="319.54" width="6.04" height="1.96" fill="#7c1615"/><rect x="125.74" y="319.54" width="6.04" height="1.96" fill="#311111"/><rect x="131.48" y="319.54" width="6.04" height="1.96" fill="#211010"/><rect x="137.22" y="319.54" width="6.04" height="1.96" fill="#2c1111"/><rect x="142.96" y="319.54" width="6.04" height="1.96" fill="#411212"/><rect x="148.70" y="319.54" width="6.04" height="1.96" fill="#331111"/><rect x="154.44" y="319.54" width="6.04" height="1.96" fill="#401212"/><rect x="160.18" y="319.54" width="6.04" height="1.96" fill="#321111"/><rect x="165.92" y="319.54" width="6.04" height="1.96" fill="#5d1413"/><rect x="171.66" y="319.54" width="6.04" height="1.96" fill="#2e1111"/><rect x="177.40" y="319.54" width="5.94" height="1.96" fill="#131a14"/><rect x="183.04" y="319.54" width="5.94" height="1.96" fill="#122f1d"/><rect x="188.68" y="319.54" width="5.94" height="1.96" fill="#131d16"/><rect x="194.32" y="319.54" width="5.94" height="1.96" fill="#131f16"/><rect x="199.96" y="319.54" width="5.94" height="1.96" fill="#132619"/><rect x="205.60" y="319.54" width="5.94" height="1.96" fill="#132619"/><rect x="211.24" y="319.54" width="5.94" height="1.96" fill="#12311e"/><rect x="216.88" y="319.54" width="5.94" height="1.96" fill="#104e29"/><rect x="222.52" y="319.54" width="5.94" height="1.96" fill="#113a21"/><rect x="228.16" y="319.54" width="5.94" height="1.96" fill="#122a1b"/><rect x="233.80" y="319.54" width="5.94" height="1.96" fill="#122e1d"/><rect x="239.44" y="319.54" width="5.94" height="1.96" fill="#123620"/><rect x="245.08" y="319.54" width="5.94" height="1.96" fill="#12301d"/><rect x="250.72" y="319.54" width="5.94" height="1.96" fill="#12291a"/><rect x="256.36" y="319.54" width="5.94" height="1.96" fill="#12291b"/><rect x="120.00" y="321.20" width="6.04" height="1.96" fill="#13271a"/><rect x="125.74" y="321.20" width="6.04" height="1.96" fill="#441312"/><rect x="131.48" y="321.20" width="6.04" height="1.96" fill="#4d1312"/><rect x="137.22" y="321.20" width="6.04" height="1.96" fill="#461312"/><rect x="142.96" y="321.20" width="6.04" height="1.96" fill="#4f1313"/><rect x="148.70" y="321.20" width="6.04" height="1.96" fill="#551413"/><rect x="154.44" y="321.20" width="6.04" height="1.96" fill="#171010"/><rect x="160.18" y="321.20" width="6.04" height="1.96" fill="#361211"/><rect x="165.92" y="321.20" width="6.04" height="1.96" fill="#571413"/><rect x="171.66" y="321.20" width="6.04" height="1.96" fill="#391211"/><rect x="177.40" y="321.20" width="5.94" height="1.96" fill="#132017"/><rect x="183.04" y="321.20" width="5.94" height="1.96" fill="#12341f"/><rect x="188.68" y="321.20" width="5.94" height="1.96" fill="#132218"/><rect x="194.32" y="321.20" width="5.94" height="1.96" fill="#3c1212"/><rect x="199.96" y="321.20" width="5.94" height="1.96" fill="#122d1c"/><rect x="205.60" y="321.20" width="5.94" height="1.96" fill="#12341f"/><rect x="211.24" y="321.20" width="5.94" height="1.96" fill="#131d16"/><rect x="216.88" y="321.20" width="5.94" height="1.96" fill="#114626"/><rect x="222.52" y="321.20" width="5.94" height="1.96" fill="#122b1b"/><rect x="228.16" y="321.20" width="5.94" height="1.96" fill="#0e7238"/><rect x="233.80" y="321.20" width="5.94" height="1.96" fill="#113821"/><rect x="239.44" y="321.20" width="5.94" height="1.96" fill="#123620"/><rect x="245.08" y="321.20" width="5.94" height="1.96" fill="#12311e"/><rect x="250.72" y="321.20" width="5.94" height="1.96" fill="#12311e"/><rect x="256.36" y="321.20" width="5.94" height="1.96" fill="#113921"/><rect x="120.00" y="322.85" width="6.04" height="1.96" fill="#5b1413"/><rect x="125.74" y="322.85" width="6.04" height="1.96" fill="#4c1312"/><rect x="131.48" y="322.85" width="6.04" height="1.96" fill="#631514"/><rect x="137.22" y="322.85" width="6.04" height="1.96" fill="#321111"/><rect x="142.96" y="322.85" width="6.04" height="1.96" fill="#341111"/><rect x="148.70" y="322.85" width="6.04" height="1.96" fill="#541413"/><rect x="154.44" y="322.85" width="6.04" height="1.96" fill="#391211"/><rect x="160.18" y="322.85" width="6.04" height="1.96" fill="#3c1212"/><rect x="165.92" y="322.85" width="6.04" height="1.96" fill="#441312"/><rect x="171.66" y="322.85" width="6.04" height="1.96" fill="#5e1413"/><rect x="177.40" y="322.85" width="5.94" height="1.96" fill="#1d1010"/><rect x="183.04" y="322.85" width="5.94" height="1.96" fill="#12311e"/><rect x="188.68" y="322.85" width="5.94" height="1.96" fill="#12331e"/><rect x="194.32" y="322.85" width="5.94" height="1.96" fill="#114024"/><rect x="199.96" y="322.85" width="5.94" height="1.96" fill="#123620"/><rect x="205.60" y="322.85" width="5.94" height="1.96" fill="#13271a"/><rect x="211.24" y="322.85" width="5.94" height="1.96" fill="#12291b"/><rect x="216.88" y="322.85" width="5.94" height="1.96" fill="#114626"/><rect x="222.52" y="322.85" width="5.94" height="1.96" fill="#12341f"/><rect x="228.16" y="322.85" width="5.94" height="1.96" fill="#114124"/><rect x="233.80" y="322.85" width="5.94" height="1.96" fill="#12321e"/><rect x="239.44" y="322.85" width="5.94" height="1.96" fill="#0f5b2f"/><rect x="245.08" y="322.85" width="5.94" height="1.96" fill="#0f592e"/><rect x="250.72" y="322.85" width="5.94" height="1.96" fill="#113a21"/><rect x="256.36" y="322.85" width="5.94" height="1.96" fill="#132619"/><rect x="120.00" y="324.51" width="6.04" height="1.96" fill="#291111"/><rect x="125.74" y="324.51" width="6.04" height="1.96" fill="#531313"/><rect x="131.48" y="324.51" width="6.04" height="1.96" fill="#4c1312"/><rect x="137.22" y="324.51" width="6.04" height="1.96" fill="#421212"/><rect x="142.96" y="324.51" width="6.04" height="1.96" fill="#561413"/><rect x="148.70" y="324.51" width="6.04" height="1.96" fill="#421212"/><rect x="154.44" y="324.51" width="6.04" height="1.96" fill="#2f1111"/><rect x="160.18" y="324.51" width="6.04" height="1.96" fill="#491312"/><rect x="165.92" y="324.51" width="6.04" height="1.96" fill="#4b1312"/><rect x="171.66" y="324.51" width="6.04" height="1.96" fill="#3d1212"/><rect x="177.40" y="324.51" width="5.94" height="1.96" fill="#132318"/><rect x="183.04" y="324.51" width="5.94" height="1.96" fill="#131d16"/><rect x="188.68" y="324.51" width="5.94" height="1.96" fill="#132218"/><rect x="194.32" y="324.51" width="5.94" height="1.96" fill="#132218"/><rect x="199.96" y="324.51" width="5.94" height="1.96" fill="#131914"/><rect x="205.60" y="324.51" width="5.94" height="1.96" fill="#113820"/><rect x="211.24" y="324.51" width="5.94" height="1.96" fill="#132017"/><rect x="216.88" y="324.51" width="5.94" height="1.96" fill="#122a1b"/><rect x="222.52" y="324.51" width="5.94" height="1.96" fill="#114024"/><rect x="228.16" y="324.51" width="5.94" height="1.96" fill="#114425"/><rect x="233.80" y="324.51" width="5.94" height="1.96" fill="#12311e"/><rect x="239.44" y="324.51" width="5.94" height="1.96" fill="#104827"/><rect x="245.08" y="324.51" width="5.94" height="1.96" fill="#123720"/><rect x="250.72" y="324.51" width="5.94" height="1.96" fill="#122e1c"/><rect x="256.36" y="324.51" width="5.94" height="1.96" fill="#132419"/><rect x="120.00" y="326.16" width="6.04" height="1.96" fill="#3d1212"/><rect x="125.74" y="326.16" width="6.04" height="1.96" fill="#161010"/><rect x="131.48" y="326.16" width="6.04" height="1.96" fill="#2a1111"/><rect x="137.22" y="326.16" width="6.04" height="1.96" fill="#2b1111"/><rect x="142.96" y="326.16" width="6.04" height="1.96" fill="#2b1111"/><rect x="148.70" y="326.16" width="6.04" height="1.96" fill="#1d1010"/><rect x="154.44" y="326.16" width="6.04" height="1.96" fill="#3a1211"/><rect x="160.18" y="326.16" width="6.04" height="1.96" fill="#2a1111"/><rect x="165.92" y="326.16" width="6.04" height="1.96" fill="#351211"/><rect x="171.66" y="326.16" width="6.04" height="1.96" fill="#231010"/><rect x="177.40" y="326.16" width="5.94" height="1.96" fill="#171010"/><rect x="183.04" y="326.16" width="5.94" height="1.96" fill="#12311e"/><rect x="188.68" y="326.16" width="5.94" height="1.96" fill="#161010"/><rect x="194.32" y="326.16" width="5.94" height="1.96" fill="#131e16"/><rect x="199.96" y="326.16" width="5.94" height="1.96" fill="#12331f"/><rect x="205.60" y="326.16" width="5.94" height="1.96" fill="#131914"/><rect x="211.24" y="326.16" width="5.94" height="1.96" fill="#122b1b"/><rect x="216.88" y="326.16" width="5.94" height="1.96" fill="#114325"/><rect x="222.52" y="326.16" width="5.94" height="1.96" fill="#132519"/><rect x="228.16" y="326.16" width="5.94" height="1.96" fill="#122b1b"/><rect x="233.80" y="326.16" width="5.94" height="1.96" fill="#122e1d"/><rect x="239.44" y="326.16" width="5.94" height="1.96" fill="#122f1d"/><rect x="245.08" y="326.16" width="5.94" height="1.96" fill="#122a1b"/><rect x="250.72" y="326.16" width="5.94" height="1.96" fill="#131f16"/><rect x="256.36" y="326.16" width="5.94" height="1.96" fill="#171010"/><rect x="120.00" y="327.82" width="6.04" height="1.96" fill="#1f1010"/><rect x="125.74" y="327.82" width="6.04" height="1.96" fill="#6a1514"/><rect x="131.48" y="327.82" width="6.04" height="1.96" fill="#401212"/><rect x="137.22" y="327.82" width="6.04" height="1.96" fill="#681514"/><rect x="142.96" y="327.82" width="6.04" height="1.96" fill="#671514"/><rect x="148.70" y="327.82" width="6.04" height="1.96" fill="#5c1413"/><rect x="154.44" y="327.82" width="6.04" height="1.96" fill="#401212"/><rect x="160.18" y="327.82" width="6.04" height="1.96" fill="#6c1514"/><rect x="165.92" y="327.82" width="6.04" height="1.96" fill="#6a1514"/><rect x="171.66" y="327.82" width="6.04" height="1.96" fill="#5e1413"/><rect x="177.40" y="327.82" width="5.94" height="1.96" fill="#1a1010"/><rect x="183.04" y="327.82" width="5.94" height="1.96" fill="#113f23"/><rect x="188.68" y="327.82" width="5.94" height="1.96" fill="#113921"/><rect x="194.32" y="327.82" width="5.94" height="1.96" fill="#114225"/><rect x="199.96" y="327.82" width="5.94" height="1.96" fill="#132619"/><rect x="205.60" y="327.82" width="5.94" height="1.96" fill="#12291a"/><rect x="211.24" y="327.82" width="5.94" height="1.96" fill="#131814"/><rect x="216.88" y="327.82" width="5.94" height="1.96" fill="#0e6834"/><rect x="222.52" y="327.82" width="5.94" height="1.96" fill="#10532b"/><rect x="228.16" y="327.82" width="5.94" height="1.96" fill="#0f5d2f"/><rect x="233.80" y="327.82" width="5.94" height="1.96" fill="#104d29"/><rect x="239.44" y="327.82" width="5.94" height="1.96" fill="#0f6432"/><rect x="245.08" y="327.82" width="5.94" height="1.96" fill="#0e7137"/><rect x="250.72" y="327.82" width="5.94" height="1.96" fill="#132117"/><rect x="256.36" y="327.82" width="5.94" height="1.96" fill="#113a21"/><rect x="120.00" y="329.47" width="6.04" height="1.96" fill="#5c1413"/><rect x="125.74" y="329.47" width="6.04" height="1.96" fill="#411212"/><rect x="131.48" y="329.47" width="6.04" height="1.96" fill="#751615"/><rect x="137.22" y="329.47" width="6.04" height="1.96" fill="#251110"/><rect x="142.96" y="329.47" width="6.04" height="1.96" fill="#401212"/><rect x="148.70" y="329.47" width="6.04" height="1.96" fill="#561413"/><rect x="154.44" y="329.47" width="6.04" height="1.96" fill="#5a1413"/><rect x="160.18" y="329.47" width="6.04" height="1.96" fill="#5e1413"/><rect x="165.92" y="329.47" width="6.04" height="1.96" fill="#601414"/><rect x="171.66" y="329.47" width="6.04" height="1.96" fill="#641514"/><rect x="177.40" y="329.47" width="5.94" height="1.96" fill="#12311e"/><rect x="183.04" y="329.47" width="5.94" height="1.96" fill="#113a21"/><rect x="188.68" y="329.47" width="5.94" height="1.96" fill="#211010"/><rect x="194.32" y="329.47" width="5.94" height="1.96" fill="#0e6a35"/><rect x="199.96" y="329.47" width="5.94" height="1.96" fill="#113f23"/><rect x="205.60" y="329.47" width="5.94" height="1.96" fill="#122d1c"/><rect x="211.24" y="329.47" width="5.94" height="1.96" fill="#122e1d"/><rect x="216.88" y="329.47" width="5.94" height="1.96" fill="#0e6d36"/><rect x="222.52" y="329.47" width="5.94" height="1.96" fill="#10522b"/><rect x="228.16" y="329.47" width="5.94" height="1.96" fill="#10542c"/><rect x="233.80" y="329.47" width="5.94" height="1.96" fill="#114024"/><rect x="239.44" y="329.47" width="5.94" height="1.96" fill="#10522b"/><rect x="245.08" y="329.47" width="5.94" height="1.96" fill="#114225"/><rect x="250.72" y="329.47" width="5.94" height="1.96" fill="#12281a"/><rect x="256.36" y="329.47" width="5.94" height="1.96" fill="#104e29"/><rect x="120.00" y="331.13" width="6.04" height="1.96" fill="#131914"/><rect x="125.74" y="331.13" width="6.04" height="1.96" fill="#661514"/><rect x="131.48" y="331.13" width="6.04" height="1.96" fill="#5c1413"/><rect x="137.22" y="331.13" width="6.04" height="1.96" fill="#681514"/><rect x="142.96" y="331.13" width="6.04" height="1.96" fill="#751615"/><rect x="148.70" y="331.13" width="6.04" height="1.96" fill="#6d1514"/><rect x="154.44" y="331.13" width="6.04" height="1.96" fill="#291111"/><rect x="160.18" y="331.13" width="6.04" height="1.96" fill="#681514"/><rect x="165.92" y="331.13" width="6.04" height="1.96" fill="#5d1413"/><rect x="171.66" y="331.13" width="6.04" height="1.96" fill="#761615"/><rect x="177.40" y="331.13" width="5.94" height="1.96" fill="#241010"/><rect x="183.04" y="331.13" width="5.94" height="1.96" fill="#122a1b"/><rect x="188.68" y="331.13" width="5.94" height="1.96" fill="#132419"/><rect x="194.32" y="331.13" width="5.94" height="1.96" fill="#12281a"/><rect x="199.96" y="331.13" width="5.94" height="1.96" fill="#12311e"/><rect x="205.60" y="331.13" width="5.94" height="1.96" fill="#132619"/><rect x="211.24" y="331.13" width="5.94" height="1.96" fill="#132017"/><rect x="216.88" y="331.13" width="5.94" height="1.96" fill="#104f2a"/><rect x="222.52" y="331.13" width="5.94" height="1.96" fill="#104f2a"/><rect x="228.16" y="331.13" width="5.94" height="1.96" fill="#0f5d2f"/><rect x="233.80" y="331.13" width="5.94" height="1.96" fill="#10542c"/><rect x="239.44" y="331.13" width="5.94" height="1.96" fill="#113d22"/><rect x="245.08" y="331.13" width="5.94" height="1.96" fill="#113b22"/><rect x="250.72" y="331.13" width="5.94" height="1.96" fill="#132519"/><rect x="256.36" y="331.13" width="5.94" height="1.96" fill="#122d1c"/><rect x="120.00" y="332.79" width="6.04" height="1.96" fill="#131814"/><rect x="125.74" y="332.79" width="6.04" height="1.96" fill="#122c1c"/><rect x="131.48" y="332.79" width="6.04" height="1.96" fill="#114325"/><rect x="137.22" y="332.79" width="6.04" height="1.96" fill="#131b15"/><rect x="142.96" y="332.79" width="6.04" height="1.96" fill="#122a1b"/><rect x="148.70" y="332.79" width="6.04" height="1.96" fill="#122f1d"/><rect x="154.44" y="332.79" width="6.04" height="1.96" fill="#0f5e30"/><rect x="160.18" y="332.79" width="6.04" height="1.96" fill="#104a28"/><rect x="165.92" y="332.79" width="6.04" height="1.96" fill="#114124"/><rect x="171.66" y="332.79" width="6.04" height="1.96" fill="#113820"/><rect x="177.40" y="332.79" width="5.94" height="1.96" fill="#191010"/><rect x="183.04" y="332.79" width="5.94" height="1.96" fill="#2e1111"/><rect x="188.68" y="332.79" width="5.94" height="1.96" fill="#171010"/><rect x="194.32" y="332.79" width="5.94" height="1.96" fill="#281111"/><rect x="199.96" y="332.79" width="5.94" height="1.96" fill="#2a1111"/><rect x="205.60" y="332.79" width="5.94" height="1.96" fill="#1a1010"/><rect x="211.24" y="332.79" width="5.94" height="1.96" fill="#2e1111"/><rect x="216.88" y="332.79" width="5.94" height="1.96" fill="#361211"/><rect x="222.52" y="332.79" width="5.94" height="1.96" fill="#491312"/><rect x="228.16" y="332.79" width="5.94" height="1.96" fill="#132418"/><rect x="233.80" y="332.79" width="5.94" height="1.96" fill="#281111"/><rect x="239.44" y="332.79" width="5.94" height="1.96" fill="#681514"/><rect x="245.08" y="332.79" width="5.94" height="1.96" fill="#4a1312"/><rect x="250.72" y="332.79" width="5.94" height="1.96" fill="#2a1111"/><rect x="256.36" y="332.79" width="5.94" height="1.96" fill="#331111"/><rect x="120.00" y="334.44" width="6.04" height="1.96" fill="#371211"/><rect x="125.74" y="334.44" width="6.04" height="1.96" fill="#3a1211"/><rect x="131.48" y="334.44" width="6.04" height="1.96" fill="#4b1312"/><rect x="137.22" y="334.44" width="6.04" height="1.96" fill="#411212"/><rect x="142.96" y="334.44" width="6.04" height="1.96" fill="#2f1111"/><rect x="148.70" y="334.44" width="6.04" height="1.96" fill="#271110"/><rect x="154.44" y="334.44" width="6.04" height="1.96" fill="#511313"/><rect x="160.18" y="334.44" width="6.04" height="1.96" fill="#1a1010"/><rect x="165.92" y="334.44" width="6.04" height="1.96" fill="#4f1313"/><rect x="171.66" y="334.44" width="6.04" height="1.96" fill="#481312"/><rect x="177.40" y="334.44" width="5.94" height="1.96" fill="#13271a"/><rect x="183.04" y="334.44" width="5.94" height="1.96" fill="#131f16"/><rect x="188.68" y="334.44" width="5.94" height="1.96" fill="#131c15"/><rect x="194.32" y="334.44" width="5.94" height="1.96" fill="#132419"/><rect x="199.96" y="334.44" width="5.94" height="1.96" fill="#12291b"/><rect x="205.60" y="334.44" width="5.94" height="1.96" fill="#122f1d"/><rect x="211.24" y="334.44" width="5.94" height="1.96" fill="#241010"/><rect x="216.88" y="334.44" width="5.94" height="1.96" fill="#10552c"/><rect x="222.52" y="334.44" width="5.94" height="1.96" fill="#113820"/><rect x="228.16" y="334.44" width="5.94" height="1.96" fill="#10552c"/><rect x="233.80" y="334.44" width="5.94" height="1.96" fill="#12291b"/><rect x="239.44" y="334.44" width="5.94" height="1.96" fill="#114425"/><rect x="245.08" y="334.44" width="5.94" height="1.96" fill="#10562d"/><rect x="250.72" y="334.44" width="5.94" height="1.96" fill="#12291a"/><rect x="256.36" y="334.44" width="5.94" height="1.96" fill="#113f23"/><rect x="120.00" y="336.10" width="6.04" height="1.96" fill="#132418"/><rect x="125.74" y="336.10" width="6.04" height="1.96" fill="#481312"/><rect x="131.48" y="336.10" width="6.04" height="1.96" fill="#491312"/><rect x="137.22" y="336.10" width="6.04" height="1.96" fill="#271110"/><rect x="142.96" y="336.10" width="6.04" height="1.96" fill="#4a1312"/><rect x="148.70" y="336.10" width="6.04" height="1.96" fill="#221010"/><rect x="154.44" y="336.10" width="6.04" height="1.96" fill="#131914"/><rect x="160.18" y="336.10" width="6.04" height="1.96" fill="#4e1313"/><rect x="165.92" y="336.10" width="6.04" height="1.96" fill="#331111"/><rect x="171.66" y="336.10" width="6.04" height="1.96" fill="#3d1212"/><rect x="177.40" y="336.10" width="5.94" height="1.96" fill="#132017"/><rect x="183.04" y="336.10" width="5.94" height="1.96" fill="#221010"/><rect x="188.68" y="336.10" width="5.94" height="1.96" fill="#161010"/><rect x="194.32" y="336.10" width="5.94" height="1.96" fill="#132017"/><rect x="199.96" y="336.10" width="5.94" height="1.96" fill="#122e1c"/><rect x="205.60" y="336.10" width="5.94" height="1.96" fill="#122a1b"/><rect x="211.24" y="336.10" width="5.94" height="1.96" fill="#122f1d"/><rect x="216.88" y="336.10" width="5.94" height="1.96" fill="#131e16"/><rect x="222.52" y="336.10" width="5.94" height="1.96" fill="#132117"/><rect x="228.16" y="336.10" width="5.94" height="1.96" fill="#122d1c"/><rect x="233.80" y="336.10" width="5.94" height="1.96" fill="#132519"/><rect x="239.44" y="336.10" width="5.94" height="1.96" fill="#113e23"/><rect x="245.08" y="336.10" width="5.94" height="1.96" fill="#113f23"/><rect x="250.72" y="336.10" width="5.94" height="1.96" fill="#132519"/><rect x="256.36" y="336.10" width="5.94" height="1.96" fill="#122e1c"/><rect x="120.00" y="337.75" width="6.04" height="1.96" fill="#131b15"/><rect x="125.74" y="337.75" width="6.04" height="1.96" fill="#132117"/><rect x="131.48" y="337.75" width="6.04" height="1.96" fill="#1d1010"/><rect x="137.22" y="337.75" width="6.04" height="1.96" fill="#132619"/><rect x="142.96" y="337.75" width="6.04" height="1.96" fill="#12351f"/><rect x="148.70" y="337.75" width="6.04" height="1.96" fill="#12311e"/><rect x="154.44" y="337.75" width="6.04" height="1.96" fill="#1a1010"/><rect x="160.18" y="337.75" width="6.04" height="1.96" fill="#12291a"/><rect x="165.92" y="337.75" width="6.04" height="1.96" fill="#131e16"/><rect x="171.66" y="337.75" width="6.04" height="1.96" fill="#122f1d"/><rect x="177.40" y="337.75" width="5.94" height="1.96" fill="#271110"/><rect x="183.04" y="337.75" width="5.94" height="1.96" fill="#181010"/><rect x="188.68" y="337.75" width="5.94" height="1.96" fill="#1d1010"/><rect x="194.32" y="337.75" width="5.94" height="1.96" fill="#371211"/><rect x="199.96" y="337.75" width="5.94" height="1.96" fill="#251110"/><rect x="205.60" y="337.75" width="5.94" height="1.96" fill="#1d1010"/><rect x="211.24" y="337.75" width="5.94" height="1.96" fill="#122b1b"/><rect x="216.88" y="337.75" width="5.94" height="1.96" fill="#261110"/><rect x="222.52" y="337.75" width="5.94" height="1.96" fill="#221010"/><rect x="228.16" y="337.75" width="5.94" height="1.96" fill="#2e1111"/><rect x="233.80" y="337.75" width="5.94" height="1.96" fill="#1e1010"/><rect x="239.44" y="337.75" width="5.94" height="1.96" fill="#4a1312"/><rect x="245.08" y="337.75" width="5.94" height="1.96" fill="#1b1010"/><rect x="250.72" y="337.75" width="5.94" height="1.96" fill="#3a1211"/><rect x="256.36" y="337.75" width="5.94" height="1.96" fill="#1f1010"/><rect x="120.00" y="339.41" width="6.04" height="1.96" fill="#2a1111"/><rect x="125.74" y="339.41" width="6.04" height="1.96" fill="#551413"/><rect x="131.48" y="339.41" width="6.04" height="1.96" fill="#611414"/><rect x="137.22" y="339.41" width="6.04" height="1.96" fill="#331111"/><rect x="142.96" y="339.41" width="6.04" height="1.96" fill="#401212"/><rect x="148.70" y="339.41" width="6.04" height="1.96" fill="#431212"/><rect x="154.44" y="339.41" width="6.04" height="1.96" fill="#3a1211"/><rect x="160.18" y="339.41" width="6.04" height="1.96" fill="#361211"/><rect x="165.92" y="339.41" width="6.04" height="1.96" fill="#1c1010"/><rect x="171.66" y="339.41" width="6.04" height="1.96" fill="#271110"/><rect x="177.40" y="339.41" width="5.94" height="1.96" fill="#231010"/><rect x="183.04" y="339.41" width="5.94" height="1.96" fill="#131814"/><rect x="188.68" y="339.41" width="5.94" height="1.96" fill="#132117"/><rect x="194.32" y="339.41" width="5.94" height="1.96" fill="#1c1010"/><rect x="199.96" y="339.41" width="5.94" height="1.96" fill="#131d16"/><rect x="205.60" y="339.41" width="5.94" height="1.96" fill="#113a21"/><rect x="211.24" y="339.41" width="5.94" height="1.96" fill="#1c1010"/><rect x="216.88" y="339.41" width="5.94" height="1.96" fill="#114526"/><rect x="222.52" y="339.41" width="5.94" height="1.96" fill="#132117"/><rect x="228.16" y="339.41" width="5.94" height="1.96" fill="#122b1b"/><rect x="233.80" y="339.41" width="5.94" height="1.96" fill="#131c15"/><rect x="239.44" y="339.41" width="5.94" height="1.96" fill="#113921"/><rect x="245.08" y="339.41" width="5.94" height="1.96" fill="#113b22"/><rect x="250.72" y="339.41" width="5.94" height="1.96" fill="#13271a"/><rect x="256.36" y="339.41" width="5.94" height="1.96" fill="#132017"/><rect x="120.00" y="341.07" width="6.04" height="1.96" fill="#531413"/><rect x="125.74" y="341.07" width="6.04" height="1.96" fill="#3f1212"/><rect x="131.48" y="341.07" width="6.04" height="1.96" fill="#471312"/><rect x="137.22" y="341.07" width="6.04" height="1.96" fill="#551413"/><rect x="142.96" y="341.07" width="6.04" height="1.96" fill="#2d1111"/><rect x="148.70" y="341.07" width="6.04" height="1.96" fill="#12321e"/><rect x="154.44" y="341.07" width="6.04" height="1.96" fill="#231010"/><rect x="160.18" y="341.07" width="6.04" height="1.96" fill="#211010"/><rect x="165.92" y="341.07" width="6.04" height="1.96" fill="#391211"/><rect x="171.66" y="341.07" width="6.04" height="1.96" fill="#321111"/><rect x="177.40" y="341.07" width="5.94" height="1.96" fill="#191010"/><rect x="183.04" y="341.07" width="5.94" height="1.96" fill="#12301d"/><rect x="188.68" y="341.07" width="5.94" height="1.96" fill="#104c28"/><rect x="194.32" y="341.07" width="5.94" height="1.96" fill="#132318"/><rect x="199.96" y="341.07" width="5.94" height="1.96" fill="#132218"/><rect x="205.60" y="341.07" width="5.94" height="1.96" fill="#131814"/><rect x="211.24" y="341.07" width="5.94" height="1.96" fill="#161010"/><rect x="216.88" y="341.07" width="5.94" height="1.96" fill="#12351f"/><rect x="222.52" y="341.07" width="5.94" height="1.96" fill="#113b22"/><rect x="228.16" y="341.07" width="5.94" height="1.96" fill="#122e1d"/><rect x="233.80" y="341.07" width="5.94" height="1.96" fill="#131d16"/><rect x="239.44" y="341.07" width="5.94" height="1.96" fill="#113821"/><rect x="245.08" y="341.07" width="5.94" height="1.96" fill="#12301d"/><rect x="250.72" y="341.07" width="5.94" height="1.96" fill="#122c1c"/><rect x="256.36" y="341.07" width="5.94" height="1.96" fill="#131b15"/><rect x="120.00" y="342.72" width="6.04" height="1.96" fill="#113e23"/><rect x="125.74" y="342.72" width="6.04" height="1.96" fill="#123620"/><rect x="131.48" y="342.72" width="6.04" height="1.96" fill="#114325"/><rect x="137.22" y="342.72" width="6.04" height="1.96" fill="#12331e"/><rect x="142.96" y="342.72" width="6.04" height="1.96" fill="#114425"/><rect x="148.70" y="342.72" width="6.04" height="1.96" fill="#132017"/><rect x="154.44" y="342.72" width="6.04" height="1.96" fill="#113d22"/><rect x="160.18" y="342.72" width="6.04" height="1.96" fill="#114626"/><rect x="165.92" y="342.72" width="6.04" height="1.96" fill="#132218"/><rect x="171.66" y="342.72" width="6.04" height="1.96" fill="#12301d"/><rect x="177.40" y="342.72" width="5.94" height="1.96" fill="#1b1010"/><rect x="183.04" y="342.72" width="5.94" height="1.96" fill="#361211"/><rect x="188.68" y="342.72" width="5.94" height="1.96" fill="#131a15"/><rect x="194.32" y="342.72" width="5.94" height="1.96" fill="#2b1111"/><rect x="199.96" y="342.72" width="5.94" height="1.96" fill="#221010"/><rect x="205.60" y="342.72" width="5.94" height="1.96" fill="#132117"/><rect x="211.24" y="342.72" width="5.94" height="1.96" fill="#1b1010"/><rect x="216.88" y="342.72" width="5.94" height="1.96" fill="#3b1212"/><rect x="222.52" y="342.72" width="5.94" height="1.96" fill="#2c1111"/><rect x="228.16" y="342.72" width="5.94" height="1.96" fill="#361211"/><rect x="233.80" y="342.72" width="5.94" height="1.96" fill="#251010"/><rect x="239.44" y="342.72" width="5.94" height="1.96" fill="#6d1514"/><rect x="245.08" y="342.72" width="5.94" height="1.96" fill="#461312"/><rect x="250.72" y="342.72" width="5.94" height="1.96" fill="#1e1010"/><rect x="256.36" y="342.72" width="5.94" height="1.96" fill="#261110"/><rect x="120.00" y="344.38" width="6.04" height="1.96" fill="#4a1312"/><rect x="125.74" y="344.38" width="6.04" height="1.96" fill="#291111"/><rect x="131.48" y="344.38" width="6.04" height="1.96" fill="#311111"/><rect x="137.22" y="344.38" width="6.04" height="1.96" fill="#441312"/><rect x="142.96" y="344.38" width="6.04" height="1.96" fill="#391211"/><rect x="148.70" y="344.38" width="6.04" height="1.96" fill="#281111"/><rect x="154.44" y="344.38" width="6.04" height="1.96" fill="#1b1010"/><rect x="160.18" y="344.38" width="6.04" height="1.96" fill="#381211"/><rect x="165.92" y="344.38" width="6.04" height="1.96" fill="#311111"/><rect x="171.66" y="344.38" width="6.04" height="1.96" fill="#2e1111"/><rect x="177.40" y="344.38" width="5.94" height="1.96" fill="#251010"/><rect x="183.04" y="344.38" width="5.94" height="1.96" fill="#132519"/><rect x="188.68" y="344.38" width="5.94" height="1.96" fill="#131e16"/><rect x="194.32" y="344.38" width="5.94" height="1.96" fill="#131914"/><rect x="199.96" y="344.38" width="5.94" height="1.96" fill="#12301d"/><rect x="205.60" y="344.38" width="5.94" height="1.96" fill="#291111"/><rect x="211.24" y="344.38" width="5.94" height="1.96" fill="#114526"/><rect x="216.88" y="344.38" width="5.94" height="1.96" fill="#122a1b"/><rect x="222.52" y="344.38" width="5.94" height="1.96" fill="#1c1010"/><rect x="228.16" y="344.38" width="5.94" height="1.96" fill="#131d16"/><rect x="233.80" y="344.38" width="5.94" height="1.96" fill="#13271a"/><rect x="239.44" y="344.38" width="5.94" height="1.96" fill="#114225"/><rect x="245.08" y="344.38" width="5.94" height="1.96" fill="#113d23"/><rect x="250.72" y="344.38" width="5.94" height="1.96" fill="#131814"/><rect x="256.36" y="344.38" width="5.94" height="1.96" fill="#132218"/><rect x="120.00" y="346.03" width="6.04" height="1.96" fill="#201010"/><rect x="125.74" y="346.03" width="6.04" height="1.96" fill="#421212"/><rect x="131.48" y="346.03" width="6.04" height="1.96" fill="#471312"/><rect x="137.22" y="346.03" width="6.04" height="1.96" fill="#3a1211"/><rect x="142.96" y="346.03" width="6.04" height="1.96" fill="#531413"/><rect x="148.70" y="346.03" width="6.04" height="1.96" fill="#401212"/><rect x="154.44" y="346.03" width="6.04" height="1.96" fill="#561413"/><rect x="160.18" y="346.03" width="6.04" height="1.96" fill="#3b1212"/><rect x="165.92" y="346.03" width="6.04" height="1.96" fill="#421212"/><rect x="171.66" y="346.03" width="6.04" height="1.96" fill="#321111"/><rect x="177.40" y="346.03" width="5.94" height="1.96" fill="#1c1010"/><rect x="183.04" y="346.03" width="5.94" height="1.96" fill="#13271a"/><rect x="188.68" y="346.03" width="5.94" height="1.96" fill="#122e1d"/><rect x="194.32" y="346.03" width="5.94" height="1.96" fill="#132519"/><rect x="199.96" y="346.03" width="5.94" height="1.96" fill="#12291a"/><rect x="205.60" y="346.03" width="5.94" height="1.96" fill="#131b15"/><rect x="211.24" y="346.03" width="5.94" height="1.96" fill="#132619"/><rect x="216.88" y="346.03" width="5.94" height="1.96" fill="#113a21"/><rect x="222.52" y="346.03" width="5.94" height="1.96" fill="#114727"/><rect x="228.16" y="346.03" width="5.94" height="1.96" fill="#113921"/><rect x="233.80" y="346.03" width="5.94" height="1.96" fill="#12341f"/><rect x="239.44" y="346.03" width="5.94" height="1.96" fill="#113b22"/><rect x="245.08" y="346.03" width="5.94" height="1.96" fill="#122e1c"/><rect x="250.72" y="346.03" width="5.94" height="1.96" fill="#12341f"/><rect x="256.36" y="346.03" width="5.94" height="1.96" fill="#132418"/><rect x="120.00" y="347.69" width="6.04" height="1.96" fill="#721615"/><rect x="125.74" y="347.69" width="6.04" height="1.96" fill="#311111"/><rect x="131.48" y="347.69" width="6.04" height="1.96" fill="#331111"/><rect x="137.22" y="347.69" width="6.04" height="1.96" fill="#231010"/><rect x="142.96" y="347.69" width="6.04" height="1.96" fill="#461312"/><rect x="148.70" y="347.69" width="6.04" height="1.96" fill="#1f1010"/><rect x="154.44" y="347.69" width="6.04" height="1.96" fill="#491312"/><rect x="160.18" y="347.69" width="6.04" height="1.96" fill="#381211"/><rect x="165.92" y="347.69" width="6.04" height="1.96" fill="#4a1312"/><rect x="171.66" y="347.69" width="6.04" height="1.96" fill="#3a1212"/><rect x="177.40" y="347.69" width="5.94" height="1.96" fill="#191010"/><rect x="183.04" y="347.69" width="5.94" height="1.96" fill="#1d1010"/><rect x="188.68" y="347.69" width="5.94" height="1.96" fill="#131f17"/><rect x="194.32" y="347.69" width="5.94" height="1.96" fill="#131914"/><rect x="199.96" y="347.69" width="5.94" height="1.96" fill="#132519"/><rect x="205.60" y="347.69" width="5.94" height="1.96" fill="#181010"/><rect x="211.24" y="347.69" width="5.94" height="1.96" fill="#132218"/><rect x="216.88" y="347.69" width="5.94" height="1.96" fill="#123620"/><rect x="222.52" y="347.69" width="5.94" height="1.96" fill="#132017"/><rect x="228.16" y="347.69" width="5.94" height="1.96" fill="#12291a"/><rect x="233.80" y="347.69" width="5.94" height="1.96" fill="#114526"/><rect x="239.44" y="347.69" width="5.94" height="1.96" fill="#131914"/><rect x="245.08" y="347.69" width="5.94" height="1.96" fill="#1a1010"/><rect x="250.72" y="347.69" width="5.94" height="1.96" fill="#12301d"/><rect x="256.36" y="347.69" width="5.94" height="1.96" fill="#12321e"/><rect x="120.00" y="349.34" width="6.04" height="1.96" fill="#491312"/><rect x="125.74" y="349.34" width="6.04" height="1.96" fill="#331111"/><rect x="131.48" y="349.34" width="6.04" height="1.96" fill="#231010"/><rect x="137.22" y="349.34" width="6.04" height="1.96" fill="#2c1111"/><rect x="142.96" y="349.34" width="6.04" height="1.96" fill="#2b1111"/><rect x="148.70" y="349.34" width="6.04" height="1.96" fill="#2a1111"/><rect x="154.44" y="349.34" width="6.04" height="1.96" fill="#321111"/><rect x="160.18" y="349.34" width="6.04" height="1.96" fill="#2d1111"/><rect x="165.92" y="349.34" width="6.04" height="1.96" fill="#2e1111"/><rect x="171.66" y="349.34" width="6.04" height="1.96" fill="#4e1313"/><rect x="177.40" y="349.34" width="5.94" height="1.96" fill="#13271a"/><rect x="183.04" y="349.34" width="5.94" height="1.96" fill="#131b15"/><rect x="188.68" y="349.34" width="5.94" height="1.96" fill="#1d1010"/><rect x="194.32" y="349.34" width="5.94" height="1.96" fill="#131f16"/><rect x="199.96" y="349.34" width="5.94" height="1.96" fill="#181010"/><rect x="205.60" y="349.34" width="5.94" height="1.96" fill="#132519"/><rect x="211.24" y="349.34" width="5.94" height="1.96" fill="#132218"/><rect x="216.88" y="349.34" width="5.94" height="1.96" fill="#123620"/><rect x="222.52" y="349.34" width="5.94" height="1.96" fill="#122b1b"/><rect x="228.16" y="349.34" width="5.94" height="1.96" fill="#113e23"/><rect x="233.80" y="349.34" width="5.94" height="1.96" fill="#113921"/><rect x="239.44" y="349.34" width="5.94" height="1.96" fill="#122a1b"/><rect x="245.08" y="349.34" width="5.94" height="1.96" fill="#12331f"/><rect x="250.72" y="349.34" width="5.94" height="1.96" fill="#13271a"/><rect x="256.36" y="349.34" width="5.94" height="1.96" fill="#132519"/></g>
<rect x="119.7" y="352.8" width="63.39999999999999" height="10.0" fill="#231f20"/>
<rect x="183.1" y="352.8" width="79.4" height="10.0" fill="#ee2a2a"/>
<text x="151.2" y="361.1" font-size="9.6" text-anchor="middle" fill="#fff">dCMML</text>
<text x="222.8" y="361.1" font-size="9.6" text-anchor="middle" fill="#fff">pCMML</text>
<path d="M134.4,208.6L134.4,200.5L140.1,200.5L140.1,208.6M128.6,208.6L128.6,198.5L137.2,198.5L137.2,200.5M145.8,208.6L145.8,201.5L151.6,201.5L151.6,208.6M157.3,208.6L157.3,201.5L163.1,201.5L163.1,208.6M168.8,208.6L168.8,201.5L174.5,201.5L174.5,208.6M148.7,201.5L148.7,199.5L160.2,199.5L160.2,201.5M154.4,199.5L154.4,198.0L171.7,198.0L171.7,201.5M132.9,198.5L132.9,196.4L163.1,196.4L163.1,198.0M122.9,208.6L122.9,194.3L148.0,194.3L148.0,196.4M180.2,208.6L180.2,199.5L185.9,199.5L185.9,208.6M191.5,208.6L191.5,201.0L197.1,201.0L197.1,208.6M202.8,208.6L202.8,202.0L208.4,202.0L208.4,208.6M205.6,202.0L205.6,200.5L214.0,200.5L214.0,208.6M194.3,201.0L194.3,199.0L209.8,199.0L209.8,200.5M183.1,199.5L183.1,197.8L202.1,197.8L202.1,199.0M219.7,208.6L219.7,198.5L225.3,198.5L225.3,208.6M231.0,208.6L231.0,199.5L236.6,199.5L236.6,208.6M253.5,208.6L253.5,202.0L259.2,202.0L259.2,208.6M247.9,208.6L247.9,200.5L256.4,200.5L256.4,202.0M242.2,208.6L242.2,199.0L252.1,199.0L252.1,200.5M233.8,199.5L233.8,197.5L247.2,197.5L247.2,199.0M222.5,198.5L222.5,195.4L240.5,195.4L240.5,197.5M192.6,197.8L192.6,190.4L231.5,190.4L231.5,195.4M135.4,194.3L135.4,181.2L212.0,181.2L212.0,190.4" fill="none" stroke="#231f20" stroke-width="0.8"/>
<path d="M104.0,278.2L92.6,278.2L92.6,347.5L105.7,347.5M109.8,257.5L104.0,257.5L104.0,298.4L110.2,298.4M111.4,242.2L109.8,242.2L109.8,271.3L113.5,271.3M113.2,230.5L111.4,230.5L111.4,254.6L114.5,254.6M115.0,221.2L113.2,221.2L113.2,240.6L115.5,240.6M112.5,293.1L110.2,293.1L110.2,304.3L113.5,304.3M108.5,344.7L105.7,344.7L105.7,350.6L108.5,350.6M112.0,336.0L108.5,336.0L108.5,348.8L111.0,348.8M114.5,322.0L112.0,322.0L112.0,340.0L113.5,340.0M116.5,309.0L114.5,309.0L114.5,330.0L115.5,330.0M113.5,287.0L112.5,287.0L112.5,297.0L114.0,297.0M114.0,265.0L113.5,265.0L113.5,280.0L115.5,280.0" fill="none" stroke="#231f20" stroke-width="0.7"/>
<polygon points="119.3,209.2 119.2,209.2 117.3,212.0 115.8,216.0 115.6,221.0 114.0,226.0 114.3,231.0 115.3,236.0 115.1,240.5 114.5,245.0 113.9,250.0 114.0,255.0 115.5,260.0 115.2,266.0 114.1,271.0 115.5,276.0 116.4,279.5 115.7,284.0 113.3,288.0 112.6,292.0 113.3,297.0 113.5,302.0 115.5,305.5 117.3,309.0 118.5,313.0 117.1,318.0 115.9,323.0 115.6,328.0 114.9,333.0 113.3,338.0 111.7,342.0 110.9,346.0 111.3,350.8 119.3,350.8" fill="#0a0a0a" fill-opacity="0.95"/>
<path d="M117.7,250.5h0.7M118.0,333.4h0.6M117.1,263.9h0.5M118.1,270.2h0.6M113.9,293.8h1.1M115.5,334.7h0.5M117.1,223.4h0.5M116.9,223.6h1.5M116.4,269.6h1.2M117.1,224.8h0.7M118.2,295.4h0.6M116.8,288.0h0.7M118.4,248.8h1.6M117.4,228.6h1.5M117.1,244.4h0.5M117.6,262.1h1.1M116.5,223.9h1.5M115.5,292.0h0.9M115.6,347.1h0.5M117.6,321.5h1.0M117.1,241.2h0.9M117.3,224.2h0.6M118.1,215.5h1.4M118.1,280.1h0.8M115.7,270.2h1.6M116.6,266.9h1.4M117.6,262.6h0.7M116.7,327.5h0.6M113.0,345.6h1.5M115.8,347.1h0.5M116.4,220.3h0.9M118.2,295.8h0.9M116.9,231.3h0.7M117.1,223.9h1.3M117.0,221.0h1.3M118.1,264.5h0.7" stroke="#fff" stroke-width="0.6" fill="none"/>
<path d="M119.2,210.0H116.6M117.9,212.3H114.9M117.3,214.2H116.2M116.9,215.4H114.8M116.5,216.9H114.1M116.3,218.2H113.5M116.0,219.7H115.1M115.7,221.2H113.7M115.4,223.1H113.7M115.3,224.6H113.3M115.0,227.1H112.9M114.9,229.6H114.0M114.9,232.2H111.9M115.1,234.2H113.0M115.3,236.1H112.2M115.6,237.4H113.1M115.9,239.4H114.4M115.8,241.6H113.2M115.4,242.9H112.9M115.0,244.8H112.9M114.7,246.9H113.7M114.4,248.9H112.7M114.5,251.3H113.1M114.9,253.7H112.3M115.3,255.8H112.3M115.5,257.0H113.2M115.9,259.1H113.4M116.0,260.8H115.0M115.9,262.3H113.5M115.7,263.8H114.8M115.6,265.5H113.6M115.3,267.4H114.4M114.9,269.7H113.3M114.9,272.0H114.1M115.4,274.5H113.1M116.2,277.1H112.9M117.3,279.5H116.2M117.0,281.2H115.6M116.6,283.4H115.3M116.0,285.0H114.9M115.2,286.3H112.1M114.0,288.9H112.3M113.4,291.1H111.4M113.1,293.1H111.4M113.2,295.1H111.8M113.3,296.7H111.2M113.4,298.2H111.5M113.7,300.7H112.9M113.9,302.0H111.1M114.6,303.3H113.2M115.8,305.7H113.5M116.8,307.2H115.8M117.8,308.8H116.2M118.3,311.1H115.1M118.6,313.4H115.6M118.3,315.9H115.4M118.0,318.4H114.8M117.6,319.8H116.0M117.2,321.3H114.9M116.7,323.2H115.0M116.3,325.6H114.5M116.1,327.1H114.6M115.8,328.9H113.4M115.4,330.9H113.5M115.2,332.4H113.4M114.9,334.0H113.6M114.4,336.0H113.1M113.8,338.2H111.4M113.4,339.6H111.1M112.9,341.2H111.0M112.4,343.3H109.7M111.8,345.7H109.1M111.8,347.2H109.6M111.9,348.9H111.1" stroke="#111" stroke-width="0.7" fill="none"/>
<text x="373.3" y="181.3" font-size="9.7" text-anchor="middle" fill="#231f20">3729 genes up-regulated</text>
<text x="373.4" y="193.0" font-size="9.7" text-anchor="middle" fill="#231f20">2658 genes down-regulated</text>
<line x1="303.3" y1="197.3" x2="303.3" y2="326.0" stroke="#333" stroke-width="1.0"/>
<line x1="302.8" y1="325.6" x2="441.5" y2="325.6" stroke="#333" stroke-width="1.0"/>
<line x1="299.8" y1="319.4" x2="303.3" y2="319.4" stroke="#333" stroke-width="0.9"/>
<text x="298.6" y="322.7" font-size="9.2" text-anchor="end" fill="#231f20">0</text>
<line x1="301.3" y1="312.87" x2="303.3" y2="312.87" stroke="#333" stroke-width="0.8"/>
<line x1="299.8" y1="306.34" x2="303.3" y2="306.34" stroke="#333" stroke-width="0.9"/>
<text x="298.6" y="309.64" font-size="9.2" text-anchor="end" fill="#231f20">2</text>
<line x1="301.3" y1="299.81" x2="303.3" y2="299.81" stroke="#333" stroke-width="0.8"/>
<line x1="299.8" y1="293.28" x2="303.3" y2="293.28" stroke="#333" stroke-width="0.9"/>
<text x="298.6" y="296.58" font-size="9.2" text-anchor="end" fill="#231f20">4</text>
<line x1="301.3" y1="286.75" x2="303.3" y2="286.75" stroke="#333" stroke-width="0.8"/>
<line x1="299.8" y1="280.21999999999997" x2="303.3" y2="280.21999999999997" stroke="#333" stroke-width="0.9"/>
<text x="298.6" y="283.52" font-size="9.2" text-anchor="end" fill="#231f20">6</text>
<line x1="301.3" y1="273.69" x2="303.3" y2="273.69" stroke="#333" stroke-width="0.8"/>
<line x1="299.8" y1="267.15999999999997" x2="303.3" y2="267.15999999999997" stroke="#333" stroke-width="0.9"/>
<text x="298.6" y="270.46" font-size="9.2" text-anchor="end" fill="#231f20">8</text>
<line x1="301.3" y1="260.63" x2="303.3" y2="260.63" stroke="#333" stroke-width="0.8"/>
<line x1="299.8" y1="254.09999999999997" x2="303.3" y2="254.09999999999997" stroke="#333" stroke-width="0.9"/>
<text x="298.6" y="257.4" font-size="9.2" text-anchor="end" fill="#231f20">10</text>
<line x1="301.3" y1="247.57" x2="303.3" y2="247.57" stroke="#333" stroke-width="0.8"/>
<line x1="299.8" y1="241.03999999999996" x2="303.3" y2="241.03999999999996" stroke="#333" stroke-width="0.9"/>
<text x="298.6" y="244.33999999999997" font-size="9.2" text-anchor="end" fill="#231f20">12</text>
<line x1="301.3" y1="234.51" x2="303.3" y2="234.51" stroke="#333" stroke-width="0.8"/>
<line x1="299.8" y1="227.97999999999996" x2="303.3" y2="227.97999999999996" stroke="#333" stroke-width="0.9"/>
<text x="298.6" y="231.27999999999997" font-size="9.2" text-anchor="end" fill="#231f20">14</text>
<line x1="301.3" y1="221.45" x2="303.3" y2="221.45" stroke="#333" stroke-width="0.8"/>
<line x1="299.8" y1="214.91999999999996" x2="303.3" y2="214.91999999999996" stroke="#333" stroke-width="0.9"/>
<text x="298.6" y="218.21999999999997" font-size="9.2" text-anchor="end" fill="#231f20">16</text>
<line x1="301.3" y1="208.39" x2="303.3" y2="208.39" stroke="#333" stroke-width="0.8"/>
<line x1="299.8" y1="201.85999999999996" x2="303.3" y2="201.85999999999996" stroke="#333" stroke-width="0.9"/>
<text x="298.6" y="205.15999999999997" font-size="9.2" text-anchor="end" fill="#231f20">18</text>
<line x1="306.08000000000004" y1="325.6" x2="306.08000000000004" y2="328.6" stroke="#333" stroke-width="0.9"/>
<text x="304.68000000000006" y="337.2" font-size="9.4" text-anchor="middle" fill="#231f20">-4</text>
<line x1="317.96000000000004" y1="325.6" x2="317.96000000000004" y2="328.6" stroke="#333" stroke-width="0.9"/>
<text x="316.56000000000006" y="337.2" font-size="9.4" text-anchor="middle" fill="#231f20">-3</text>
<line x1="329.84000000000003" y1="325.6" x2="329.84000000000003" y2="328.6" stroke="#333" stroke-width="0.9"/>
<text x="328.44000000000005" y="337.2" font-size="9.4" text-anchor="middle" fill="#231f20">-2</text>
<line x1="341.72" y1="325.6" x2="341.72" y2="328.6" stroke="#333" stroke-width="0.9"/>
<text x="340.32000000000005" y="337.2" font-size="9.4" text-anchor="middle" fill="#231f20">-1</text>
<line x1="353.6" y1="325.6" x2="353.6" y2="328.6" stroke="#333" stroke-width="0.9"/>
<text x="353.6" y="337.2" font-size="9.4" text-anchor="middle" fill="#231f20">0</text>
<line x1="365.48" y1="325.6" x2="365.48" y2="328.6" stroke="#333" stroke-width="0.9"/>
<text x="365.48" y="337.2" font-size="9.4" text-anchor="middle" fill="#231f20">1</text>
<line x1="377.36" y1="325.6" x2="377.36" y2="328.6" stroke="#333" stroke-width="0.9"/>
<text x="377.36" y="337.2" font-size="9.4" text-anchor="middle" fill="#231f20">2</text>
<line x1="389.24" y1="325.6" x2="389.24" y2="328.6" stroke="#333" stroke-width="0.9"/>
<text x="389.24" y="337.2" font-size="9.4" text-anchor="middle" fill="#231f20">3</text>
<line x1="401.12" y1="325.6" x2="401.12" y2="328.6" stroke="#333" stroke-width="0.9"/>
<text x="401.12" y="337.2" font-size="9.4" text-anchor="middle" fill="#231f20">4</text>
<line x1="413.0" y1="325.6" x2="413.0" y2="328.6" stroke="#333" stroke-width="0.9"/>
<text x="413.0" y="337.2" font-size="9.4" text-anchor="middle" fill="#231f20">5</text>
<line x1="424.88" y1="325.6" x2="424.88" y2="328.6" stroke="#333" stroke-width="0.9"/>
<text x="424.88" y="337.2" font-size="9.4" text-anchor="middle" fill="#231f20">6</text>
<line x1="436.76000000000005" y1="325.6" x2="436.76000000000005" y2="328.6" stroke="#333" stroke-width="0.9"/>
<text x="436.76000000000005" y="337.2" font-size="9.4" text-anchor="middle" fill="#231f20">7</text>
<text x="370.2" y="349.5" font-size="9.8" text-anchor="middle" fill="#231f20">log2-fold change in</text>
<text x="370.0" y="359.2" font-size="9.8" text-anchor="middle" fill="#231f20">gene expression</text>
<text x="285.0" y="252.7" font-size="9.8" text-anchor="middle" fill="#231f20" transform="rotate(-90 285.0 252.7)">-log10(adjusted p-value)</text>
<polygon points="326.0,313.3 325.7,315.7 327.0,315.8 327.7,316.4 328.7,317.0 329.1,316.9 330.5,317.7 331.3,317.8 332.0,318.8 332.7,319.1 334.1,318.7 334.3,319.2 335.9,319.3 336.2,319.5 337.0,319.6 338.2,320.0 338.9,320.0 339.8,320.4 340.9,320.2 342.2,320.7 343.1,320.6 344.3,321.2 344.7,321.0 346.2,321.4 347.3,321.3 348.2,321.6 348.8,321.6 350.1,321.9 350.8,321.7 351.5,321.6 353.0,321.8 353.5,321.9 354.7,322.0 355.4,321.8 356.4,322.0 357.3,321.7 358.2,321.4 358.8,321.8 360.3,321.7 360.8,321.3 361.8,321.8 362.9,321.4 363.9,321.1 364.6,321.6 365.5,321.1 366.2,321.1 367.6,320.7 368.4,321.2 369.4,321.0 370.2,320.8 371.0,320.7 371.5,320.9 372.8,320.3 373.6,320.4 374.4,320.2 375.5,320.3 376.4,320.1 376.9,319.9 378.0,320.0 379.3,320.1 380.2,320.0 380.8,319.9 382.0,319.3 382.5,319.1 383.9,319.2 384.4,319.3 385.5,318.8 386.3,319.0 387.3,318.7 388.6,318.8 389.3,318.7 390.0,318.5 391.2,318.2 391.9,318.6 393.1,318.0 394.1,318.3 394.7,317.7 395.7,318.0 396.6,317.9 397.9,317.7 398.5,317.8 399.9,317.4 400.4,317.4 401.4,317.2 402.3,317.1 403.0,316.8 404.6,317.0 405.1,316.9 406.0,316.9 407.2,316.4 407.8,316.0 409.3,315.8 410.2,316.3 411.0,315.5 412.3,315.9 413.1,315.4 413.9,315.1 414.8,315.1 416.0,314.5 416.7,314.5 417.9,314.1 419.0,313.8 419.0,313.3" fill="#858585"/>
<path d="M322.1,316.1h0M325.1,314.4h0M328.2,315.0h0M322.7,313.3h0M326.1,313.7h0M322.7,313.4h0M330.0,317.5h0M326.4,313.4h0M325.2,314.0h0M324.0,314.1h0M321.7,316.0h0M325.7,314.4h0M322.3,313.5h0M322.7,314.4h0M329.7,317.7h0M327.7,316.1h0M321.7,315.9h0M322.4,318.6h0M324.4,314.4h0M324.2,315.8h0M320.8,313.7h0M329.9,314.9h0M325.7,314.4h0M326.3,315.6h0M322.2,313.7h0M329.3,314.6h0M323.4,313.3h0M328.2,315.2h0M327.0,317.2h0M329.6,315.9h0M329.6,316.7h0M325.2,313.9h0M328.8,313.4h0M328.2,315.7h0M328.5,313.4h0M323.3,313.8h0M321.2,315.3h0M329.8,315.6h0M322.9,316.6h0M327.4,313.3h0M328.5,317.9h0M326.2,314.9h0M328.6,314.4h0M323.1,313.4h0M327.0,313.4h0M419.1,314.8h0M422.2,314.5h0M415.1,313.9h0M423.5,315.7h0M413.6,312.8h0M413.1,312.6h0M417.4,313.0h0M422.4,314.8h0M413.5,314.4h0M415.9,314.2h0M414.6,313.1h0M414.2,313.8h0M420.5,314.4h0M412.6,315.0h0M422.5,315.2h0M421.5,312.5h0M417.6,312.7h0M421.2,313.1h0M420.5,313.4h0M420.4,313.6h0M412.5,313.9h0M415.7,315.7h0M415.5,314.3h0M418.6,315.8h0M413.2,314.6h0M418.1,315.1h0M423.6,313.6h0M420.4,314.3h0M418.7,312.7h0M421.8,315.9h0M416.3,313.6h0M423.9,312.9h0M412.9,312.8h0M421.8,315.2h0M417.4,314.7h0M412.2,314.8h0M417.3,314.3h0M416.7,313.9h0M414.7,312.7h0M417.2,313.4h0M420.5,315.4h0M420.7,314.1h0M414.8,313.8h0M417.8,314.7h0M423.6,312.8h0M417.8,314.2h0M420.6,315.6h0M421.4,314.7h0M421.1,314.8h0M422.3,314.9h0" stroke="#8a8a8a" stroke-width="1.50" stroke-linecap="square" fill="none"/>
<polygon points="342.6,313.3 342.9,281.1 340.8,280.3 341.0,281.5 340.0,281.6 339.1,282.6 338.4,282.9 337.6,284.0 337.3,285.7 337.1,285.9 335.9,286.4 334.9,287.0 335.0,288.2 334.3,290.0 334.0,290.6 333.1,290.8 332.8,292.0 332.7,294.1 332.6,293.9 332.6,295.7 332.0,296.7 331.7,297.5 330.8,298.7 331.4,298.5 330.9,300.3 330.2,301.0 330.0,302.6 329.8,303.5 329.3,304.5 329.8,304.9 329.1,306.6 329.1,307.0 328.1,307.8 328.5,308.5 328.6,309.7 328.2,310.8 328.0,312.5 327.0,313.3 342.6,313.3" fill="#1e8a3e"/>
<path d="M339.7,293.5h0M334.2,298.2h0M320.0,305.4h0M339.5,285.9h0M336.2,284.9h0M336.2,289.1h0M338.5,297.8h0M340.5,284.4h0M334.9,288.4h0M335.7,290.9h0M339.6,291.2h0M338.9,283.2h0M329.1,296.6h0M332.4,294.3h0M338.6,285.0h0M334.8,280.6h0M335.5,289.8h0M333.2,291.5h0M332.9,291.3h0M332.6,293.3h0M339.0,292.7h0M339.2,293.5h0M338.0,281.8h0M339.1,288.1h0M339.9,287.8h0M328.1,294.3h0M339.3,295.6h0M341.8,276.7h0M329.2,302.3h0M335.8,296.3h0M338.9,286.6h0M338.9,291.5h0M339.5,290.2h0M339.9,284.6h0M340.1,289.4h0M337.4,283.2h0M328.2,299.6h0M332.4,299.4h0M339.0,295.6h0M341.5,284.9h0M331.7,294.7h0M339.8,281.0h0M333.9,297.4h0M339.7,291.7h0M334.4,299.9h0M334.7,302.1h0M329.7,293.3h0M335.8,292.3h0M341.6,277.5h0M333.6,301.3h0M334.9,283.5h0M340.0,288.8h0M340.0,287.4h0M337.9,292.5h0M339.4,282.5h0M333.3,289.4h0M339.4,282.9h0M333.8,301.1h0M338.2,288.5h0M332.5,300.6h0M341.9,278.4h0M335.4,294.0h0M341.1,283.1h0M328.4,304.1h0M338.0,289.5h0M334.7,295.0h0M330.9,302.4h0M318.9,305.8h0M340.3,287.6h0M339.5,288.7h0M337.9,287.9h0M333.9,295.4h0M336.7,290.1h0M338.0,294.3h0M337.4,280.2h0M332.9,286.1h0M338.2,282.0h0M339.1,290.9h0M340.5,282.6h0M330.2,298.3h0M339.4,289.6h0M338.7,284.7h0M331.2,297.6h0M330.9,297.7h0M330.1,302.9h0M333.7,302.7h0M334.5,294.7h0M337.4,294.1h0M336.5,291.2h0M339.8,276.6h0M336.9,286.6h0M333.5,289.6h0M337.5,297.2h0M338.9,284.2h0M337.4,287.6h0M331.7,291.1h0M334.9,287.8h0M331.5,292.7h0M339.1,280.6h0M341.5,277.0h0M339.2,290.5h0M331.0,293.6h0M339.9,292.6h0M333.8,285.8h0M326.2,311.0h0M337.8,297.5h0M325.0,307.7h0M340.3,280.1h0M336.0,292.2h0M331.6,289.6h0M341.2,284.3h0M338.7,280.3h0M340.7,289.6h0M336.9,291.1h0M336.8,293.6h0M336.1,292.4h0M338.7,289.5h0M339.7,282.6h0M335.2,289.6h0M336.9,298.5h0M336.2,285.9h0M337.2,293.3h0M334.8,292.7h0M330.2,300.7h0M335.4,300.8h0M339.6,291.2h0M340.4,290.0h0M337.9,297.5h0M338.6,295.0h0M338.3,290.5h0M341.2,289.6h0M332.6,299.0h0M331.0,299.7h0M333.3,300.6h0M332.0,294.7h0M336.9,285.9h0M338.7,290.9h0M341.8,288.4h0M335.1,290.1h0M330.8,298.1h0M332.6,289.8h0M335.2,295.6h0M336.3,296.0h0M337.5,292.2h0M337.4,296.5h0M335.6,295.4h0M339.6,276.6h0M339.6,286.4h0M341.6,291.3h0M337.5,289.3h0M333.5,293.5h0M335.8,283.7h0M336.2,289.8h0M340.4,289.6h0M334.4,295.0h0M341.8,281.5h0M328.0,308.6h0M325.2,309.1h0M330.8,304.0h0M338.0,294.2h0M329.9,290.8h0M340.1,291.1h0M337.3,283.7h0M338.0,279.9h0M340.5,289.2h0M340.2,295.1h0M334.1,297.5h0M335.3,290.3h0M330.4,295.2h0M338.2,281.9h0M327.0,297.8h0M336.5,289.2h0M336.4,285.1h0M339.6,284.3h0M340.4,284.5h0M338.3,286.9h0M329.3,304.8h0M337.9,291.0h0M329.8,303.2h0M336.7,295.1h0M332.9,303.8h0M332.0,293.1h0M342.0,283.8h0M341.9,289.6h0M335.4,285.9h0M336.7,279.8h0M330.7,300.3h0M323.3,311.3h0M341.4,283.0h0M337.5,284.4h0M339.2,280.3h0M340.1,281.9h0M330.8,296.6h0M331.8,294.3h0M328.4,293.9h0M337.3,288.2h0M339.7,292.3h0M336.7,288.9h0M335.2,286.0h0M341.4,287.1h0M340.0,278.3h0M328.0,302.7h0M335.5,286.7h0M330.9,296.4h0M337.6,287.9h0M332.8,295.4h0M326.2,299.3h0M339.6,288.3h0M340.4,285.4h0M336.5,293.9h0M329.3,300.9h0M331.6,295.9h0M341.8,277.2h0M342.0,283.7h0M340.5,286.2h0M334.3,294.6h0M331.9,294.0h0M340.5,292.5h0M340.5,286.0h0M340.2,281.7h0M338.7,286.6h0M337.0,297.5h0M338.0,289.1h0M339.0,281.7h0M323.9,301.0h0M340.3,289.4h0M334.0,300.1h0M335.4,291.3h0M341.2,276.5h0M325.5,301.3h0M335.6,298.4h0M333.3,303.6h0M341.9,289.6h0M326.1,307.6h0M334.2,293.2h0M341.2,281.2h0M341.7,288.0h0M332.0,297.2h0M336.5,287.2h0M336.8,299.2h0M331.9,301.9h0M341.7,281.6h0M337.9,289.1h0M341.0,288.5h0M328.3,297.8h0M336.5,295.4h0M337.9,285.2h0M340.7,277.3h0M341.8,287.5h0M335.2,287.4h0M336.3,298.8h0M335.0,297.2h0M336.2,297.0h0M339.4,281.7h0M329.0,299.1h0M331.4,305.1h0M341.6,278.2h0M337.3,291.7h0M330.4,289.8h0M338.2,250.2h0M340.5,267.8h0M316.8,277.0h0M322.7,278.9h0M329.8,277.6h0M320.3,288.7h0M315.6,300.5h0M320.3,302.4h0M310.8,310.3h0M307.3,311.6h0M325.1,295.9h0M327.5,285.4h0M334.6,272.4h0M337.0,274.3h0M313.8,299.8h0M318.0,307.0h0M322.1,304.1h0M316.9,311.4h0M314.7,300.4h0M312.8,306.8h0M324.5,299.8h0M329.5,306.7h0M315.8,311.8h0M328.2,301.3h0M328.4,298.2h0M318.6,303.0h0M330.1,301.0h0M319.3,299.5h0M327.6,299.1h0M328.1,301.7h0M322.4,310.7h0M317.1,304.9h0M324.1,305.7h0M319.7,306.9h0M318.0,298.6h0M312.2,306.2h0M322.9,309.4h0M315.0,307.3h0M320.6,304.8h0M327.8,304.7h0M320.3,306.8h0M314.8,310.7h0M321.8,296.7h0M321.1,311.9h0M330.6,303.2h0M317.0,311.7h0M317.4,296.3h0M316.7,303.9h0M324.8,297.1h0M318.4,308.2h0M318.5,299.0h0M325.5,303.3h0M325.2,304.1h0M327.4,304.6h0M330.5,309.7h0M325.7,304.2h0M323.6,302.3h0M313.5,310.9h0M327.3,308.9h0M328.3,305.3h0M330.9,304.0h0" stroke="#1e8a3e" stroke-width="1.50" stroke-linecap="square" fill="none"/>
<polygon points="365.0,313.3 364.8,285.1 365.8,285.7 367.0,285.5 366.8,287.3 368.0,286.9 370.0,287.9 370.5,288.5 371.1,288.4 371.9,290.1 372.5,290.4 373.6,289.8 374.6,291.1 374.7,290.7 376.4,292.0 377.0,293.1 377.8,293.7 378.2,294.0 379.1,294.7 380.6,293.9 380.3,294.5 382.4,295.4 382.7,295.7 383.3,296.3 383.9,297.1 385.1,298.1 386.1,298.7 387.2,299.3 387.8,298.5 388.9,300.2 389.8,300.1 390.3,300.0 391.4,301.1 391.3,300.8 393.1,302.8 392.7,303.0 394.0,302.4 394.7,303.9 396.4,303.3 396.8,303.8 397.8,304.7 398.9,306.3 399.2,306.8 399.7,305.8 401.0,306.4 401.1,307.6 402.6,307.7 402.5,309.5 403.7,310.2 405.2,310.1 405.1,311.1 406.0,311.9 406.5,312.7 407.0,313.3 365.0,313.3" fill="#e8211d"/>
<path d="M373.0,289.8h0M383.2,286.3h0M374.9,280.2h0M369.9,279.4h0M380.3,277.3h0M368.5,286.2h0M365.5,285.1h0M368.4,282.9h0M366.3,280.2h0M366.7,282.6h0M373.1,275.6h0M371.8,287.9h0M379.7,287.2h0M370.8,286.3h0M373.0,289.8h0M382.4,287.8h0M373.0,286.9h0M381.3,273.6h0M375.9,275.1h0M399.6,272.9h0M390.3,293.7h0M383.9,280.6h0M375.2,278.3h0M405.4,281.4h0M367.3,282.5h0M373.2,282.0h0M389.3,288.6h0M366.8,274.4h0M380.8,292.2h0M378.0,284.5h0M375.2,290.9h0M387.1,288.9h0M372.7,289.1h0M386.0,281.5h0M382.9,282.0h0M373.4,289.7h0M375.7,285.1h0M397.2,302.1h0M391.8,284.8h0M390.1,283.3h0M379.1,282.9h0M400.0,295.6h0M370.1,274.7h0M371.8,281.2h0M373.6,289.1h0M372.8,284.8h0M366.5,281.1h0M387.4,290.9h0M374.3,289.4h0M388.4,294.5h0M397.4,277.2h0M378.3,284.8h0M369.3,279.0h0M371.5,270.5h0M381.6,290.9h0M383.1,289.0h0M375.1,281.1h0M380.3,291.1h0M395.1,295.0h0M383.1,291.5h0M374.0,284.2h0M377.2,290.7h0M382.8,286.9h0M387.3,279.3h0M381.2,263.8h0M370.2,264.9h0M382.4,292.3h0M406.4,303.8h0M398.3,298.8h0M368.3,282.8h0M373.4,276.2h0M367.4,283.3h0M427.2,312.1h0M368.2,284.9h0M373.7,289.7h0M374.6,279.8h0M398.4,286.2h0M374.7,286.3h0M371.3,276.3h0M381.8,291.7h0M398.7,284.3h0M405.5,301.6h0M375.3,290.9h0M400.5,302.5h0M365.7,274.3h0M415.5,305.3h0M374.9,289.5h0M377.0,271.0h0M369.5,283.3h0M383.1,293.9h0M368.8,275.5h0M379.1,284.3h0M389.1,297.2h0M376.9,284.0h0M374.8,281.6h0M376.6,284.9h0M368.3,276.3h0M389.9,296.4h0M366.6,280.3h0M382.4,285.3h0M367.2,285.6h0M372.1,285.9h0M394.2,273.5h0M369.0,280.5h0M376.9,281.3h0M375.8,291.3h0M366.6,266.5h0M370.0,274.5h0M365.4,284.9h0M396.9,300.9h0M390.8,291.9h0M373.9,289.9h0M374.3,290.3h0M367.6,284.5h0M386.5,297.2h0M368.2,280.7h0M369.4,287.2h0M403.1,281.2h0M394.8,299.3h0M389.6,295.9h0M383.3,266.8h0M372.2,280.4h0M403.9,296.7h0M386.8,278.9h0M383.3,286.6h0M390.2,297.3h0M377.4,288.7h0M373.4,284.9h0M391.1,291.3h0M392.8,292.6h0M400.6,287.1h0M366.1,274.7h0M395.1,293.1h0M381.5,285.3h0M390.8,296.1h0M367.9,275.3h0M374.1,290.5h0M414.1,306.4h0M372.7,288.8h0M414.1,312.5h0M397.1,304.6h0M367.1,281.9h0M373.9,287.4h0M384.0,288.9h0M373.6,276.6h0M378.8,292.5h0M367.1,285.9h0M370.3,281.2h0M386.2,288.9h0M378.1,291.5h0M388.6,281.3h0M389.9,296.5h0M401.2,294.5h0M374.0,282.9h0M379.2,288.0h0M374.7,279.4h0M392.1,282.6h0M365.7,279.2h0M369.4,284.6h0M371.0,284.2h0M375.7,274.5h0M396.3,284.8h0M394.1,292.8h0M366.5,278.3h0M390.8,296.5h0M368.7,286.7h0M395.6,291.7h0M405.1,306.8h0M385.6,268.9h0M390.8,298.0h0M381.4,277.1h0M383.4,290.2h0M368.8,280.6h0M378.2,273.3h0M391.6,286.0h0M375.0,283.7h0M393.8,288.4h0M376.8,290.6h0M386.1,296.2h0M372.6,289.9h0M365.5,278.1h0M370.7,280.2h0M378.7,279.2h0M374.5,287.7h0M383.2,292.0h0M371.4,288.0h0M383.0,284.0h0M366.8,276.1h0M388.4,295.4h0M371.3,287.1h0M407.2,301.8h0M382.5,288.4h0M370.8,283.1h0M391.3,287.5h0M376.8,289.9h0M425.2,301.3h0M385.7,271.2h0M371.8,289.1h0M368.3,287.3h0M380.7,292.8h0M402.3,299.8h0M394.2,293.4h0M376.9,283.3h0M368.4,276.9h0M380.2,274.9h0M391.6,280.5h0M379.4,275.6h0M385.6,285.8h0M390.8,295.9h0M411.1,292.3h0M399.8,301.3h0M366.7,282.2h0M373.0,286.8h0M387.8,293.6h0M379.5,291.3h0M386.2,271.7h0M372.6,288.6h0M396.8,280.7h0M376.7,291.1h0M377.9,278.1h0M372.6,287.4h0M378.7,281.9h0M390.5,284.0h0M388.5,279.0h0M369.6,279.2h0M387.9,288.4h0M397.0,284.1h0M386.6,293.3h0M367.6,285.2h0M365.8,283.2h0M366.4,279.5h0M371.4,274.1h0M377.3,292.7h0M394.0,291.6h0M376.4,290.1h0M380.7,277.7h0M382.9,292.7h0M378.4,285.5h0M374.8,283.4h0M382.4,293.0h0M397.9,301.9h0M396.5,291.4h0M383.7,290.9h0M381.5,285.5h0M370.5,283.1h0M368.1,283.9h0M386.1,294.4h0M393.5,301.4h0M376.4,288.9h0M392.6,294.8h0M387.4,292.1h0M368.4,285.8h0M374.9,274.4h0M379.5,281.2h0M381.9,290.5h0M378.9,286.3h0M390.9,285.6h0M373.6,289.1h0M389.0,274.3h0M367.5,274.3h0M374.7,275.6h0M380.5,273.7h0M372.9,287.6h0M372.4,277.5h0M386.9,293.7h0M374.6,281.4h0M392.6,294.9h0M390.8,283.2h0M377.8,291.6h0M384.2,283.2h0M376.8,282.9h0M380.1,283.1h0M392.7,285.0h0M366.8,280.1h0M378.3,273.6h0M406.4,297.0h0M368.2,286.8h0M384.6,279.2h0M392.9,291.8h0M397.3,296.6h0M371.9,289.1h0M368.3,284.7h0M396.1,293.7h0M392.7,290.3h0M388.7,295.3h0M376.4,291.4h0M370.4,286.9h0M375.0,280.3h0M371.6,284.2h0M383.3,290.2h0M376.1,282.5h0M373.8,275.5h0M376.5,275.0h0M371.1,289.2h0M372.8,283.2h0M378.7,281.4h0M381.0,295.0h0M380.7,279.4h0M394.8,302.9h0M383.9,283.4h0M372.5,278.3h0M390.5,282.9h0M394.8,300.8h0M382.9,277.7h0M376.5,289.5h0M390.4,284.9h0M380.8,291.8h0M380.4,260.5h0M381.2,292.9h0M383.7,295.8h0M380.3,284.1h0M370.4,278.0h0M376.8,280.9h0M378.1,292.9h0M368.0,283.9h0M369.6,280.6h0M370.5,275.3h0M397.0,303.1h0M407.8,304.6h0M378.5,292.3h0M366.5,279.6h0M382.0,291.1h0M367.2,273.4h0M373.6,287.9h0M377.4,280.4h0M389.0,299.4h0M366.5,274.0h0M394.1,282.3h0M383.1,295.1h0M379.7,294.1h0M379.0,278.7h0M369.1,287.1h0M378.4,287.7h0M369.1,287.1h0M391.3,286.9h0M378.9,281.6h0M369.4,274.7h0M367.0,279.6h0M370.2,284.0h0M407.8,286.7h0M409.0,294.1h0M376.5,276.4h0M387.3,287.5h0M372.3,278.7h0M404.5,301.6h0M367.2,285.8h0M385.3,290.7h0M370.1,285.3h0M386.0,284.9h0M379.2,288.9h0M371.0,288.9h0M377.1,287.5h0M379.5,290.4h0M371.1,277.3h0M387.9,294.8h0M379.5,283.6h0M376.9,288.2h0M389.8,287.8h0M373.1,272.2h0M373.3,279.9h0M387.7,288.7h0M368.2,278.4h0M371.6,273.5h0M389.2,283.0h0M377.3,274.3h0M380.5,293.1h0M373.1,280.5h0M385.0,293.6h0M368.2,283.8h0M369.9,264.7h0M375.2,282.1h0M381.6,290.1h0M378.9,290.6h0M386.0,281.9h0M388.0,294.2h0M388.0,284.8h0M387.4,276.0h0M397.7,287.5h0M367.1,282.0h0M388.8,290.9h0M385.7,287.0h0M397.6,300.5h0M370.5,283.8h0M372.7,283.7h0M392.3,283.3h0M380.2,294.4h0M389.4,293.9h0M385.7,295.7h0M371.7,286.5h0M378.5,284.0h0M389.7,290.3h0M367.2,283.9h0M369.3,277.5h0M366.2,273.7h0M370.7,286.4h0M382.6,282.7h0M365.9,281.7h0M395.3,282.5h0M367.2,265.5h0M375.2,291.4h0M373.8,280.5h0M382.0,287.5h0M371.2,282.3h0M371.3,282.5h0M368.4,283.9h0M369.6,286.2h0M368.9,286.7h0M372.1,280.1h0M380.8,288.9h0M381.3,279.5h0M388.6,285.0h0M385.9,289.0h0M375.1,289.0h0M388.0,297.3h0M414.7,295.7h0M385.1,275.5h0M373.4,288.9h0M376.6,289.9h0M387.0,298.3h0M371.1,268.1h0M400.3,294.9h0M375.4,289.5h0M383.8,290.6h0M374.9,290.4h0M378.3,293.0h0M375.8,287.8h0M378.7,280.8h0M391.0,292.7h0M419.1,290.1h0M393.3,297.5h0M373.6,281.2h0M371.1,288.4h0M372.2,286.0h0M370.7,285.4h0M382.6,286.2h0M374.5,290.2h0M384.2,296.7h0M370.2,285.0h0M369.3,270.7h0M386.1,283.5h0M391.7,286.7h0M370.5,269.0h0M405.1,287.0h0M388.3,290.9h0M370.5,283.9h0M393.4,297.1h0M367.2,280.0h0M377.0,292.4h0M366.9,280.1h0M394.6,290.8h0M382.5,281.0h0M405.2,299.4h0M388.6,295.6h0M382.9,294.9h0M371.1,275.2h0M391.3,297.3h0M380.5,276.2h0M395.4,292.7h0M412.6,303.1h0M366.9,259.4h0M392.9,300.3h0M390.9,289.1h0M385.7,294.9h0M380.1,270.4h0M367.9,279.9h0M382.5,295.6h0M381.4,285.2h0M370.5,278.5h0M368.5,277.4h0M374.9,274.9h0M405.3,297.3h0M368.9,271.3h0M374.7,278.0h0M407.9,310.9h0M406.6,300.0h0M379.4,287.9h0M385.6,284.3h0M381.4,292.9h0M376.7,282.3h0M373.0,279.4h0M368.0,285.8h0M369.7,276.8h0M378.6,281.5h0M367.5,276.8h0M392.9,291.2h0M390.0,300.0h0M370.5,281.4h0M369.8,277.3h0M371.5,289.3h0M407.9,312.7h0M381.0,284.9h0M370.9,280.1h0M397.1,294.4h0M390.6,296.8h0M404.4,285.7h0M373.2,278.1h0M368.1,272.9h0M370.0,287.0h0M366.8,283.7h0M372.6,281.6h0M377.8,272.2h0M388.1,294.3h0M367.5,284.9h0M379.7,285.8h0M380.9,292.2h0M367.2,281.7h0M372.1,281.0h0M384.9,278.6h0M379.3,277.0h0M367.4,282.4h0M377.4,272.5h0M382.2,283.8h0M395.0,292.0h0M371.1,271.5h0M385.2,283.8h0M387.7,288.6h0M372.9,289.2h0M414.0,305.0h0M371.0,280.6h0M370.4,279.8h0M385.8,292.3h0M366.3,275.0h0M381.2,290.9h0M365.5,265.0h0M373.7,273.5h0M412.4,292.1h0M365.5,284.9h0M367.4,273.0h0M396.8,286.6h0M373.4,278.3h0M380.3,287.3h0M371.7,282.1h0M368.4,276.4h0M392.8,299.7h0M374.1,289.0h0M392.4,290.3h0M370.4,276.5h0M393.6,301.8h0M377.6,284.9h0M400.4,287.9h0M376.6,282.8h0M367.2,278.8h0M366.6,285.7h0M394.8,294.6h0M385.5,290.3h0M391.2,300.0h0M366.1,276.9h0M374.8,285.5h0M372.0,287.8h0M373.7,281.5h0M387.7,284.0h0M372.6,281.1h0M373.8,281.4h0M390.4,284.3h0M372.2,280.8h0M376.8,281.9h0M387.2,277.7h0M368.4,284.5h0M384.9,292.0h0M368.6,277.5h0M375.4,290.7h0M380.7,288.1h0M373.7,285.4h0M395.3,290.8h0M390.7,297.5h0M393.3,295.7h0M366.2,284.5h0M386.9,295.8h0M394.3,296.9h0M366.5,277.2h0M369.7,286.7h0M367.5,272.8h0M372.8,279.6h0M382.5,290.5h0M373.5,290.5h0M371.4,283.1h0M366.3,281.8h0M388.9,279.8h0M381.3,290.9h0M388.5,299.5h0M390.0,289.0h0M368.7,286.8h0M366.5,284.6h0M385.9,270.5h0M391.5,293.2h0M411.5,296.9h0M377.6,281.2h0M375.7,282.1h0M372.0,272.9h0M372.8,283.4h0M367.5,285.3h0M382.2,272.4h0M371.7,283.8h0M384.4,284.6h0M397.9,266.3h0M394.9,296.0h0M394.2,291.9h0M386.9,293.2h0M368.4,287.1h0M392.5,300.0h0M371.8,264.2h0M400.5,295.7h0M372.7,288.4h0M377.7,280.3h0M384.0,292.0h0M406.8,303.7h0M366.3,275.5h0M376.7,290.9h0M401.4,299.8h0M382.4,284.8h0M417.6,300.1h0M379.0,283.5h0M383.4,279.3h0M366.4,273.0h0M372.4,273.6h0M381.9,269.1h0M373.5,279.1h0M388.1,292.9h0M365.8,283.4h0M380.5,292.1h0M378.1,292.1h0M379.5,265.4h0M388.0,285.8h0M370.5,285.6h0M372.7,280.2h0M366.5,284.2h0M390.9,300.6h0M370.7,273.8h0M368.3,283.0h0M368.6,285.0h0M392.7,289.8h0M372.4,282.8h0M372.2,283.8h0M389.9,283.9h0M385.7,286.4h0M367.8,286.1h0M368.9,286.4h0M369.3,283.5h0M377.7,291.3h0M367.1,277.4h0M386.2,290.9h0M395.5,298.5h0M365.8,278.6h0M388.0,286.8h0M388.9,296.8h0M378.5,287.5h0M380.5,291.0h0M380.9,294.8h0M367.3,284.5h0M397.8,291.6h0M393.2,276.3h0M365.8,276.8h0M381.5,288.0h0M379.7,277.6h0M375.0,287.0h0M403.1,307.2h0M395.0,293.7h0M403.5,306.0h0M373.0,287.7h0M384.7,291.2h0M368.3,286.2h0M375.7,283.7h0M408.0,281.8h0M380.0,290.0h0M376.5,284.3h0M381.7,284.6h0M392.8,297.4h0M388.7,293.8h0M365.4,282.0h0M379.0,283.7h0M384.6,281.1h0M370.3,282.9h0M380.8,289.5h0M370.8,283.0h0M391.7,288.8h0M382.1,293.4h0M376.0,284.4h0M397.7,300.9h0M388.8,299.6h0M397.3,304.7h0M379.5,292.4h0M376.9,274.0h0M372.0,270.5h0M376.8,290.0h0M394.8,284.3h0M382.7,294.9h0M366.2,275.5h0M389.2,294.1h0M372.9,287.1h0M375.6,266.2h0M388.6,288.0h0M378.8,272.9h0M374.0,280.8h0M371.4,284.5h0M412.1,301.2h0M381.5,288.4h0M384.6,291.3h0M366.4,281.5h0M384.7,294.4h0M401.5,301.1h0M369.8,280.3h0M368.3,287.2h0M366.4,284.3h0M372.4,276.2h0M377.4,279.6h0M368.5,278.0h0M374.6,284.8h0M388.9,296.4h0M386.8,282.2h0M369.6,279.8h0M368.8,267.7h0M392.5,293.0h0M383.5,294.1h0M386.9,282.1h0M393.3,290.0h0M399.8,295.6h0M394.4,301.9h0M387.0,290.7h0M382.7,291.3h0M366.9,284.5h0M393.3,287.1h0M366.8,284.5h0M370.3,275.7h0M385.4,286.5h0M374.0,287.8h0M376.5,277.9h0M380.3,286.9h0M368.6,282.8h0M379.8,290.8h0M385.0,290.7h0M382.0,295.5h0M368.2,283.0h0M375.9,289.3h0M369.4,280.8h0M373.8,271.1h0M382.8,284.2h0M369.1,286.4h0M389.4,274.7h0M396.1,285.1h0M386.3,285.2h0M379.5,293.8h0M378.1,265.1h0M365.8,280.2h0M372.6,282.1h0M375.8,286.5h0M368.6,275.0h0M391.2,294.1h0M378.6,290.9h0M367.4,283.0h0M391.8,292.5h0M366.0,285.0h0M402.0,302.9h0M374.5,286.2h0M375.1,270.6h0M376.7,290.3h0M380.2,277.9h0M367.5,276.1h0M374.8,282.8h0M378.1,281.5h0M393.1,282.4h0M389.7,291.3h0M383.1,294.1h0M386.5,296.0h0M393.1,298.8h0M394.1,296.2h0M379.8,291.4h0M372.5,286.3h0M385.0,290.8h0M369.5,285.8h0M383.5,284.8h0M368.4,276.9h0M385.0,290.3h0M377.1,271.0h0M372.4,272.3h0M375.1,284.9h0M371.1,287.1h0M369.4,273.3h0M388.8,296.0h0M405.6,291.4h0M369.8,270.6h0M372.5,281.5h0M365.8,282.1h0M370.9,287.4h0M368.7,279.2h0M381.0,286.4h0M374.6,282.9h0M398.9,301.2h0M394.2,296.7h0M405.0,305.2h0M371.7,271.0h0M377.7,289.7h0M384.0,282.4h0M372.0,284.0h0M386.4,296.8h0M387.5,297.3h0M367.2,281.5h0M372.8,280.2h0M369.1,278.0h0M386.7,278.0h0M368.4,266.4h0M366.5,277.1h0M384.7,275.4h0M409.1,299.2h0M380.7,277.8h0M376.2,288.7h0M393.3,300.9h0M379.4,287.5h0M369.2,281.6h0M378.7,293.1h0M379.5,290.7h0M380.2,293.4h0M404.1,297.1h0M380.9,279.0h0M387.8,293.7h0M369.3,281.9h0M371.7,285.3h0M381.0,292.5h0M373.7,282.3h0M379.7,282.8h0M382.3,289.6h0M373.9,288.3h0M375.4,284.6h0M373.9,269.9h0M373.2,288.1h0M379.1,286.4h0M384.7,287.1h0M405.8,311.2h0M375.9,274.0h0M373.5,284.2h0M376.3,291.7h0M402.7,303.2h0M379.0,292.3h0M393.8,291.1h0M386.9,291.9h0M373.9,278.9h0M378.4,293.5h0M396.7,289.2h0M373.1,270.6h0M366.5,285.7h0M409.2,290.3h0M377.4,278.2h0M404.1,302.0h0M382.0,283.9h0M365.6,273.2h0M374.1,286.7h0M392.5,299.0h0M369.4,286.3h0M367.6,282.2h0M372.5,286.6h0M375.6,272.5h0M370.0,281.0h0M371.4,286.4h0M367.9,283.8h0M403.5,276.1h0M381.9,277.2h0M375.7,289.8h0M387.6,294.5h0M391.4,284.4h0M387.8,283.5h0M383.1,287.8h0M369.1,279.5h0M377.2,284.8h0M370.8,280.6h0M383.2,293.8h0M386.6,291.2h0M367.8,276.4h0M375.7,290.8h0M379.9,292.1h0M375.8,287.3h0M381.6,280.7h0M386.1,294.2h0M397.7,293.2h0M386.2,282.6h0M370.5,284.5h0M379.4,279.2h0M379.9,294.1h0M378.2,269.4h0M393.9,299.1h0M376.5,286.4h0M375.0,287.5h0M378.7,286.9h0M379.5,284.3h0M388.0,297.6h0M365.3,270.3h0M369.7,284.3h0M376.9,285.2h0M391.1,292.0h0M376.0,287.9h0M367.0,268.3h0M367.5,274.9h0M379.1,291.4h0M371.8,289.5h0M378.5,290.5h0M398.6,290.4h0M375.0,288.2h0M375.6,268.9h0M379.3,291.2h0M367.0,277.7h0M385.6,296.5h0M389.3,291.5h0M383.1,295.9h0M371.4,283.9h0M366.6,279.6h0M383.7,287.3h0M380.3,291.6h0M377.5,286.0h0M376.5,291.4h0M375.7,277.3h0M372.2,280.0h0M368.3,285.9h0M389.6,283.4h0M382.4,286.8h0M377.0,275.6h0M373.2,287.8h0M383.3,284.3h0M369.4,287.2h0M402.1,294.5h0M392.8,297.1h0M387.0,281.5h0M393.1,297.6h0M368.4,281.0h0M395.1,302.0h0M370.2,284.5h0M396.3,287.2h0M381.4,287.0h0M367.2,278.9h0M384.8,286.9h0M366.3,282.8h0M365.5,284.5h0M371.9,284.3h0M369.3,279.2h0M366.6,272.8h0M379.8,289.9h0M411.6,304.0h0M397.3,295.7h0M378.8,277.6h0M365.5,280.1h0M368.8,281.2h0M385.1,297.0h0M400.7,286.7h0M366.6,282.5h0M367.3,279.9h0M379.3,290.9h0M382.8,284.2h0M372.6,281.6h0M373.9,276.6h0M368.0,283.9h0M402.1,306.2h0M381.6,289.1h0M371.2,287.5h0M393.1,289.8h0M405.1,303.4h0M369.1,286.3h0M376.7,282.2h0M375.3,286.4h0M388.0,275.9h0M387.9,270.2h0M392.7,293.7h0M367.5,280.1h0M390.2,277.9h0M379.1,288.9h0M367.5,274.1h0M373.5,270.8h0M423.7,306.8h0M384.0,282.6h0M390.1,294.8h0M394.4,291.4h0M382.2,295.0h0M368.4,278.6h0M368.5,275.5h0M424.8,309.0h0M366.9,276.8h0M381.0,290.9h0M377.1,289.6h0M379.4,285.5h0M389.7,295.4h0M367.2,266.8h0M365.8,283.4h0M368.6,283.7h0M374.8,273.8h0M384.5,276.5h0M389.6,297.2h0M378.8,290.0h0M376.5,290.6h0M377.3,290.1h0M369.4,277.3h0M397.2,298.0h0M373.6,288.7h0M402.9,308.6h0M370.9,286.0h0M369.3,286.1h0M396.8,298.5h0M376.0,270.0h0M376.5,284.3h0M382.7,291.4h0M394.1,301.3h0M379.3,284.5h0M365.6,283.3h0M377.2,288.4h0M376.0,276.5h0M383.1,295.9h0M390.5,290.4h0M381.5,293.7h0M385.9,289.6h0M391.6,298.3h0M369.6,283.8h0M367.9,281.1h0M376.5,276.3h0M377.5,286.8h0M381.5,280.1h0M388.6,288.4h0M366.4,275.8h0M377.0,287.0h0M380.8,285.8h0M375.8,280.8h0M366.8,268.0h0M369.3,278.1h0M382.0,284.2h0M376.4,275.6h0M376.3,282.5h0M370.7,278.7h0M377.1,283.4h0M371.3,285.1h0M371.4,288.3h0M396.8,303.1h0M378.3,288.4h0M367.8,277.0h0M366.7,280.5h0M395.6,301.2h0M369.0,285.0h0M368.4,286.8h0M394.4,300.4h0M369.1,267.8h0M411.4,310.3h0M377.8,292.1h0M394.9,294.2h0M369.0,278.4h0M383.2,286.0h0M375.5,279.3h0M369.9,285.8h0M374.1,281.1h0M374.7,291.3h0M365.9,265.3h0M381.9,293.4h0M400.8,293.8h0M369.8,280.2h0M369.4,280.5h0M393.6,282.5h0M399.7,282.4h0M381.8,285.8h0M382.4,290.2h0M376.4,292.3h0M385.3,297.0h0M377.2,285.1h0M382.8,295.3h0M366.7,269.9h0M388.8,297.9h0M387.6,297.8h0M394.4,297.6h0M380.0,292.6h0M372.4,278.7h0M397.5,302.0h0M367.4,276.3h0M384.1,290.3h0M371.7,286.4h0M380.1,289.0h0M372.7,271.9h0M383.2,287.9h0M383.9,294.7h0M412.4,301.5h0M380.7,288.1h0M402.9,297.7h0M405.5,285.7h0M386.9,283.1h0M384.4,274.6h0M388.8,299.3h0M368.8,276.1h0M370.5,285.2h0M373.9,275.2h0M366.7,278.3h0M365.9,284.7h0M391.1,290.4h0M389.1,298.4h0M380.7,277.1h0M367.3,272.4h0M370.5,288.7h0M367.0,285.9h0M393.0,292.3h0M375.5,290.6h0M371.4,285.9h0M392.1,296.3h0M376.0,277.5h0M375.0,291.5h0M366.8,274.4h0M381.2,294.7h0M397.0,302.4h0M377.4,289.6h0M409.0,300.8h0M409.0,306.8h0M408.3,307.4h0M366.2,279.5h0M403.1,299.7h0M379.9,284.6h0M398.1,302.8h0M393.9,282.5h0M366.4,279.9h0M372.5,278.3h0M384.3,286.3h0M388.3,287.6h0M368.4,278.4h0M367.1,284.0h0M366.6,285.7h0M386.8,287.1h0M391.1,294.8h0M415.0,309.6h0M379.7,284.7h0M380.5,290.1h0M387.3,292.6h0M396.6,285.1h0M382.7,286.8h0M380.2,284.5h0M375.1,271.6h0M365.3,283.3h0M369.3,280.2h0M380.2,292.2h0M377.2,291.7h0M366.0,271.9h0M384.4,294.7h0M380.0,285.1h0M377.2,277.6h0M366.5,275.9h0M385.7,297.1h0M393.4,289.9h0M367.8,279.4h0M377.0,273.2h0M392.0,285.1h0M372.8,288.8h0M390.7,290.6h0M375.0,265.0h0M366.7,268.0h0M391.1,286.6h0M383.4,292.7h0M421.7,302.4h0M376.7,287.1h0M373.9,271.3h0M417.4,309.1h0M369.4,283.0h0M376.8,290.0h0M372.5,283.0h0M415.7,295.5h0M372.9,281.8h0M381.1,288.4h0M370.0,273.8h0M381.0,288.7h0M366.9,279.7h0M369.3,287.6h0M394.2,300.8h0M388.8,289.3h0M367.2,279.6h0M411.9,298.6h0M394.0,292.8h0M375.9,287.2h0M402.1,298.7h0M373.0,279.9h0M392.3,289.0h0M398.4,302.8h0M382.4,292.1h0M381.1,277.6h0M377.1,288.3h0M374.7,284.6h0M382.0,284.5h0M370.1,282.2h0M372.3,281.0h0M375.2,289.8h0M379.6,277.4h0M375.6,291.0h0M383.3,286.6h0M374.4,277.5h0M370.8,278.8h0M381.4,286.4h0M368.6,285.4h0M371.4,285.6h0M384.1,272.8h0M367.5,266.7h0M373.8,287.4h0M368.8,285.8h0M389.9,291.2h0M393.6,301.9h0M377.0,288.4h0M391.7,296.3h0M380.0,293.1h0M367.4,280.1h0M374.6,289.4h0M385.1,283.0h0M371.7,287.0h0M377.3,286.0h0M371.9,274.1h0M367.4,282.8h0M368.0,266.2h0M377.3,286.8h0M365.4,276.2h0M388.4,294.9h0M373.3,287.9h0M388.9,292.0h0M389.7,291.3h0M383.4,290.2h0M388.6,298.7h0M372.1,288.1h0M373.9,281.6h0M390.9,300.8h0M380.8,293.7h0M374.1,283.4h0M376.9,288.6h0M385.9,292.0h0M385.3,288.5h0M389.8,285.1h0M386.1,282.4h0M380.1,286.6h0M384.7,294.9h0M369.7,270.8h0M407.2,310.7h0M383.3,289.2h0M392.3,298.8h0M371.7,283.6h0M368.8,282.6h0M379.1,280.0h0M389.2,287.6h0M366.7,273.1h0M392.5,297.0h0M369.6,277.8h0M380.5,293.3h0M366.5,283.4h0M393.1,293.1h0M378.8,280.1h0M368.8,284.8h0M384.4,272.2h0M385.3,280.1h0M401.7,302.9h0M380.3,288.4h0M366.3,283.7h0M369.4,287.2h0M367.5,283.2h0M410.4,305.8h0M397.5,304.2h0M376.3,288.5h0M372.2,279.1h0M375.8,281.6h0M382.2,290.7h0M367.4,270.0h0M371.7,278.0h0M378.7,291.8h0M375.7,265.9h0M377.4,290.4h0M376.7,287.1h0M391.8,283.3h0M371.1,272.9h0M387.0,295.9h0M376.2,283.2h0M372.7,282.0h0M374.7,287.3h0M369.5,281.8h0M387.9,287.1h0M375.3,283.6h0M365.9,276.8h0M366.2,261.2h0M383.4,271.1h0M395.1,293.4h0M366.1,284.5h0M366.4,282.1h0M384.0,289.2h0M372.9,283.6h0M370.1,285.2h0M394.4,302.7h0M366.8,277.2h0M377.2,276.8h0M381.4,292.4h0M377.8,292.4h0M381.9,292.3h0M374.8,287.7h0M366.7,273.6h0M378.5,291.0h0M385.0,296.5h0M378.2,289.1h0M371.1,275.3h0M378.3,285.3h0M379.1,282.1h0M382.1,294.1h0M388.5,295.9h0M372.1,287.5h0M384.5,295.8h0M385.4,285.2h0M386.2,276.0h0M369.5,286.6h0M369.3,285.2h0M381.4,292.3h0M383.7,292.0h0M387.1,294.7h0M365.7,283.7h0M378.5,288.3h0M367.5,282.1h0M375.8,290.1h0M374.9,282.3h0M399.8,300.6h0M365.7,278.2h0M367.1,278.4h0M365.5,283.2h0M381.7,281.9h0M366.5,258.0h0M368.6,280.3h0M373.3,285.9h0M379.0,293.1h0M374.4,286.7h0M398.7,299.6h0M387.8,293.7h0M367.6,282.7h0M380.2,281.3h0M394.2,282.0h0M394.1,283.8h0M372.9,283.3h0M368.4,285.1h0M371.0,286.1h0M366.9,280.0h0M367.5,285.2h0M370.5,285.3h0M376.0,281.7h0M378.3,292.8h0M399.0,297.4h0M382.9,284.4h0M386.2,285.3h0M369.6,280.6h0M377.6,281.1h0M381.8,290.1h0M388.4,278.8h0M372.1,287.3h0M379.5,289.1h0M380.8,282.7h0M365.5,277.1h0M367.7,281.9h0M381.6,283.8h0M392.6,293.8h0M381.8,291.2h0M370.5,276.1h0M393.0,288.2h0M371.7,278.7h0M374.3,279.7h0M368.2,279.8h0M380.8,276.9h0M373.3,282.3h0M394.8,290.4h0M380.4,281.8h0M370.7,285.8h0M377.0,275.3h0M375.7,285.2h0M383.1,295.6h0M366.9,283.4h0M377.3,291.7h0M404.6,306.5h0M386.7,297.5h0M369.4,266.1h0M368.5,287.4h0M376.5,287.5h0M371.4,270.9h0M371.7,275.2h0M385.7,284.2h0M407.7,310.7h0M373.5,289.9h0M367.6,273.0h0M383.1,281.6h0M387.2,294.0h0M397.6,298.9h0M373.2,282.0h0M395.1,290.8h0M374.8,276.5h0M388.3,293.2h0M372.4,274.2h0M369.0,287.0h0M381.4,292.8h0M374.0,282.6h0M387.5,295.6h0M375.7,276.0h0M396.7,288.1h0M369.8,274.9h0M371.1,279.5h0M373.9,268.7h0M369.5,278.3h0M387.9,287.1h0M384.1,288.6h0M370.0,287.9h0M370.5,286.5h0M385.4,297.2h0M380.4,287.7h0M368.0,285.0h0M376.8,276.7h0M380.1,291.2h0M398.0,291.7h0M387.7,294.1h0M400.6,302.9h0M374.4,284.5h0M377.2,282.0h0M371.0,281.2h0M392.5,291.2h0M374.4,290.9h0M391.5,284.6h0M376.5,284.3h0M390.5,291.7h0M385.6,293.5h0M370.5,286.8h0M388.1,298.1h0M365.4,280.2h0M386.7,283.8h0M408.7,304.0h0M376.1,291.4h0M365.4,275.4h0M379.7,284.4h0M366.2,281.3h0M367.6,284.5h0M368.5,277.8h0M370.2,286.2h0M384.6,280.8h0M368.4,277.2h0M374.8,287.6h0M377.3,279.5h0M378.7,293.6h0M391.9,281.0h0M370.0,280.9h0M380.1,277.9h0M378.7,275.9h0M398.3,303.6h0M378.8,290.4h0M379.2,287.2h0M368.7,283.0h0M395.5,293.5h0M389.3,284.5h0M374.2,285.0h0M390.1,298.6h0M379.2,284.4h0M380.7,290.6h0M367.3,272.4h0M383.6,291.4h0M381.4,291.9h0M392.9,291.8h0M375.6,285.7h0M382.4,275.6h0M372.1,289.2h0M375.3,284.2h0M375.6,291.2h0M375.8,277.2h0M415.1,310.1h0M405.8,304.6h0M377.3,288.7h0M380.0,287.4h0M379.9,289.8h0M374.2,290.3h0M380.9,283.9h0M400.4,302.2h0M367.7,272.1h0M371.4,275.4h0M366.5,282.2h0M385.6,294.9h0M373.5,284.4h0M368.1,280.1h0M401.2,292.8h0M385.0,293.5h0M372.8,279.6h0M394.6,295.0h0M373.4,278.2h0M373.6,289.3h0M366.7,283.0h0M366.0,273.1h0M371.9,288.2h0M377.4,284.0h0M365.7,280.3h0M373.4,288.6h0M386.2,297.1h0M376.4,292.3h0M368.4,275.5h0M369.7,282.8h0M375.8,290.9h0M381.6,290.3h0M368.9,278.7h0M378.6,289.5h0M367.4,275.1h0M370.3,282.8h0M414.3,306.8h0M375.4,284.5h0M375.3,286.8h0M392.8,295.0h0M385.3,292.1h0M384.6,287.1h0M392.9,287.4h0M374.3,290.4h0M377.7,270.8h0M366.8,270.0h0M368.2,277.7h0M367.1,281.1h0M392.3,291.4h0M385.1,286.8h0M367.9,278.1h0M375.1,281.7h0M378.5,288.3h0M383.1,288.0h0M381.1,273.0h0M366.6,272.9h0M389.7,295.4h0M374.4,290.4h0M374.4,290.3h0M377.0,292.6h0M379.5,287.2h0M380.7,287.1h0M386.3,291.3h0M376.9,285.4h0M369.2,283.2h0M380.8,277.8h0M392.1,274.5h0M369.9,287.8h0M380.5,278.9h0M368.1,280.8h0M372.3,272.8h0M386.0,289.0h0M367.8,285.6h0M378.0,278.4h0M383.2,291.7h0M371.0,280.2h0M424.5,299.8h0M371.8,279.1h0M367.4,286.5h0M374.2,286.6h0M375.3,282.0h0M393.0,282.8h0M365.9,280.8h0M387.0,297.0h0M394.0,277.7h0M375.5,262.9h0M372.3,280.5h0M367.6,275.3h0M381.2,292.4h0M389.3,271.0h0M383.2,281.5h0M404.1,292.5h0M386.3,297.8h0M383.7,287.1h0M395.8,288.4h0M372.3,272.2h0M365.9,269.8h0M367.5,282.1h0M365.9,277.3h0M401.7,300.6h0M368.3,284.5h0M376.9,287.1h0M385.5,277.4h0M373.0,279.1h0M365.9,283.6h0M371.3,287.5h0M382.0,293.5h0M372.0,276.6h0M369.1,278.2h0M379.7,293.0h0M390.3,293.1h0M370.2,273.0h0M391.6,292.7h0M382.8,289.2h0M370.6,288.2h0M367.6,283.3h0M368.5,284.6h0M368.9,286.9h0M380.9,283.0h0M365.9,276.0h0M372.6,283.5h0M387.3,282.1h0M381.3,291.3h0M392.6,288.9h0M389.2,291.4h0M380.6,289.3h0M382.2,294.9h0M381.4,291.6h0M382.2,292.8h0M372.2,287.6h0M366.1,279.7h0M370.4,284.9h0M382.2,292.4h0M371.5,286.5h0M381.2,281.4h0M365.5,282.5h0M384.7,291.7h0M380.4,278.1h0M379.6,267.6h0M366.2,283.0h0M384.9,297.3h0M381.3,287.6h0M375.0,281.8h0M365.8,285.3h0M395.6,289.0h0M370.4,285.1h0M374.8,283.5h0M385.6,288.4h0M386.1,281.5h0M369.7,287.3h0M370.3,276.2h0M366.7,284.1h0M378.0,292.1h0M381.6,294.2h0M392.3,288.6h0M371.8,282.8h0M391.4,301.1h0M379.0,277.1h0M371.1,279.8h0M374.9,288.9h0M372.1,285.0h0M374.0,287.5h0M393.1,290.6h0M385.0,284.9h0M370.2,273.2h0M369.5,286.9h0M373.6,284.3h0M375.4,276.5h0M371.2,285.6h0M395.3,283.6h0M372.6,284.5h0M370.1,274.9h0M390.1,293.6h0M385.3,297.2h0M373.5,285.3h0M367.4,274.8h0M392.5,301.5h0M376.0,288.8h0M374.9,278.1h0M405.9,308.4h0M379.9,292.7h0M374.8,288.0h0M397.3,300.3h0M377.8,286.7h0M379.0,290.1h0M372.7,276.4h0M366.6,282.4h0M393.7,296.3h0M370.1,286.8h0M371.8,277.5h0M366.0,283.1h0M373.9,278.8h0M387.4,297.4h0M383.2,295.3h0M367.2,276.7h0M389.0,297.0h0M373.7,290.3h0M377.7,273.5h0M378.2,286.1h0M392.7,287.3h0M375.4,288.1h0M374.4,283.7h0M367.5,279.0h0M378.8,265.5h0M391.0,261.6h0M371.3,287.6h0M382.9,292.1h0M389.2,293.1h0M378.7,284.4h0M389.5,294.4h0M371.9,285.2h0M395.8,299.6h0M376.6,282.8h0M382.3,294.0h0M374.3,286.1h0M375.8,290.6h0M412.0,292.6h0M369.4,281.9h0M385.2,280.3h0M399.2,289.4h0M378.8,293.1h0M384.1,296.6h0M379.1,288.0h0M372.8,277.4h0M370.5,282.5h0M371.0,286.8h0M400.3,285.3h0M382.7,288.4h0M377.8,288.8h0M372.8,288.9h0M385.1,285.0h0M384.9,295.4h0M373.1,286.4h0M401.0,299.9h0M377.7,284.0h0M390.1,294.0h0M378.7,284.0h0M379.1,289.1h0M402.0,302.6h0M388.5,294.2h0M394.6,298.8h0M370.4,282.1h0M370.3,279.4h0M389.1,281.3h0M369.2,280.8h0M377.7,280.0h0M384.4,291.3h0M380.2,293.8h0M370.8,282.7h0M380.7,288.3h0M383.0,273.0h0M396.1,298.8h0M372.0,285.3h0M395.9,294.6h0M368.5,284.8h0M389.9,290.9h0M390.8,289.5h0M365.4,264.6h0M398.8,283.9h0M375.6,290.2h0M395.3,301.8h0M380.5,280.9h0M391.9,284.0h0M379.5,267.7h0M388.1,266.5h0M367.0,262.2h0M394.6,293.5h0M378.7,282.8h0M377.9,289.0h0M378.6,291.1h0M368.4,268.0h0M393.8,283.8h0M388.5,293.1h0M370.4,280.1h0M395.1,269.4h0M394.6,274.9h0M365.8,281.9h0M384.4,288.3h0M374.4,250.1h0M377.3,260.3h0M384.7,278.5h0M379.2,277.3h0M370.6,286.6h0M384.6,283.0h0M396.2,289.8h0M385.9,285.0h0M365.5,280.9h0M379.3,291.2h0M377.7,275.7h0M378.3,287.4h0M394.4,288.1h0M389.4,263.7h0M408.5,293.9h0M368.2,257.3h0M383.2,267.9h0M424.6,291.7h0M376.4,288.4h0M375.5,246.2h0M383.6,287.3h0M380.8,290.7h0M376.2,276.4h0M393.3,297.1h0M390.3,288.1h0M368.5,282.5h0M372.1,286.7h0M377.9,266.2h0M371.4,264.0h0M373.2,270.2h0M375.4,273.4h0M381.4,282.0h0M373.0,287.7h0M370.4,267.9h0M383.6,289.1h0M380.4,292.6h0M365.8,279.4h0M382.8,293.7h0M375.7,280.5h0M393.7,277.9h0M383.6,294.6h0M402.7,299.2h0M375.4,279.2h0M371.0,286.7h0M394.0,283.0h0M390.5,281.1h0M416.6,306.8h0M373.6,282.6h0M368.0,254.3h0M397.9,303.8h0M381.3,285.1h0M395.9,289.2h0M383.9,296.5h0M378.6,278.8h0M380.7,287.5h0M377.1,282.4h0M396.9,262.9h0M407.5,289.2h0M376.2,275.3h0M406.8,283.6h0M369.8,279.0h0M387.7,279.0h0M380.8,271.9h0M375.0,285.5h0M391.8,286.7h0M401.8,295.6h0M379.3,273.7h0M385.7,281.3h0M380.8,289.1h0M387.9,253.1h0M372.2,275.3h0M373.9,285.2h0M369.8,282.3h0M376.1,285.1h0M397.8,263.4h0M374.4,281.7h0M391.9,300.1h0M387.3,271.4h0M369.7,282.7h0M380.3,284.0h0M383.6,283.0h0M385.0,285.5h0M408.9,310.2h0M383.8,292.6h0M397.8,276.7h0M382.6,246.7h0M404.3,296.0h0M374.4,288.5h0M387.6,272.2h0M391.9,291.7h0M372.7,281.0h0M395.7,294.5h0M373.8,282.0h0M370.4,273.6h0M375.9,271.3h0M375.4,287.7h0M392.3,301.1h0M386.0,297.1h0M380.7,293.0h0M385.0,293.1h0M372.6,259.1h0M396.6,301.7h0M394.8,299.0h0M409.1,293.1h0M370.4,266.8h0M384.3,278.6h0M370.1,266.2h0M394.3,295.7h0M372.8,289.1h0M368.7,277.9h0M370.3,261.9h0M395.5,303.0h0M372.8,281.6h0M375.7,275.7h0M391.5,300.8h0M377.8,281.6h0M388.3,272.1h0M373.4,253.3h0M381.4,263.9h0M366.2,284.0h0M384.0,271.6h0M395.4,286.0h0M374.6,290.2h0M369.1,271.8h0M387.5,296.2h0M376.3,266.2h0M397.2,282.4h0M370.4,264.3h0M380.1,293.3h0M407.7,275.6h0M371.6,271.7h0M367.6,286.3h0M425.7,301.9h0M372.1,286.6h0M382.5,257.0h0M372.1,286.4h0M375.4,290.4h0M377.8,283.7h0M403.5,284.1h0M382.5,278.5h0M380.1,279.5h0M396.5,272.6h0M371.2,252.7h0M408.5,309.4h0M390.5,285.2h0M366.7,266.6h0M390.0,295.6h0M367.7,279.6h0M368.8,266.4h0M382.4,261.8h0M401.5,281.2h0M380.8,286.1h0M368.5,282.6h0M366.2,281.9h0M377.6,259.6h0M371.7,279.7h0M394.4,294.4h0M378.4,289.1h0M374.0,289.0h0M404.9,289.1h0M390.3,299.1h0M394.9,303.1h0M377.2,266.8h0M367.5,275.6h0M382.8,290.4h0M367.0,263.7h0M402.2,301.6h0M377.6,269.8h0M411.8,300.0h0M375.1,288.8h0M417.1,303.0h0M367.6,272.5h0M372.0,266.8h0M369.6,269.6h0M388.1,206.4h0M372.6,235.2h0M371.4,239.1h0M378.5,239.1h0M380.9,239.1h0M388.1,237.1h0M388.1,243.7h0M394.0,239.1h0M396.4,241.7h0M392.8,247.6h0M367.9,247.6h0M366.7,254.8h0M411.8,268.5h0M426.1,271.1h0M417.8,277.6h0M434.4,285.4h0M437.9,287.4h0M428.4,289.4h0M434.4,297.2h0M427.3,308.3h0M421.3,301.8h0M402.3,261.3h0M399.9,258.7h0M377.4,251.5h0M384.5,249.5h0" stroke="#e8211d" stroke-width="1.50" stroke-linecap="square" fill="none"/>
<path d="M401.9,294.9h0M385.7,284.3h0M370.4,279.2h0M367.1,276.4h0M397.4,302.6h0M370.4,273.1h0M402.5,304.3h0M372.1,293.1h0M398.0,293.2h0M392.2,302.8h0M409.9,308.0h0M408.4,299.1h0M381.9,295.7h0M387.8,287.0h0M366.8,291.0h0M369.9,307.4h0M368.3,274.5h0M388.2,288.4h0M406.7,301.8h0M401.6,292.3h0M403.6,298.9h0M401.2,299.5h0M397.8,302.1h0M409.6,305.7h0M385.5,289.3h0M405.0,298.1h0M408.5,302.4h0M374.5,281.4h0M399.8,304.4h0M402.0,302.9h0M366.5,286.6h0M399.8,312.1h0M411.2,298.5h0M387.8,297.7h0M383.1,307.4h0M375.3,305.5h0M377.6,282.6h0M402.0,309.3h0M394.7,288.1h0M402.3,312.4h0M393.4,295.1h0M377.1,301.7h0M374.1,285.0h0M366.7,296.3h0M373.1,281.0h0M367.5,272.8h0M377.8,287.6h0M396.8,299.8h0M402.8,304.8h0M373.1,291.2h0M391.6,288.1h0M372.4,275.8h0M372.6,272.0h0M389.8,291.8h0M377.6,280.2h0M385.2,297.4h0M367.0,281.9h0M373.5,279.3h0M396.2,302.4h0M388.2,296.8h0M391.7,288.9h0M388.3,289.9h0M395.8,295.3h0M410.6,309.6h0M373.1,283.4h0M408.3,305.7h0M384.1,283.2h0M380.0,278.0h0M376.7,309.9h0M383.2,281.7h0M368.6,298.0h0M366.2,274.4h0M380.7,293.4h0M404.6,297.4h0M402.4,306.9h0M400.0,303.9h0M409.3,311.3h0M395.8,294.0h0M368.3,310.9h0M366.1,282.1h0M367.9,286.3h0M387.5,291.5h0M393.7,289.0h0M378.9,292.8h0M367.9,274.0h0M376.3,311.3h0M390.1,297.7h0M372.0,287.4h0M410.2,297.9h0M404.7,294.0h0M388.0,299.9h0M385.4,300.7h0M387.3,293.4h0M401.8,313.0h0M407.1,304.2h0M389.8,288.2h0M401.0,294.1h0M379.4,308.0h0M390.6,295.1h0M379.5,300.6h0M376.5,300.7h0M368.3,306.6h0M391.9,289.0h0M379.8,291.9h0M403.9,292.5h0M368.9,299.3h0M387.7,285.2h0M408.7,308.7h0M382.0,292.6h0M373.5,274.7h0M378.3,293.4h0M367.5,276.8h0M401.8,309.5h0M392.2,305.9h0M368.9,281.7h0M382.9,287.3h0M404.1,301.0h0M381.2,289.6h0M373.6,311.9h0M393.7,298.1h0M381.5,289.9h0M370.4,273.3h0M373.5,276.7h0M376.0,294.8h0M370.1,289.7h0M408.0,305.1h0M411.2,304.1h0M376.3,286.9h0M395.6,308.0h0M366.1,281.9h0M371.9,274.2h0M373.0,280.5h0M390.6,300.6h0M379.2,282.5h0M401.5,299.7h0M399.3,305.5h0M400.9,295.6h0M400.2,311.5h0M368.9,275.5h0M406.7,309.9h0M368.9,276.0h0M394.9,286.5h0M373.5,286.7h0M375.1,304.1h0M406.4,306.8h0M385.7,287.1h0M378.7,278.7h0M371.1,296.9h0M367.9,282.9h0M379.0,282.1h0M378.1,278.3h0M383.2,298.5h0M389.2,283.7h0M395.3,297.4h0M401.8,300.0h0M401.3,291.3h0M394.7,296.8h0M396.7,292.0h0M382.8,296.4h0M381.5,299.3h0M410.2,304.7h0M408.1,297.7h0M377.6,284.6h0M382.6,290.9h0M388.2,296.0h0M411.2,300.8h0M393.7,301.9h0M369.7,283.2h0M400.8,296.7h0M369.0,298.2h0M379.4,295.7h0M376.9,305.6h0M404.1,301.5h0M376.3,286.8h0M391.8,288.4h0M385.3,308.3h0M368.6,271.0h0M384.2,295.8h0M369.9,282.9h0M373.7,286.4h0M391.3,293.9h0M394.2,296.1h0M378.8,276.4h0M375.9,278.9h0M376.2,296.6h0M392.2,296.1h0M401.5,311.8h0M395.9,309.9h0M378.7,302.2h0M391.7,295.2h0M400.8,294.8h0M371.6,301.2h0M372.8,281.9h0M368.1,287.8h0M382.5,306.3h0M370.8,311.3h0M397.6,308.4h0M376.9,287.7h0M372.4,276.7h0M367.7,305.9h0M400.9,309.1h0M385.4,302.7h0M382.6,284.8h0M411.3,296.9h0M399.1,296.8h0M407.5,296.6h0M386.9,312.7h0M386.1,293.6h0M375.6,279.1h0M407.7,299.2h0M383.2,297.8h0M401.9,294.8h0M405.6,311.4h0M379.2,291.4h0M367.5,294.1h0M404.1,304.7h0M408.3,296.1h0M401.6,292.7h0M372.7,312.8h0M375.7,294.0h0M367.3,307.1h0M403.9,295.1h0M396.5,291.3h0M389.0,306.7h0M377.4,278.3h0M384.7,293.4h0M396.4,300.2h0M379.2,312.2h0M387.4,283.7h0" stroke="#fff" stroke-width="1.00" stroke-linecap="square" fill="none"/>
<polygon points="342.3,313.3 342.0,279.8 343.5,280.3 343.3,281.5 344.5,282.9 344.5,283.1 344.4,284.0 344.2,284.7 344.5,286.6 345.4,287.4 345.6,287.6 345.3,289.2 346.0,290.4 346.5,290.5 346.4,292.2 346.5,292.6 346.7,293.5 347.5,295.4 347.3,295.8 348.0,297.1 348.2,298.4 348.0,298.9 348.4,299.9 348.1,300.8 349.1,301.5 348.5,303.2 349.0,304.0 349.5,304.8 350.3,305.6 349.8,306.6 350.2,307.7 350.1,309.2 350.2,309.9 351.1,310.4 350.3,311.5 351.0,312.8 351.2,313.3" fill="#000"/>
<polygon points="355.9,313.3 356.2,313.3 356.6,312.6 356.7,311.7 356.0,310.3 357.3,309.6 357.4,308.1 357.0,307.4 357.2,306.9 356.8,305.5 357.2,305.5 358.0,303.6 358.3,302.6 358.3,301.6 357.8,301.4 358.2,299.7 359.4,299.4 358.7,298.6 359.3,297.2 359.1,296.5 360.0,295.6 360.5,293.8 360.1,292.6 360.1,291.5 360.5,291.1 360.4,290.2 361.1,288.8 361.9,288.0 361.5,287.0 362.2,285.5 362.8,284.5 362.7,284.6 362.0,283.7 362.6,282.6 362.4,281.0 362.8,281.2 363.0,280.1 364.8,279.5 365.3,313.3" fill="#000"/>
<path d="M362.6,277.7h0M362.9,277.2h0M362.6,273.9h0M362.9,275.1h0M362.8,266.9h0M364.9,279.4h0M365.1,276.0h0M362.5,279.0h0M362.9,274.8h0M363.2,268.1h0M363.8,276.0h0M365.0,268.4h0M365.3,269.8h0M365.0,268.3h0M345.2,275.5h0" stroke="#000" stroke-width="1.50" stroke-linecap="square" fill="none"/>
<polygon points="351.2,313.3 355.9,313.3 353.8,320.6" fill="#fff"/>
<line x1="303.3" y1="313.3" x2="441.5" y2="313.3" stroke="#888" stroke-width="0.6" stroke-dasharray="1,1"/>
<text x="75.5" y="382.0" font-size="15" text-anchor="start" fill="#231f20">D</text>
<line x1="135.4" y1="397.4" x2="135.4" y2="461.8" stroke="#231f20" stroke-width="1.2"/>
<line x1="134.8" y1="461.2" x2="181.7" y2="461.2" stroke="#231f20" stroke-width="1.2"/>
<line x1="132.0" y1="398.1" x2="135.4" y2="398.1" stroke="#231f20" stroke-width="1.1"/>
<text x="131.5" y="401.3" font-size="8.9" text-anchor="end" fill="#231f20">60000</text>
<line x1="132.0" y1="419.0" x2="135.4" y2="419.0" stroke="#231f20" stroke-width="1.1"/>
<text x="131.5" y="422.2" font-size="8.9" text-anchor="end" fill="#231f20">40000</text>
<line x1="132.0" y1="440.1" x2="135.4" y2="440.1" stroke="#231f20" stroke-width="1.1"/>
<text x="131.5" y="443.3" font-size="8.9" text-anchor="end" fill="#231f20">20000</text>
<line x1="132.0" y1="461.2" x2="135.4" y2="461.2" stroke="#231f20" stroke-width="1.1"/>
<text x="131.5" y="464.4" font-size="8.9" text-anchor="end" fill="#231f20">0</text>
<rect x="139.0" y="454.0" width="15.800000000000011" height="7.199999999999989" fill="#000" stroke="#231f20" stroke-width="0.9"/>
<line x1="146.9" y1="454.0" x2="146.9" y2="450.9" stroke="#231f20" stroke-width="1.2"/>
<line x1="142.9" y1="450.9" x2="150.9" y2="450.9" stroke="#231f20" stroke-width="1.5"/>
<rect x="162.3" y="416.9" width="15.299999999999983" height="44.30000000000001" fill="#e8262b" stroke="#231f20" stroke-width="0.9"/>
<line x1="169.95" y1="416.9" x2="169.95" y2="403.3" stroke="#231f20" stroke-width="1.2"/>
<line x1="165.95" y1="403.3" x2="173.95" y2="403.3" stroke="#231f20" stroke-width="1.5"/>
<text x="159.1" y="387.3" font-size="11.2" text-anchor="middle" fill="#231f20">H3K4me1</text>
<path d="M146.6,400.79999999999995 L146.6,399.4 L170.3,399.4 L170.3,400.79999999999995" fill="none" stroke="#231f20" stroke-width="0.9"/>
<text x="158.95" y="398.7" font-size="8.8" text-anchor="middle" fill="#231f20">**</text>
<line x1="233.4" y1="397.5" x2="233.4" y2="462.0" stroke="#231f20" stroke-width="1.2"/>
<line x1="232.8" y1="461.4" x2="279.8" y2="461.4" stroke="#231f20" stroke-width="1.2"/>
<line x1="230.0" y1="404.3" x2="233.4" y2="404.3" stroke="#231f20" stroke-width="1.1"/>
<text x="229.5" y="407.5" font-size="8.9" text-anchor="end" fill="#231f20">10000</text>
<line x1="230.0" y1="432.7" x2="233.4" y2="432.7" stroke="#231f20" stroke-width="1.1"/>
<text x="229.5" y="435.9" font-size="8.9" text-anchor="end" fill="#231f20">5000</text>
<line x1="230.0" y1="461.4" x2="233.4" y2="461.4" stroke="#231f20" stroke-width="1.1"/>
<text x="229.5" y="464.59999999999997" font-size="8.9" text-anchor="end" fill="#231f20">0</text>
<rect x="237.4" y="424.2" width="15.099999999999994" height="37.19999999999999" fill="#000" stroke="#231f20" stroke-width="0.9"/>
<line x1="244.95" y1="424.2" x2="244.95" y2="402.5" stroke="#231f20" stroke-width="1.2"/>
<line x1="240.95" y1="402.5" x2="248.95" y2="402.5" stroke="#231f20" stroke-width="1.5"/>
<rect x="260.4" y="426.2" width="15.100000000000023" height="35.19999999999999" fill="#e8262b" stroke="#231f20" stroke-width="0.9"/>
<line x1="267.95" y1="426.2" x2="267.95" y2="409.5" stroke="#231f20" stroke-width="1.2"/>
<line x1="263.95" y1="409.5" x2="271.95" y2="409.5" stroke="#231f20" stroke-width="1.5"/>
<text x="254.3" y="387.3" font-size="11.2" text-anchor="middle" fill="#231f20">H3K4me3</text>
<path d="M245.2,400.0 L245.2,398.6 L267.7,398.6 L267.7,400.0" fill="none" stroke="#231f20" stroke-width="0.9"/>
<text x="256.95" y="397.90000000000003" font-size="7.6" text-anchor="middle" fill="#231f20">ns</text>
<line x1="337.1" y1="395.8" x2="337.1" y2="462.5" stroke="#231f20" stroke-width="1.2"/>
<line x1="336.5" y1="461.9" x2="385.4" y2="461.9" stroke="#231f20" stroke-width="1.2"/>
<line x1="333.70000000000005" y1="396.0" x2="337.1" y2="396.0" stroke="#231f20" stroke-width="1.1"/>
<text x="333.20000000000005" y="399.2" font-size="8.9" text-anchor="end" fill="#231f20">25000</text>
<line x1="333.70000000000005" y1="410.0" x2="337.1" y2="410.0" stroke="#231f20" stroke-width="1.1"/>
<text x="333.20000000000005" y="413.2" font-size="8.9" text-anchor="end" fill="#231f20">20000</text>
<line x1="333.70000000000005" y1="423.5" x2="337.1" y2="423.5" stroke="#231f20" stroke-width="1.1"/>
<text x="333.20000000000005" y="426.7" font-size="8.9" text-anchor="end" fill="#231f20">15000</text>
<line x1="333.70000000000005" y1="436.3" x2="337.1" y2="436.3" stroke="#231f20" stroke-width="1.1"/>
<text x="333.20000000000005" y="439.5" font-size="8.9" text-anchor="end" fill="#231f20">10000</text>
<line x1="333.70000000000005" y1="448.8" x2="337.1" y2="448.8" stroke="#231f20" stroke-width="1.1"/>
<text x="333.20000000000005" y="452.0" font-size="8.9" text-anchor="end" fill="#231f20">5000</text>
<line x1="333.70000000000005" y1="461.9" x2="337.1" y2="461.9" stroke="#231f20" stroke-width="1.1"/>
<text x="333.20000000000005" y="465.09999999999997" font-size="8.9" text-anchor="end" fill="#231f20">0</text>
<rect x="341.9" y="432.5" width="16.400000000000034" height="29.399999999999977" fill="#000" stroke="#231f20" stroke-width="0.9"/>
<line x1="350.1" y1="432.5" x2="350.1" y2="420.4" stroke="#231f20" stroke-width="1.2"/>
<line x1="346.1" y1="420.4" x2="354.1" y2="420.4" stroke="#231f20" stroke-width="1.5"/>
<rect x="366.0" y="424.4" width="15.300000000000011" height="37.5" fill="#e8262b" stroke="#231f20" stroke-width="0.9"/>
<line x1="373.65" y1="424.4" x2="373.65" y2="410.0" stroke="#231f20" stroke-width="1.2"/>
<line x1="369.65" y1="410.0" x2="377.65" y2="410.0" stroke="#231f20" stroke-width="1.5"/>
<text x="360.5" y="387.3" font-size="11.2" text-anchor="middle" fill="#231f20">H3K27me3</text>
<path d="M350.6,400.79999999999995 L350.6,399.4 L373.7,399.4 L373.7,400.79999999999995" fill="none" stroke="#231f20" stroke-width="0.9"/>
<text x="362.65" y="398.7" font-size="7.6" text-anchor="middle" fill="#231f20">ns</text>
<text x="93.6" y="429.0" font-size="8.7" text-anchor="middle" fill="#231f20" transform="rotate(-90 93.6 429.0)">Average Number of</text>
<text x="101.8" y="430.3" font-size="8.7" text-anchor="middle" fill="#231f20" transform="rotate(-90 101.8 430.3)">Peaks per Sample</text>
<rect x="397.8" y="418.9" width="8.1" height="3.7" fill="#000"/>
<text x="407.4" y="423.5" font-size="8.3" text-anchor="start" fill="#231f20">dCMML, n=12</text>
<rect x="397.8" y="427.4" width="8.1" height="4.0" fill="#e8262b"/>
<text x="407.4" y="432.0" font-size="8.3" text-anchor="start" fill="#231f20">pCMML, n=18</text>
<text x="75.3" y="486.8" font-size="14.8" text-anchor="start" fill="#231f20">E</text>
<clipPath id="c1"><rect x="112.5" y="498.5" width="147.7" height="70.70000000000005"/></clipPath>
<g clip-path="url(#c1)">
<polyline points="112.5,523.9 113.4,524.2 114.3,524.1 115.3,524.3 116.2,523.9 117.2,523.4 118.2,522.6 119.2,521.5 120.1,521.4 121.0,520.3 122.0,519.4 122.9,519.0 123.8,518.3 124.8,517.1 125.9,516.2 126.9,514.6 127.9,515.3 129.0,514.9 130.0,515.3 131.0,515.5 132.1,515.4 133.1,516.3 134.1,517.6 135.2,519.0 136.2,519.7 137.2,522.1 138.2,524.0 139.2,525.2 140.2,528.1 141.3,530.9 142.3,532.7 143.3,536.9 144.4,539.8 145.4,544.0 146.4,549.2 147.5,553.5 148.5,558.6 149.5,559.8 150.5,561.9 151.5,563.7 152.7,563.3 153.8,562.3 155.0,557.2 156.2,551.6 157.7,540.7 158.8,537.4 160.0,534.0 161.0,533.7 162.1,533.8 163.1,533.2 164.1,532.5 165.0,531.6 165.9,530.2 166.9,529.3 167.8,528.8 168.7,528.0 169.7,528.3 170.6,527.3 171.5,527.1 172.4,525.8 173.4,526.6 174.3,525.9 175.3,525.4 176.2,525.3 177.1,525.8 178.0,525.2 179.0,526.1 179.9,525.6 180.8,526.5 181.8,525.5 182.8,524.9 183.8,524.1 184.7,523.5 185.5,523.4 186.4,523.5 187.2,523.1 188.1,523.1 189.1,522.4 190.0,522.5 190.9,522.6 191.9,521.9 193.1,522.0 194.2,522.0 195.2,522.0 196.3,522.1 197.3,521.6 198.3,522.3 199.4,522.5 200.4,523.0 201.3,523.3 202.2,523.3 203.2,523.4 204.1,523.8 205.0,523.8 205.9,523.4 206.8,524.3 207.8,524.7 208.7,524.5 209.6,524.4 210.6,525.0 211.7,525.9 212.7,526.8 213.8,529.4 215.0,531.5 216.5,539.2 217.6,545.8 218.6,545.0 219.6,543.6 220.8,542.0 221.9,539.3 222.9,537.2 224.0,535.6 225.0,533.5 226.0,532.0 227.1,530.6 228.1,530.3 229.0,530.0 229.9,530.5 230.9,530.2 231.8,530.5 232.7,530.7 233.6,530.3 234.5,530.1 235.5,530.5 236.4,530.0 237.3,530.3 238.2,530.3 239.1,530.3 240.1,530.6 241.0,530.5 241.9,530.7 242.9,531.1 244.0,531.4 245.0,531.4 246.0,531.0 247.1,530.1 248.1,529.7 249.2,527.9 250.4,527.5 251.6,527.3 252.7,528.0 253.8,527.1 255.0,525.8 256.1,526.7 257.3,527.6 258.4,527.8 259.4,527.5 260.5,527.7" fill="none" stroke="#8fd46b" stroke-width="1.35" stroke-linejoin="round"/>
<polyline points="112.5,526.1 113.4,526.2 114.3,525.8 115.3,525.6 116.2,525.5 117.2,525.0 118.2,524.0 119.2,523.1 120.1,522.9 121.0,522.3 122.0,521.8 122.9,520.8 123.8,520.4 124.8,519.1 125.9,517.4 126.9,516.6 127.9,516.7 129.0,517.4 130.0,517.1 131.0,517.3 132.1,518.0 133.1,518.1 134.1,519.6 135.2,520.5 136.2,522.0 137.2,524.0 138.2,525.7 139.2,527.3 140.2,529.6 141.3,532.5 142.3,535.0 143.3,538.8 144.4,542.3 145.4,546.1 146.4,550.4 147.5,555.1 148.5,559.8 149.5,561.1 150.5,563.1 151.5,564.9 152.7,564.7 153.8,563.5 155.0,558.7 156.2,553.7 157.7,542.6 158.8,538.9 160.0,536.0 161.0,535.5 162.1,535.6 163.1,535.0 164.1,534.2 165.0,533.6 165.9,532.6 166.9,530.9 167.8,530.4 168.7,530.2 169.7,529.9 170.6,529.3 171.5,528.9 172.4,528.3 173.4,528.3 174.3,528.2 175.3,527.5 176.2,526.9 177.1,527.3 178.0,527.8 179.0,527.3 179.9,527.9 180.8,527.9 181.8,527.3 182.8,526.5 183.8,525.8 184.7,526.0 185.5,525.6 186.4,525.7 187.2,525.1 188.1,524.9 189.1,524.7 190.0,523.5 190.9,523.9 191.9,523.5 193.1,523.5 194.2,524.3 195.2,523.8 196.3,523.1 197.3,523.4 198.3,523.8 199.4,524.4 200.4,525.0 201.3,525.5 202.2,525.3 203.2,525.5 204.1,525.7 205.0,525.3 205.9,526.3 206.8,525.8 207.8,526.3 208.7,526.1 209.6,526.3 210.6,527.2 211.7,528.5 212.7,529.0 213.8,531.0 215.0,533.4 216.5,540.9 217.6,548.1 218.6,546.8 219.6,546.0 220.8,543.2 221.9,541.1 222.9,538.9 224.0,536.9 225.0,535.2 226.0,534.0 227.1,533.1 228.1,532.2 229.0,532.3 229.9,531.9 230.9,532.5 231.8,532.1 232.7,532.7 233.6,533.0 234.5,532.3 235.5,532.1 236.4,532.1 237.3,531.9 238.2,532.1 239.1,532.0 240.1,532.7 241.0,532.8 241.9,532.6 242.9,533.0 244.0,533.4 245.0,533.8 246.0,532.8 247.1,532.1 248.1,531.1 249.2,529.7 250.4,528.7 251.6,529.5 252.7,529.8 253.8,528.9 255.0,528.0 256.1,528.7 257.3,529.6 258.4,529.7 259.4,529.3 260.5,529.6" fill="none" stroke="#1d2a7d" stroke-width="1.35" stroke-linejoin="round"/>
</g>
<rect x="112.5" y="498.5" width="147.7" height="70.70000000000005" fill="none" stroke="#4a4a4a" stroke-width="0.95"/>
<line x1="112.1" y1="569.2" x2="260.59999999999997" y2="569.2" stroke="#5a5a5a" stroke-width="1.4"/>
<line x1="109.5" y1="517.5" x2="112.5" y2="517.5" stroke="#444" stroke-width="0.9"/>
<text x="108.9" y="520.8" font-size="9.4" text-anchor="end" fill="#231f20">1.0</text>
<line x1="109.5" y1="536.8" x2="112.5" y2="536.8" stroke="#444" stroke-width="0.9"/>
<text x="108.9" y="540.0999999999999" font-size="9.4" text-anchor="end" fill="#231f20">0.5</text>
<line x1="109.5" y1="556.2" x2="112.5" y2="556.2" stroke="#444" stroke-width="0.9"/>
<text x="108.9" y="559.5" font-size="9.4" text-anchor="end" fill="#231f20">0.0</text>
<line x1="112.5" y1="569.2" x2="112.5" y2="572.0" stroke="#444" stroke-width="0.9"/>
<text x="112.4" y="581.2" font-size="9.4" text-anchor="middle" fill="#231f20">-2.0</text>
<line x1="154.6" y1="569.2" x2="154.6" y2="572.0" stroke="#444" stroke-width="0.9"/>
<text x="154.2" y="581.2" font-size="9.4" text-anchor="middle" fill="#231f20">TSS</text>
<line x1="217.3" y1="569.2" x2="217.3" y2="572.0" stroke="#444" stroke-width="0.9"/>
<text x="216.6" y="581.2" font-size="9.4" text-anchor="middle" fill="#231f20">TES</text>
<line x1="260.2" y1="569.2" x2="260.2" y2="572.0" stroke="#444" stroke-width="0.9"/>
<text x="258.9" y="581.2" font-size="9.4" text-anchor="middle" fill="#231f20">2.0Kb</text>
<text x="189.3" y="493.8" font-size="11.8" text-anchor="middle" fill="#231f20">Gene Bodies - 5mC</text>
<line x1="216.5" y1="507.6" x2="231.2" y2="507.6" stroke="#1d2a7d" stroke-width="1.3"/>
<line x1="216.5" y1="517.8000000000001" x2="231.2" y2="517.8000000000001" stroke="#8fd46b" stroke-width="1.3"/>
<g clip-path="url(#c1)">
<text x="232.79999999999998" y="510.6" font-size="7.9" text-anchor="start" fill="#231f20">pCMML</text>
<text x="232.79999999999998" y="520.8000000000001" font-size="7.9" text-anchor="start" fill="#231f20">dCMML</text>
</g>
<clipPath id="c2"><rect x="301.3" y="498.1" width="147.2" height="70.69999999999993"/></clipPath>
<g clip-path="url(#c2)">
<polyline points="301.4,515.8 302.2,515.3 303.0,514.9 303.8,514.3 304.6,514.5 305.4,513.8 306.4,514.3 307.5,514.4 308.5,515.0 309.4,513.8 310.3,513.0 311.3,512.3 312.2,511.1 313.1,510.3 314.1,509.7 315.2,509.2 316.2,508.7 317.1,508.3 317.9,507.9 318.8,507.8 319.7,507.3 320.6,506.6 321.4,506.9 322.3,505.8 323.3,505.6 324.2,503.6 325.2,502.6 326.2,501.6 327.1,502.3 328.0,502.0 329.0,502.6 329.9,502.9 330.8,502.7 332.0,502.6 333.1,502.4 334.0,503.1 334.9,503.5 335.9,503.9 336.8,504.9 337.7,505.5 338.6,506.7 339.4,507.7 340.3,508.5 341.2,509.4 342.1,510.5 342.9,511.7 343.8,512.7 344.7,514.1 345.7,515.6 346.6,517.0 347.6,518.0 348.5,519.8 349.4,520.9 350.3,523.0 351.2,524.5 352.1,525.8 352.9,528.4 353.7,530.4 354.5,532.0 355.4,533.2 356.2,534.8 357.0,537.4 357.8,539.1 358.6,540.7 359.4,542.4 360.3,543.8 361.1,545.9 361.9,547.0 362.8,548.8 363.6,550.7 364.4,552.5 365.2,553.6 366.0,555.1 366.9,556.5 367.7,557.7 368.5,558.7 369.3,560.2 370.1,561.5 370.9,561.1 371.8,561.0 372.6,560.8 373.4,560.3 374.2,558.6 375.0,557.3 375.8,555.8 376.6,554.2 377.4,554.0 378.2,553.5 379.1,553.2 379.9,552.7 380.7,552.3 381.6,551.5 382.4,551.9 383.2,551.9 384.0,551.5 384.8,551.8 385.6,551.5 386.4,551.1 387.2,550.7 388.1,551.0 388.9,550.7 389.7,549.9 390.5,550.1 391.3,550.1 392.1,549.2 392.9,549.4 393.8,548.5 394.6,548.3 395.4,547.6 396.2,547.4 397.1,547.0 397.9,546.9 398.7,545.5 399.5,544.8 400.3,544.0 401.1,542.8 402.0,542.1 402.8,540.7 403.6,539.9 404.4,539.2 405.2,537.9 406.0,537.0 406.9,536.2 407.7,535.0 408.5,534.0 409.4,532.9 410.2,532.2 411.0,531.0 411.8,529.5 412.6,529.3 413.4,528.4 414.2,527.2 415.1,526.3 415.9,524.8 416.7,524.4 417.5,523.2 418.3,522.4 419.1,522.1 419.9,521.3 420.8,520.4 421.6,519.9 422.4,519.4 423.2,518.6 424.0,518.2 424.8,517.8 425.6,517.4 426.4,518.0 427.3,517.6 428.1,517.5 428.9,516.8 429.7,517.1 430.5,517.3 431.4,516.7 432.2,516.4 433.0,517.1 433.8,516.4 434.6,516.3 435.4,516.0 436.3,516.1 437.1,515.7 437.9,515.2 438.8,515.1 439.6,515.0 440.4,515.2 441.2,515.0 442.0,515.1 442.9,515.6 443.7,515.7 444.5,515.5 445.3,515.8 446.1,516.1 447.0,516.0 447.8,516.5 448.6,516.4" fill="none" stroke="#8fd46b" stroke-width="1.35" stroke-linejoin="round"/>
<polyline points="301.4,517.8 302.2,516.7 303.0,516.6 303.8,516.2 304.6,516.0 305.4,515.0 306.4,515.6 307.5,515.7 308.5,515.9 309.4,515.4 310.3,514.8 311.3,514.3 312.2,513.5 313.1,513.2 314.1,512.4 315.2,511.2 316.2,511.7 317.1,511.0 317.9,510.5 318.8,510.4 319.7,510.1 320.6,509.7 321.4,509.1 322.3,509.0 323.3,507.5 324.2,507.2 325.2,505.4 326.2,504.5 327.1,504.8 328.0,505.1 329.0,505.2 329.9,505.6 330.8,504.8 332.0,505.3 333.1,505.0 334.0,505.6 334.9,506.8 335.9,506.9 336.8,507.8 337.7,508.0 338.6,509.5 339.4,510.0 340.3,511.0 341.2,513.0 342.1,513.6 342.9,514.4 343.8,515.4 344.7,516.4 345.7,517.9 346.6,519.6 347.6,520.4 348.5,522.3 349.4,523.5 350.3,525.6 351.2,527.0 352.1,529.4 352.9,531.1 353.7,532.5 354.5,534.0 355.4,536.1 356.2,538.1 357.0,539.7 357.8,541.9 358.6,543.9 359.4,545.3 360.3,546.9 361.1,548.8 361.9,550.2 362.8,552.1 363.6,553.5 364.4,555.3 365.2,556.2 366.0,557.3 366.9,558.9 367.7,560.1 368.5,561.4 369.3,562.9 370.1,564.5 370.9,563.5 371.8,563.8 372.6,563.6 373.4,563.3 374.2,561.9 375.0,559.7 375.8,558.6 376.6,556.7 377.4,556.5 378.2,556.1 379.1,555.8 379.9,555.5 380.7,555.4 381.6,555.6 382.4,555.0 383.2,554.7 384.0,554.4 384.8,554.0 385.6,554.1 386.4,554.2 387.2,553.2 388.1,553.5 388.9,553.4 389.7,553.0 390.5,553.0 391.3,552.9 392.1,552.7 392.9,552.1 393.8,551.8 394.6,551.0 395.4,550.7 396.2,550.2 397.1,549.8 397.9,549.2 398.7,548.6 399.5,547.9 400.3,546.5 401.1,545.7 402.0,544.9 402.8,543.9 403.6,543.2 404.4,542.2 405.2,540.8 406.0,539.8 406.9,539.2 407.7,538.1 408.5,537.2 409.4,536.0 410.2,535.0 411.0,533.5 411.8,533.2 412.6,531.6 413.4,531.1 414.2,529.6 415.1,528.7 415.9,527.9 416.7,526.7 417.5,525.6 418.3,525.4 419.1,524.7 419.9,524.1 420.8,523.3 421.6,522.5 422.4,522.0 423.2,521.4 424.0,520.9 424.8,520.9 425.6,520.6 426.4,520.3 427.3,520.2 428.1,520.5 428.9,520.1 429.7,520.0 430.5,519.8 431.4,519.8 432.2,519.5 433.0,519.6 433.8,519.4 434.6,518.3 435.4,518.8 436.3,519.3 437.1,518.1 437.9,518.2 438.8,518.3 439.6,517.8 440.4,517.9 441.2,517.4 442.0,517.6 442.9,518.0 443.7,518.1 444.5,518.1 445.3,518.7 446.1,518.8 447.0,518.9 447.8,518.9 448.6,519.2" fill="none" stroke="#1d2a7d" stroke-width="1.35" stroke-linejoin="round"/>
</g>
<rect x="301.3" y="498.1" width="147.2" height="70.69999999999993" fill="none" stroke="#4a4a4a" stroke-width="0.95"/>
<line x1="300.90000000000003" y1="568.8" x2="448.9" y2="568.8" stroke="#5a5a5a" stroke-width="1.4"/>
<line x1="298.3" y1="506.2" x2="301.3" y2="506.2" stroke="#444" stroke-width="0.9"/>
<text x="297.7" y="509.5" font-size="9.4" text-anchor="end" fill="#231f20">1.0</text>
<line x1="298.3" y1="529.7" x2="301.3" y2="529.7" stroke="#444" stroke-width="0.9"/>
<text x="297.7" y="533.0" font-size="9.4" text-anchor="end" fill="#231f20">0.5</text>
<line x1="298.3" y1="553.2" x2="301.3" y2="553.2" stroke="#444" stroke-width="0.9"/>
<text x="297.7" y="556.5" font-size="9.4" text-anchor="end" fill="#231f20">0.0</text>
<line x1="301.3" y1="568.8" x2="301.3" y2="571.5999999999999" stroke="#444" stroke-width="0.9"/>
<text x="301.1" y="581.3" font-size="9.4" text-anchor="middle" fill="#231f20">-2.0</text>
<line x1="374.3" y1="568.8" x2="374.3" y2="571.5999999999999" stroke="#444" stroke-width="0.9"/>
<text x="374.5" y="581.3" font-size="9.4" text-anchor="middle" fill="#231f20">TSS</text>
<line x1="448.5" y1="568.8" x2="448.5" y2="571.5999999999999" stroke="#444" stroke-width="0.9"/>
<text x="447.7" y="581.3" font-size="9.4" text-anchor="middle" fill="#231f20">2.0Kb</text>
<text x="370.9" y="493.8" font-size="11.8" text-anchor="middle" fill="#231f20">TSS - 5mC</text>
<line x1="307.0" y1="548.6" x2="322.0" y2="548.6" stroke="#1d2a7d" stroke-width="1.3"/>
<line x1="307.0" y1="558.8000000000001" x2="322.0" y2="558.8000000000001" stroke="#8fd46b" stroke-width="1.3"/>
<g clip-path="url(#c2)">
<text x="323.6" y="551.6" font-size="7.9" text-anchor="start" fill="#231f20">pCMML</text>
<text x="323.6" y="561.8000000000001" font-size="7.9" text-anchor="start" fill="#231f20">dCMML</text>
</g>
<clipPath id="c3"><rect x="116.3" y="611.2" width="146.7" height="70.19999999999993"/></clipPath>
<g clip-path="url(#c3)">
<polyline points="116.3,641.8 117.3,642.1 118.2,642.4 119.2,643.1 120.2,641.7 121.3,639.8 122.3,638.4 123.4,638.3 124.6,639.1 125.8,636.0 126.9,633.4 128.1,633.3 129.2,632.2 130.3,631.3 131.5,630.7 132.5,630.5 133.6,630.5 134.6,630.9 135.5,629.9 136.4,629.3 137.4,628.0 138.3,627.6 139.2,626.6 140.1,626.6 141.0,625.8 142.0,625.2 142.9,624.7 143.8,624.3 144.7,623.1 145.7,621.9 146.6,621.0 147.6,620.2 148.5,619.2 149.7,618.2 150.8,617.7 151.9,618.0 153.1,617.6 153.8,617.0 155.4,621.6 156.6,622.9 157.7,624.5 158.9,618.2 159.9,620.3 160.8,622.6 161.9,627.1 163.1,630.8 164.1,632.8 165.2,635.4 166.2,637.6 167.3,638.6 168.5,639.5 169.5,640.3 170.5,640.7 171.5,641.7 172.5,641.7 173.6,642.2 174.6,642.7 175.5,643.2 176.4,643.5 177.4,643.4 178.3,643.7 179.2,644.0 180.1,643.9 181.0,643.8 182.0,644.1 182.9,644.4 183.8,644.8 184.8,644.5 185.9,644.1 186.9,644.1 188.1,643.0 189.1,642.9 190.2,642.7 191.2,642.7 192.2,642.0 193.2,642.0 194.2,642.3 195.2,642.7 196.3,642.1 197.3,642.1 198.2,642.0 199.1,641.8 200.1,640.7 201.0,640.6 201.9,640.3 202.9,641.7 204.0,643.0 205.0,644.8 205.9,644.3 206.8,643.9 207.8,643.9 208.7,644.1 209.6,643.7 210.6,644.4 211.7,644.9 212.7,645.7 213.7,647.4 214.8,647.9 215.8,649.0 216.9,653.3 218.1,657.9 219.1,663.3 220.1,669.9 221.2,677.8 222.7,669.7 223.8,663.3 225.0,657.0 226.2,652.3 227.3,648.1 228.3,647.2 229.4,645.4 230.4,644.5 231.3,644.9 232.2,645.5 233.1,646.5 234.0,647.5 234.9,647.9 235.8,648.5 236.7,647.8 237.5,647.3 238.4,646.6 239.3,646.0 240.2,645.6 241.0,645.1 241.9,644.3 242.8,644.6 243.7,644.7 244.7,644.2 245.6,644.2 246.5,643.8 247.5,642.8 248.6,642.6 249.6,642.0 250.8,640.3 251.9,638.8 252.9,639.5 253.9,639.8 254.8,640.4 255.8,640.8 256.8,640.1 257.8,640.6 258.8,639.9 259.7,639.7 260.6,639.0 261.5,638.7 262.4,638.0 263.3,637.6" fill="none" stroke="#8fd46b" stroke-width="1.35" stroke-linejoin="round"/>
<polyline points="116.3,639.6 117.3,640.2 118.2,639.9 119.2,640.6 120.2,638.8 121.3,637.3 122.3,636.3 123.4,636.2 124.6,636.5 125.8,633.6 126.9,630.7 128.1,630.0 129.2,629.7 130.3,628.6 131.5,628.0 132.5,628.0 133.6,627.8 134.6,627.7 135.5,626.9 136.4,626.5 137.4,625.7 138.3,624.9 139.2,624.2 140.1,623.3 141.0,623.1 142.0,622.7 142.9,622.3 143.8,621.4 144.7,620.5 145.7,619.1 146.6,618.4 147.6,617.0 148.5,616.1 149.7,616.3 150.8,614.9 151.9,615.4 153.1,615.1 153.8,614.1 155.4,618.9 156.6,620.5 157.7,622.2 158.9,615.4 159.9,617.8 160.8,620.2 161.9,624.0 163.1,628.1 164.1,630.2 165.2,633.0 166.2,634.5 167.3,635.5 168.5,636.3 169.5,636.7 170.5,638.5 171.5,638.2 172.5,639.3 173.6,639.7 174.6,640.8 175.5,640.1 176.4,641.0 177.4,640.7 178.3,641.0 179.2,641.0 180.1,641.5 181.0,641.2 182.0,641.6 182.9,641.8 183.8,642.4 184.8,641.1 185.9,641.8 186.9,641.4 188.1,640.3 189.1,640.2 190.2,639.8 191.2,640.0 192.2,639.7 193.2,639.5 194.2,639.5 195.2,639.6 196.3,639.6 197.3,639.4 198.2,639.7 199.1,638.2 200.1,637.3 201.0,637.7 201.9,637.3 202.9,638.9 204.0,640.3 205.0,641.9 205.9,641.8 206.8,641.9 207.8,641.4 208.7,641.2 209.6,641.7 210.6,642.1 211.7,642.5 212.7,644.1 213.7,644.7 214.8,645.4 215.8,646.2 216.9,650.4 218.1,654.0 219.1,660.1 220.1,666.2 221.2,674.1 222.7,666.8 223.8,660.2 225.0,653.8 226.2,650.2 227.3,645.8 228.3,644.7 229.4,643.5 230.4,641.9 231.3,642.5 232.2,643.2 233.1,643.6 234.0,644.7 234.9,645.5 235.8,645.8 236.7,645.2 237.5,644.6 238.4,643.9 239.3,643.4 240.2,642.9 241.0,642.2 241.9,641.8 242.8,641.4 243.7,641.7 244.7,641.5 245.6,641.1 246.5,640.6 247.5,640.7 248.6,640.4 249.6,639.4 250.8,637.9 251.9,636.4 252.9,637.1 253.9,637.1 254.8,637.9 255.8,638.0 256.8,638.1 257.8,637.6 258.8,637.2 259.7,636.5 260.6,636.2 261.5,635.9 262.4,635.6 263.3,635.0" fill="none" stroke="#1d2a7d" stroke-width="1.35" stroke-linejoin="round"/>
</g>
<rect x="116.3" y="611.2" width="146.7" height="70.19999999999993" fill="none" stroke="#4a4a4a" stroke-width="0.95"/>
<line x1="115.89999999999999" y1="681.4" x2="263.4" y2="681.4" stroke="#5a5a5a" stroke-width="1.4"/>
<line x1="113.3" y1="629.4" x2="116.3" y2="629.4" stroke="#444" stroke-width="0.9"/>
<text x="112.7" y="632.6999999999999" font-size="9.4" text-anchor="end" fill="#231f20">1.5</text>
<line x1="113.3" y1="650.0" x2="116.3" y2="650.0" stroke="#444" stroke-width="0.9"/>
<text x="112.7" y="653.3" font-size="9.4" text-anchor="end" fill="#231f20">1.0</text>
<line x1="113.3" y1="670.4" x2="116.3" y2="670.4" stroke="#444" stroke-width="0.9"/>
<text x="112.7" y="673.6999999999999" font-size="9.4" text-anchor="end" fill="#231f20">0.5</text>
<line x1="116.3" y1="681.4" x2="116.3" y2="684.1999999999999" stroke="#444" stroke-width="0.9"/>
<text x="116.4" y="691.7" font-size="9.4" text-anchor="middle" fill="#231f20">-2.0</text>
<line x1="158.5" y1="681.4" x2="158.5" y2="684.1999999999999" stroke="#444" stroke-width="0.9"/>
<text x="158.9" y="691.7" font-size="9.4" text-anchor="middle" fill="#231f20">TSS</text>
<line x1="221.2" y1="681.4" x2="221.2" y2="684.1999999999999" stroke="#444" stroke-width="0.9"/>
<text x="221.3" y="691.7" font-size="9.4" text-anchor="middle" fill="#231f20">TES</text>
<line x1="263.0" y1="681.4" x2="263.0" y2="684.1999999999999" stroke="#444" stroke-width="0.9"/>
<text x="258.9" y="691.7" font-size="9.4" text-anchor="middle" fill="#231f20">2.0Kb</text>
<text x="189.6" y="605.4" font-size="11.8" text-anchor="middle" fill="#231f20">Gene Bodies - 5hmC</text>
<line x1="220.4" y1="619.9" x2="234.2" y2="619.9" stroke="#1d2a7d" stroke-width="1.3"/>
<line x1="220.4" y1="630.1" x2="234.2" y2="630.1" stroke="#8fd46b" stroke-width="1.3"/>
<g clip-path="url(#c3)">
<text x="235.79999999999998" y="622.9" font-size="7.9" text-anchor="start" fill="#231f20">pCMML</text>
<text x="235.79999999999998" y="633.1" font-size="7.9" text-anchor="start" fill="#231f20">dCMML</text>
</g>
<clipPath id="c4"><rect x="297.4" y="607.4" width="146.70000000000005" height="71.60000000000002"/></clipPath>
<g clip-path="url(#c4)">
<polyline points="297.4,673.3 298.2,673.4 299.0,673.4 299.9,673.9 300.7,674.4 301.5,674.4 302.3,674.4 303.2,674.1 304.0,672.9 304.9,673.0 305.8,672.3 306.6,671.0 307.5,671.4 308.3,670.2 309.2,669.0 310.4,670.0 311.5,670.6 312.4,669.8 313.3,669.1 314.2,667.9 315.0,667.6 315.9,666.8 316.8,665.0 317.7,664.2 318.7,663.8 319.8,664.7 320.8,664.8 321.8,663.9 322.8,663.0 323.8,662.3 324.7,662.7 325.7,662.3 326.6,662.3 327.6,662.2 328.5,662.4 329.4,662.6 330.2,661.2 331.1,660.5 332.0,659.6 332.9,659.3 333.7,659.2 334.6,659.0 335.5,658.6 336.4,658.0 337.3,657.6 338.1,657.5 339.0,656.8 339.9,656.8 340.8,656.5 341.7,655.8 342.5,656.1 343.4,655.4 344.3,655.4 345.2,654.4 346.0,654.3 346.9,654.2 347.7,653.4 348.5,652.6 349.3,652.3 350.1,651.5 351.0,650.8 351.8,650.4 352.6,649.8 353.4,649.4 354.2,648.0 355.1,648.1 355.9,648.0 356.8,648.1 357.7,647.9 358.6,647.3 359.4,647.8 360.3,647.0 361.2,647.3 362.1,647.0 363.0,646.7 363.9,646.6 364.7,647.3 365.6,648.8 366.4,649.8 367.3,650.3 368.1,651.9 369.0,652.5 369.8,652.7 370.6,654.0 371.5,654.5 372.3,653.1 373.2,652.4 374.0,651.4 374.9,650.7 375.7,650.3 376.6,645.4 377.5,640.6 378.4,636.8 379.3,631.7 380.2,627.4 381.1,625.3 381.9,623.5 382.8,621.3 383.7,619.4 384.5,617.4 385.4,615.5 386.2,615.4 387.1,614.7 387.9,614.5 388.8,614.4 389.7,615.8 390.6,616.5 391.4,617.8 392.3,618.9 393.2,620.1 394.0,621.9 394.9,623.3 395.8,624.5 396.6,625.9 397.5,627.3 398.4,629.0 399.2,631.1 400.1,632.4 400.9,634.2 401.8,636.3 402.7,637.9 403.5,639.6 404.4,641.0 405.3,642.8 406.1,644.5 407.0,646.1 407.9,647.0 408.8,649.2 409.6,650.9 410.5,652.3 411.4,653.9 412.2,655.2 413.1,656.6 414.0,657.5 414.8,657.7 415.7,658.2 416.6,658.9 417.4,659.4 418.3,659.0 419.1,660.1 420.0,660.5 420.9,660.8 421.7,660.6 422.6,661.0 423.5,660.9 424.3,660.1 425.2,661.6 426.1,661.3 426.9,661.7 427.8,661.8 428.7,661.7 429.5,661.7 430.4,661.8 431.3,662.4 432.1,662.8 433.0,663.1 433.9,663.9 434.7,664.3 435.6,665.1 436.4,665.4 437.3,665.8 438.2,666.0 439.1,666.2 439.9,666.0 440.8,666.5 441.7,666.5 442.6,667.2 443.4,667.1 444.3,667.3" fill="none" stroke="#8fd46b" stroke-width="1.35" stroke-linejoin="round"/>
<polyline points="297.4,670.4 298.2,670.8 299.0,670.8 299.9,671.2 300.7,671.6 301.5,671.8 302.3,672.3 303.2,671.0 304.0,670.6 304.9,669.7 305.8,669.0 306.6,668.5 307.5,667.9 308.3,667.3 309.2,666.6 310.4,667.9 311.5,668.3 312.4,666.7 313.3,666.2 314.2,665.0 315.0,664.0 315.9,663.5 316.8,662.1 317.7,660.7 318.7,661.5 319.8,661.7 320.8,661.7 321.8,660.9 322.8,660.0 323.8,659.3 324.7,659.3 325.7,659.4 326.6,659.9 327.6,659.3 328.5,659.4 329.4,659.0 330.2,658.8 331.1,657.8 332.0,657.8 332.9,656.6 333.7,656.1 334.6,655.8 335.5,655.3 336.4,655.0 337.3,654.9 338.1,654.7 339.0,654.2 339.9,653.8 340.8,653.8 341.7,653.3 342.5,652.8 343.4,652.8 344.3,652.0 345.2,651.9 346.0,651.7 346.9,651.2 347.7,650.4 348.5,650.0 349.3,649.1 350.1,648.5 351.0,647.7 351.8,647.7 352.6,646.6 353.4,646.3 354.2,645.5 355.1,645.2 355.9,645.4 356.8,645.2 357.7,645.1 358.6,644.6 359.4,644.9 360.3,645.0 361.2,644.8 362.1,644.6 363.0,644.4 363.9,643.8 364.7,645.6 365.6,646.1 366.4,647.8 367.3,648.6 368.1,650.8 369.0,651.3 369.8,652.4 370.6,652.5 371.5,652.8 372.3,652.4 373.2,650.5 374.0,649.3 374.9,648.3 375.7,647.3 376.6,642.5 377.5,638.1 378.4,633.1 379.3,629.5 380.2,624.6 381.1,622.6 381.9,620.7 382.8,618.6 383.7,616.6 384.5,614.3 385.4,612.5 386.2,612.4 387.1,612.3 387.9,611.7 388.8,611.5 389.7,612.7 390.6,613.9 391.4,614.9 392.3,615.9 393.2,617.3 394.0,619.1 394.9,620.4 395.8,621.7 396.6,624.0 397.5,624.8 398.4,626.6 399.2,628.1 400.1,629.6 400.9,631.8 401.8,633.3 402.7,635.0 403.5,637.0 404.4,638.8 405.3,640.1 406.1,641.6 407.0,643.7 407.9,644.8 408.8,646.0 409.6,648.0 410.5,649.4 411.4,650.9 412.2,652.6 413.1,654.1 414.0,654.9 414.8,654.9 415.7,655.4 416.6,656.0 417.4,656.0 418.3,656.9 419.1,657.0 420.0,657.8 420.9,657.4 421.7,657.7 422.6,657.3 423.5,657.7 424.3,657.8 425.2,658.0 426.1,658.5 426.9,658.5 427.8,657.8 428.7,658.0 429.5,658.5 430.4,658.4 431.3,658.4 432.1,659.2 433.0,659.2 433.9,659.7 434.7,660.0 435.6,660.6 436.4,661.7 437.3,661.6 438.2,661.6 439.1,662.3 439.9,661.7 440.8,661.9 441.7,661.9 442.6,662.2 443.4,662.1 444.3,662.3" fill="none" stroke="#1d2a7d" stroke-width="1.35" stroke-linejoin="round"/>
</g>
<rect x="297.4" y="607.4" width="146.70000000000005" height="71.60000000000002" fill="none" stroke="#4a4a4a" stroke-width="0.95"/>
<line x1="297.0" y1="679.0" x2="444.5" y2="679.0" stroke="#5a5a5a" stroke-width="1.4"/>
<line x1="294.4" y1="619.2" x2="297.4" y2="619.2" stroke="#444" stroke-width="0.9"/>
<text x="293.79999999999995" y="622.5" font-size="9.4" text-anchor="end" fill="#231f20">2.5</text>
<line x1="294.4" y1="640.3" x2="297.4" y2="640.3" stroke="#444" stroke-width="0.9"/>
<text x="293.79999999999995" y="643.5999999999999" font-size="9.4" text-anchor="end" fill="#231f20">2.0</text>
<line x1="294.4" y1="661.1" x2="297.4" y2="661.1" stroke="#444" stroke-width="0.9"/>
<text x="293.79999999999995" y="664.4" font-size="9.4" text-anchor="end" fill="#231f20">1.5</text>
<line x1="297.4" y1="679.0" x2="297.4" y2="681.8" stroke="#444" stroke-width="0.9"/>
<text x="297.7" y="691.8" font-size="9.4" text-anchor="middle" fill="#231f20">-2.0</text>
<line x1="370.6" y1="679.0" x2="370.6" y2="681.8" stroke="#444" stroke-width="0.9"/>
<text x="371.0" y="691.8" font-size="9.4" text-anchor="middle" fill="#231f20">TSS</text>
<line x1="444.1" y1="679.0" x2="444.1" y2="681.8" stroke="#444" stroke-width="0.9"/>
<text x="444.6" y="691.8" font-size="9.4" text-anchor="middle" fill="#231f20">2.0Kb</text>
<text x="371.2" y="604.5" font-size="11.8" text-anchor="middle" fill="#231f20">TSS - 5hmC</text>
<line x1="303.1" y1="617.0" x2="317.7" y2="617.0" stroke="#1d2a7d" stroke-width="1.3"/>
<line x1="303.1" y1="627.2" x2="317.7" y2="627.2" stroke="#8fd46b" stroke-width="1.3"/>
<g clip-path="url(#c4)">
<text x="319.3" y="620.0" font-size="7.9" text-anchor="start" fill="#231f20">pCMML</text>
<text x="319.3" y="630.2" font-size="7.9" text-anchor="start" fill="#231f20">dCMML</text>
</g>
<text x="92.6" y="535.3" font-size="9.8" text-anchor="middle" fill="#231f20" transform="rotate(-90 92.6 535.3)">Input Subtracted</text>
<text x="93.4" y="645.9" font-size="9.8" text-anchor="middle" fill="#231f20" transform="rotate(-90 93.4 645.9)">Input Subtracted</text>
</svg>
</body></html>
